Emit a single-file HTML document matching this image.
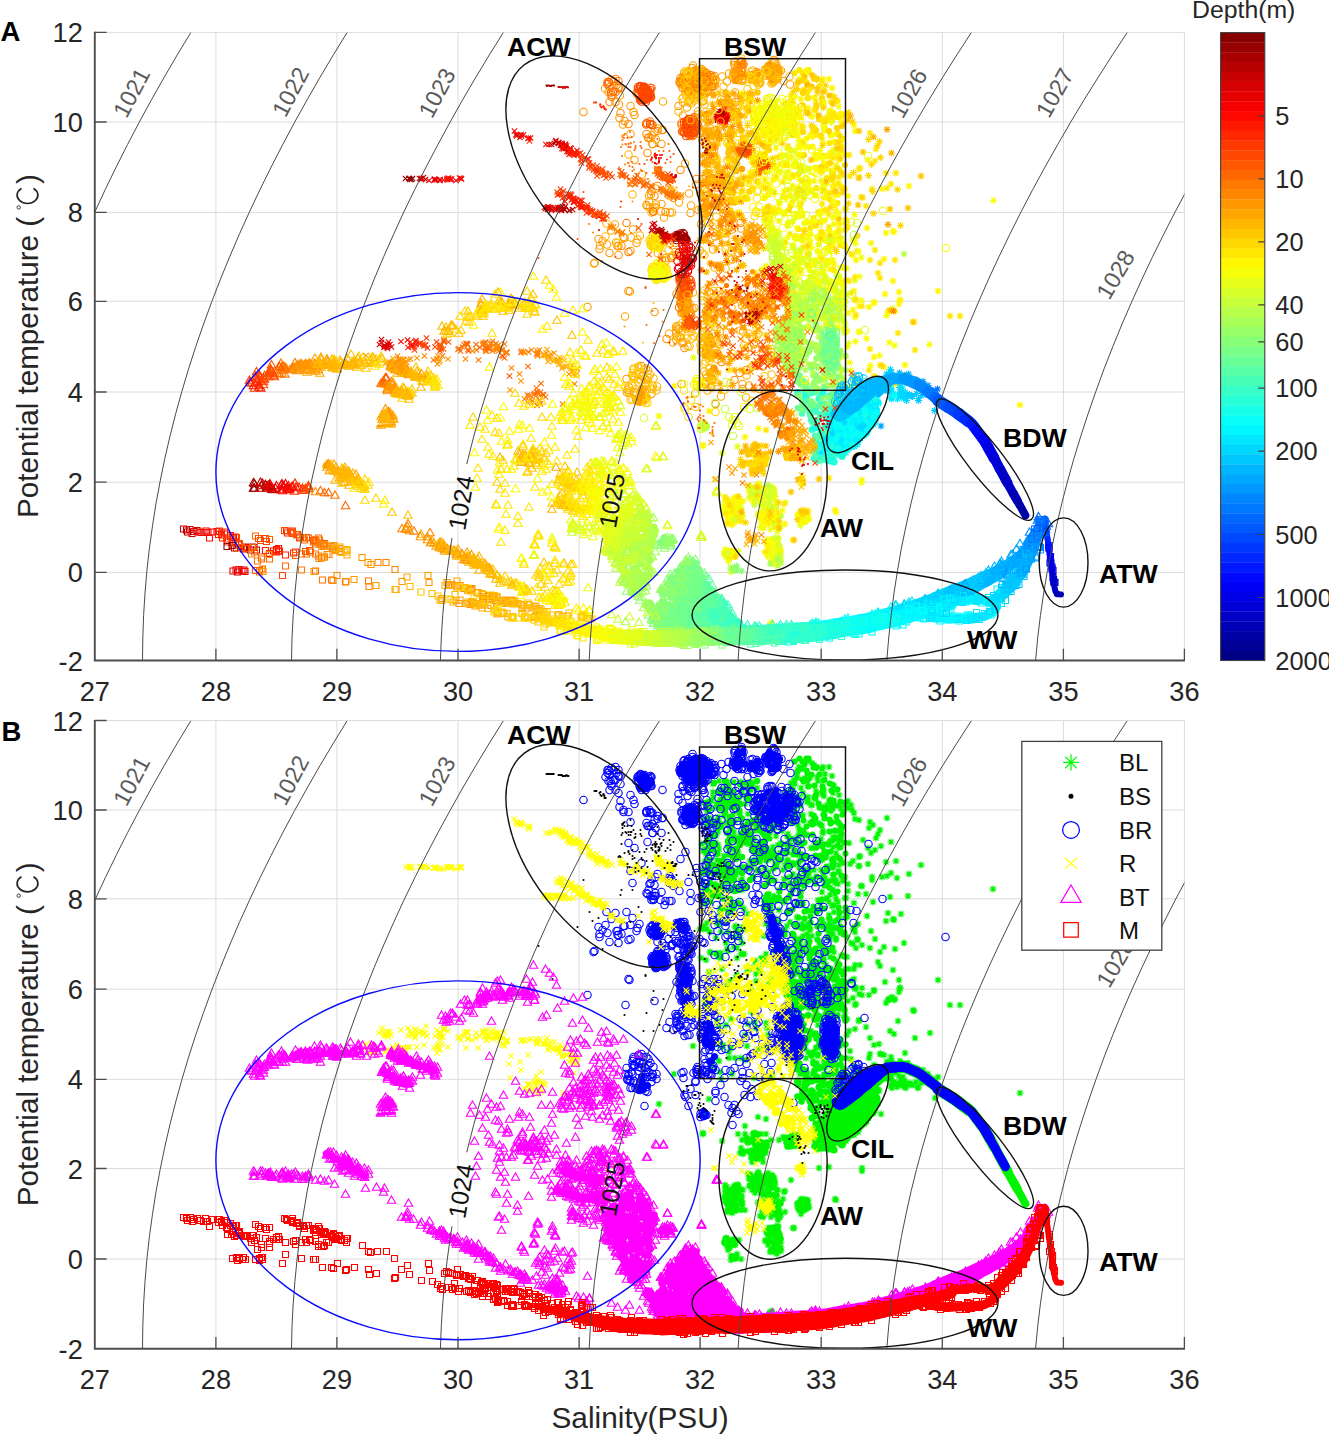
<!DOCTYPE html>
<html><head><meta charset="utf-8"><title>TS</title><style>html,body{margin:0;padding:0;background:#fff}svg{display:block}marker use{fill:none;stroke-width:1.1px}text{font-family:"Liberation Sans",sans-serif}</style></head><body>
<svg width="1329" height="1434" viewBox="0 0 1329 1434">
<rect width="1329" height="1434" fill="#fff"/>
<defs><path id="t" d="M0-4.6l4.2 7.4h-8.4z"/><path id="q" d="M-3-3h6v6h-6z"/><path id="x" d="M-2.7-2.7l5.4 5.4m0-5.4l-5.4 5.4"/><circle id="c" r="3.7"/><path id="s" d="M0-3.6v7.2M-3.6 0h7.2M-2.5-2.5l5 5M-2.5 2.5l5-5"/><circle id="d" r="1.05"/><path id="s2" d="M0-6.5v13M-6.5 0h13M-4.6-4.6l9.2 9.2M-4.6 4.6l9.2-9.2"/><marker id="m0" class="k" markerUnits="userSpaceOnUse" overflow="visible"><use href="#s" stroke="#fff700"/></marker><marker id="m1" class="k" markerUnits="userSpaceOnUse" overflow="visible"><use href="#s" stroke="#e7ff18"/></marker><marker id="m2" class="k" markerUnits="userSpaceOnUse" overflow="visible"><use href="#s" stroke="#ffe700"/></marker><marker id="m3" class="k" markerUnits="userSpaceOnUse" overflow="visible"><use href="#s" stroke="#c7ff38"/></marker><marker id="m4" class="k" markerUnits="userSpaceOnUse" overflow="visible"><use href="#s" stroke="#f7ff08"/></marker><marker id="m5" class="k" markerUnits="userSpaceOnUse" overflow="visible"><use href="#s" stroke="#ffd700"/></marker><marker id="m6" class="k" markerUnits="userSpaceOnUse" overflow="visible"><use href="#s" stroke="#d7ff28"/></marker><marker id="m7" class="k" markerUnits="userSpaceOnUse" overflow="visible"><use href="#s" stroke="#ffc700"/></marker><marker id="m8" class="k" markerUnits="userSpaceOnUse" overflow="visible"><use href="#s" stroke="#b7ff48"/></marker><marker id="m9" class="k" markerUnits="userSpaceOnUse" overflow="visible"><use href="#s" stroke="#a7ff58"/></marker><marker id="ma" class="k" markerUnits="userSpaceOnUse" overflow="visible"><use href="#s" stroke="#ffb700"/></marker><marker id="mb" class="k" markerUnits="userSpaceOnUse" overflow="visible"><use href="#s" stroke="#ff9700"/></marker><marker id="mc" class="k" markerUnits="userSpaceOnUse" overflow="visible"><use href="#s" stroke="#ffa700"/></marker><marker id="md" class="k" markerUnits="userSpaceOnUse" overflow="visible"><use href="#s" stroke="#ff7800"/></marker><marker id="me" class="k" markerUnits="userSpaceOnUse" overflow="visible"><use href="#s" stroke="#ff8700"/></marker><marker id="mf" class="k" markerUnits="userSpaceOnUse" overflow="visible"><use href="#s" stroke="#87ff78"/></marker><marker id="mg" class="k" markerUnits="userSpaceOnUse" overflow="visible"><use href="#s" stroke="#97ff68"/></marker><marker id="mh" class="k" markerUnits="userSpaceOnUse" overflow="visible"><use href="#s" stroke="#48ffb7"/></marker><marker id="mi" class="k" markerUnits="userSpaceOnUse" overflow="visible"><use href="#s" stroke="#78ff87"/></marker><marker id="mj" class="k" markerUnits="userSpaceOnUse" overflow="visible"><use href="#s" stroke="#68ff97"/></marker><marker id="mk" class="k" markerUnits="userSpaceOnUse" overflow="visible"><use href="#s" stroke="#58ffa7"/></marker><marker id="ml" class="k" markerUnits="userSpaceOnUse" overflow="visible"><use href="#s" stroke="#e70000"/></marker><marker id="mm" class="k" markerUnits="userSpaceOnUse" overflow="visible"><use href="#s" stroke="#ff0800"/></marker><marker id="mn" class="k" markerUnits="userSpaceOnUse" overflow="visible"><use href="#s" stroke="#ff1800"/></marker><marker id="mo" class="k" markerUnits="userSpaceOnUse" overflow="visible"><use href="#s" stroke="#a70000"/></marker><marker id="mp" class="k" markerUnits="userSpaceOnUse" overflow="visible"><use href="#s" stroke="#c70000"/></marker><marker id="mq" class="k" markerUnits="userSpaceOnUse" overflow="visible"><use href="#s" stroke="#d70000"/></marker><marker id="mr" class="k" markerUnits="userSpaceOnUse" overflow="visible"><use href="#s" stroke="#f70000"/></marker><marker id="ms" class="k" markerUnits="userSpaceOnUse" overflow="visible"><use href="#s" stroke="#ff2800"/></marker><marker id="mt" class="k" markerUnits="userSpaceOnUse" overflow="visible"><use href="#s" stroke="#b70000"/></marker><marker id="mu" class="k" markerUnits="userSpaceOnUse" overflow="visible"><use href="#s" stroke="#ff6800"/></marker><marker id="mv" class="k" markerUnits="userSpaceOnUse" overflow="visible"><use href="#s" stroke="#ff5800"/></marker><marker id="mw" class="k" markerUnits="userSpaceOnUse" overflow="visible"><use href="#s" stroke="#ff4800"/></marker><marker id="mx" class="k" markerUnits="userSpaceOnUse" overflow="visible"><use href="#s" stroke="#ff3800"/></marker><marker id="my" class="k" markerUnits="userSpaceOnUse" overflow="visible"><use href="#s" stroke="#28ffd7"/></marker><marker id="mz" class="k" markerUnits="userSpaceOnUse" overflow="visible"><use href="#s" stroke="#38ffc7"/></marker><marker id="m10" class="k" markerUnits="userSpaceOnUse" overflow="visible"><use href="#s" stroke="#00f7ff"/></marker><marker id="m11" class="k" markerUnits="userSpaceOnUse" overflow="visible"><use href="#s" stroke="#00e7ff"/></marker><marker id="m12" class="k" markerUnits="userSpaceOnUse" overflow="visible"><use href="#s" stroke="#08fff7"/></marker><marker id="m13" class="k" markerUnits="userSpaceOnUse" overflow="visible"><use href="#s" stroke="#18ffe7"/></marker><marker id="m14" class="k" markerUnits="userSpaceOnUse" overflow="visible"><use href="#s" stroke="#00d7ff"/></marker><marker id="m15" class="k" markerUnits="userSpaceOnUse" overflow="visible"><use href="#s" stroke="#00c7ff"/></marker><marker id="m16" class="k" markerUnits="userSpaceOnUse" overflow="visible"><use href="#s" stroke="#0068ff"/></marker><marker id="m17" class="k" markerUnits="userSpaceOnUse" overflow="visible"><use href="#s" stroke="#0097ff"/></marker><marker id="m18" class="k" markerUnits="userSpaceOnUse" overflow="visible"><use href="#s" stroke="#0087ff"/></marker><marker id="m19" class="k" markerUnits="userSpaceOnUse" overflow="visible"><use href="#s" stroke="#00b7ff"/></marker><marker id="m1a" class="k" markerUnits="userSpaceOnUse" overflow="visible"><use href="#s" stroke="#0078ff"/></marker><marker id="m1b" class="k" markerUnits="userSpaceOnUse" overflow="visible"><use href="#s" stroke="#00a7ff"/></marker><marker id="m1c" class="k" markerUnits="userSpaceOnUse" overflow="visible"><use href="#c" stroke="#ff9700"/></marker><marker id="m1d" class="k" markerUnits="userSpaceOnUse" overflow="visible"><use href="#c" stroke="#ffa700"/></marker><marker id="m1e" class="k" markerUnits="userSpaceOnUse" overflow="visible"><use href="#c" stroke="#ffb700"/></marker><marker id="m1f" class="k" markerUnits="userSpaceOnUse" overflow="visible"><use href="#c" stroke="#ff8700"/></marker><marker id="m1g" class="k" markerUnits="userSpaceOnUse" overflow="visible"><use href="#c" stroke="#ff7800"/></marker><marker id="m1h" class="k" markerUnits="userSpaceOnUse" overflow="visible"><use href="#c" stroke="#ff6800"/></marker><marker id="m1i" class="k" markerUnits="userSpaceOnUse" overflow="visible"><use href="#c" stroke="#ff5800"/></marker><marker id="m1j" class="k" markerUnits="userSpaceOnUse" overflow="visible"><use href="#c" stroke="#ff3800"/></marker><marker id="m1k" class="k" markerUnits="userSpaceOnUse" overflow="visible"><use href="#c" stroke="#ff2800"/></marker><marker id="m1l" class="k" markerUnits="userSpaceOnUse" overflow="visible"><use href="#c" stroke="#ff4800"/></marker><marker id="m1m" class="k" markerUnits="userSpaceOnUse" overflow="visible"><use href="#c" stroke="#ffc700"/></marker><marker id="m1n" class="k" markerUnits="userSpaceOnUse" overflow="visible"><use href="#c" stroke="#ffd700"/></marker><marker id="m1o" class="k" markerUnits="userSpaceOnUse" overflow="visible"><use href="#c" stroke="#ffe700"/></marker><marker id="m1p" class="k" markerUnits="userSpaceOnUse" overflow="visible"><use href="#c" stroke="#fff700"/></marker><marker id="m1q" class="k" markerUnits="userSpaceOnUse" overflow="visible"><use href="#c" stroke="#a70000"/></marker><marker id="m1r" class="k" markerUnits="userSpaceOnUse" overflow="visible"><use href="#c" stroke="#870000"/></marker><marker id="m1s" class="k" markerUnits="userSpaceOnUse" overflow="visible"><use href="#c" stroke="#b70000"/></marker><marker id="m1t" class="k" markerUnits="userSpaceOnUse" overflow="visible"><use href="#c" stroke="#c70000"/></marker><marker id="m1u" class="k" markerUnits="userSpaceOnUse" overflow="visible"><use href="#c" stroke="#970000"/></marker><marker id="m1v" class="k" markerUnits="userSpaceOnUse" overflow="visible"><use href="#c" stroke="#f70000"/></marker><marker id="m1w" class="k" markerUnits="userSpaceOnUse" overflow="visible"><use href="#c" stroke="#d70000"/></marker><marker id="m1x" class="k" markerUnits="userSpaceOnUse" overflow="visible"><use href="#c" stroke="#e70000"/></marker><marker id="m1y" class="k" markerUnits="userSpaceOnUse" overflow="visible"><use href="#c" stroke="#ff0800"/></marker><marker id="m1z" class="k" markerUnits="userSpaceOnUse" overflow="visible"><use href="#c" stroke="#ff1800"/></marker><marker id="m20" class="k" markerUnits="userSpaceOnUse" overflow="visible"><use href="#c" stroke="#f7ff08"/></marker><marker id="m21" class="k" markerUnits="userSpaceOnUse" overflow="visible"><use href="#c" stroke="#e7ff18"/></marker><marker id="m22" class="k" markerUnits="userSpaceOnUse" overflow="visible"><use href="#c" stroke="#d7ff28"/></marker><marker id="m23" class="k" markerUnits="userSpaceOnUse" overflow="visible"><use href="#c" stroke="#b7ff48"/></marker><marker id="m24" class="k" markerUnits="userSpaceOnUse" overflow="visible"><use href="#c" stroke="#c7ff38"/></marker><marker id="m25" class="k" markerUnits="userSpaceOnUse" overflow="visible"><use href="#c" stroke="#a7ff58"/></marker><marker id="m26" class="k" markerUnits="userSpaceOnUse" overflow="visible"><use href="#c" stroke="#97ff68"/></marker><marker id="m27" class="k" markerUnits="userSpaceOnUse" overflow="visible"><use href="#c" stroke="#87ff78"/></marker><marker id="m28" class="k" markerUnits="userSpaceOnUse" overflow="visible"><use href="#c" stroke="#78ff87"/></marker><marker id="m29" class="k" markerUnits="userSpaceOnUse" overflow="visible"><use href="#c" stroke="#68ff97"/></marker><marker id="m2a" class="k" markerUnits="userSpaceOnUse" overflow="visible"><use href="#c" stroke="#58ffa7"/></marker><marker id="m2b" class="k" markerUnits="userSpaceOnUse" overflow="visible"><use href="#c" stroke="#48ffb7"/></marker><marker id="m2c" class="k" markerUnits="userSpaceOnUse" overflow="visible"><use href="#c" stroke="#00b7ff"/></marker><marker id="m2d" class="k" markerUnits="userSpaceOnUse" overflow="visible"><use href="#c" stroke="#00d7ff"/></marker><marker id="m2e" class="k" markerUnits="userSpaceOnUse" overflow="visible"><use href="#c" stroke="#00c7ff"/></marker><marker id="m2f" class="k" markerUnits="userSpaceOnUse" overflow="visible"><use href="#c" stroke="#00a7ff"/></marker><marker id="m2g" class="k" markerUnits="userSpaceOnUse" overflow="visible"><use href="#x" stroke="#f70000"/></marker><marker id="m2h" class="k" markerUnits="userSpaceOnUse" overflow="visible"><use href="#x" stroke="#ff2800"/></marker><marker id="m2i" class="k" markerUnits="userSpaceOnUse" overflow="visible"><use href="#x" stroke="#ff0800"/></marker><marker id="m2j" class="k" markerUnits="userSpaceOnUse" overflow="visible"><use href="#x" stroke="#e70000"/></marker><marker id="m2k" class="k" markerUnits="userSpaceOnUse" overflow="visible"><use href="#x" stroke="#b70000"/></marker><marker id="m2l" class="k" markerUnits="userSpaceOnUse" overflow="visible"><use href="#x" stroke="#c70000"/></marker><marker id="m2m" class="k" markerUnits="userSpaceOnUse" overflow="visible"><use href="#x" stroke="#ff4800"/></marker><marker id="m2n" class="k" markerUnits="userSpaceOnUse" overflow="visible"><use href="#x" stroke="#d70000"/></marker><marker id="m2o" class="k" markerUnits="userSpaceOnUse" overflow="visible"><use href="#x" stroke="#ff3800"/></marker><marker id="m2p" class="k" markerUnits="userSpaceOnUse" overflow="visible"><use href="#x" stroke="#ff1800"/></marker><marker id="m2q" class="k" markerUnits="userSpaceOnUse" overflow="visible"><use href="#x" stroke="#ff5800"/></marker><marker id="m2r" class="k" markerUnits="userSpaceOnUse" overflow="visible"><use href="#x" stroke="#ff7800"/></marker><marker id="m2s" class="k" markerUnits="userSpaceOnUse" overflow="visible"><use href="#x" stroke="#ff6800"/></marker><marker id="m2t" class="k" markerUnits="userSpaceOnUse" overflow="visible"><use href="#x" stroke="#ff8700"/></marker><marker id="m2u" class="k" markerUnits="userSpaceOnUse" overflow="visible"><use href="#x" stroke="#ff9700"/></marker><marker id="m2v" class="k" markerUnits="userSpaceOnUse" overflow="visible"><use href="#x" stroke="#a70000"/></marker><marker id="m2w" class="k" markerUnits="userSpaceOnUse" overflow="visible"><use href="#x" stroke="#ffa700"/></marker><marker id="m2x" class="k" markerUnits="userSpaceOnUse" overflow="visible"><use href="#x" stroke="#ffb700"/></marker><marker id="m2y" class="k" markerUnits="userSpaceOnUse" overflow="visible"><use href="#x" stroke="#ffd700"/></marker><marker id="m2z" class="k" markerUnits="userSpaceOnUse" overflow="visible"><use href="#x" stroke="#ffc700"/></marker><marker id="m30" class="k" markerUnits="userSpaceOnUse" overflow="visible"><use href="#x" stroke="#870000"/></marker><marker id="m31" class="k" markerUnits="userSpaceOnUse" overflow="visible"><use href="#x" stroke="#970000"/></marker><marker id="m32" class="k" markerUnits="userSpaceOnUse" overflow="visible"><use href="#x" stroke="#ffe700"/></marker><marker id="m33" class="k" markerUnits="userSpaceOnUse" overflow="visible"><use href="#x" stroke="#fff700"/></marker><marker id="m34" class="k" markerUnits="userSpaceOnUse" overflow="visible"><use href="#x" stroke="#f7ff08"/></marker><marker id="m35" class="k" markerUnits="userSpaceOnUse" overflow="visible"><use href="#d" style="fill:#a70000;stroke:none"/></marker><marker id="m36" class="k" markerUnits="userSpaceOnUse" overflow="visible"><use href="#d" style="fill:#b70000;stroke:none"/></marker><marker id="m37" class="k" markerUnits="userSpaceOnUse" overflow="visible"><use href="#d" style="fill:#970000;stroke:none"/></marker><marker id="m38" class="k" markerUnits="userSpaceOnUse" overflow="visible"><use href="#d" style="fill:#c70000;stroke:none"/></marker><marker id="m39" class="k" markerUnits="userSpaceOnUse" overflow="visible"><use href="#d" style="fill:#d70000;stroke:none"/></marker><marker id="m3a" class="k" markerUnits="userSpaceOnUse" overflow="visible"><use href="#d" style="fill:#e70000;stroke:none"/></marker><marker id="m3b" class="k" markerUnits="userSpaceOnUse" overflow="visible"><use href="#d" style="fill:#ff2800;stroke:none"/></marker><marker id="m3c" class="k" markerUnits="userSpaceOnUse" overflow="visible"><use href="#d" style="fill:#ff3800;stroke:none"/></marker><marker id="m3d" class="k" markerUnits="userSpaceOnUse" overflow="visible"><use href="#d" style="fill:#ff4800;stroke:none"/></marker><marker id="m3e" class="k" markerUnits="userSpaceOnUse" overflow="visible"><use href="#d" style="fill:#ff1800;stroke:none"/></marker><marker id="m3f" class="k" markerUnits="userSpaceOnUse" overflow="visible"><use href="#d" style="fill:#ff6800;stroke:none"/></marker><marker id="m3g" class="k" markerUnits="userSpaceOnUse" overflow="visible"><use href="#d" style="fill:#ff5800;stroke:none"/></marker><marker id="m3h" class="k" markerUnits="userSpaceOnUse" overflow="visible"><use href="#d" style="fill:#ff7800;stroke:none"/></marker><marker id="m3i" class="k" markerUnits="userSpaceOnUse" overflow="visible"><use href="#d" style="fill:#ff8700;stroke:none"/></marker><marker id="m3j" class="k" markerUnits="userSpaceOnUse" overflow="visible"><use href="#d" style="fill:#ff0800;stroke:none"/></marker><marker id="m3k" class="k" markerUnits="userSpaceOnUse" overflow="visible"><use href="#d" style="fill:#f70000;stroke:none"/></marker><marker id="m3l" class="k" markerUnits="userSpaceOnUse" overflow="visible"><use href="#d" style="fill:#ff9700;stroke:none"/></marker><marker id="m3m" class="k" markerUnits="userSpaceOnUse" overflow="visible"><use href="#d" style="fill:#ffa700;stroke:none"/></marker><marker id="m3n" class="k" markerUnits="userSpaceOnUse" overflow="visible"><use href="#d" style="fill:#ffc700;stroke:none"/></marker><marker id="m3o" class="k" markerUnits="userSpaceOnUse" overflow="visible"><use href="#d" style="fill:#ffb700;stroke:none"/></marker><marker id="m3p" class="k" markerUnits="userSpaceOnUse" overflow="visible"><use href="#d" style="fill:#870000;stroke:none"/></marker><marker id="m3q" class="k" markerUnits="userSpaceOnUse" overflow="visible"><use href="#t" stroke="#00e7ff"/></marker><marker id="m3r" class="k" markerUnits="userSpaceOnUse" overflow="visible"><use href="#t" stroke="#0087ff"/></marker><marker id="m3s" class="k" markerUnits="userSpaceOnUse" overflow="visible"><use href="#t" stroke="#08fff7"/></marker><marker id="m3t" class="k" markerUnits="userSpaceOnUse" overflow="visible"><use href="#t" stroke="#00b7ff"/></marker><marker id="m3u" class="k" markerUnits="userSpaceOnUse" overflow="visible"><use href="#t" stroke="#18ffe7"/></marker><marker id="m3v" class="k" markerUnits="userSpaceOnUse" overflow="visible"><use href="#t" stroke="#00c7ff"/></marker><marker id="m3w" class="k" markerUnits="userSpaceOnUse" overflow="visible"><use href="#t" stroke="#00f7ff"/></marker><marker id="m3x" class="k" markerUnits="userSpaceOnUse" overflow="visible"><use href="#t" stroke="#58ffa7"/></marker><marker id="m3y" class="k" markerUnits="userSpaceOnUse" overflow="visible"><use href="#t" stroke="#0097ff"/></marker><marker id="m3z" class="k" markerUnits="userSpaceOnUse" overflow="visible"><use href="#t" stroke="#48ffb7"/></marker><marker id="m40" class="k" markerUnits="userSpaceOnUse" overflow="visible"><use href="#t" stroke="#00d7ff"/></marker><marker id="m41" class="k" markerUnits="userSpaceOnUse" overflow="visible"><use href="#t" stroke="#00a7ff"/></marker><marker id="m42" class="k" markerUnits="userSpaceOnUse" overflow="visible"><use href="#t" stroke="#38ffc7"/></marker><marker id="m43" class="k" markerUnits="userSpaceOnUse" overflow="visible"><use href="#t" stroke="#0078ff"/></marker><marker id="m44" class="k" markerUnits="userSpaceOnUse" overflow="visible"><use href="#t" stroke="#28ffd7"/></marker><marker id="m45" class="k" markerUnits="userSpaceOnUse" overflow="visible"><use href="#t" stroke="#87ff78"/></marker><marker id="m46" class="k" markerUnits="userSpaceOnUse" overflow="visible"><use href="#t" stroke="#68ff97"/></marker><marker id="m47" class="k" markerUnits="userSpaceOnUse" overflow="visible"><use href="#t" stroke="#78ff87"/></marker><marker id="m48" class="k" markerUnits="userSpaceOnUse" overflow="visible"><use href="#t" stroke="#0058ff"/></marker><marker id="m49" class="k" markerUnits="userSpaceOnUse" overflow="visible"><use href="#t" stroke="#97ff68"/></marker><marker id="m4a" class="k" markerUnits="userSpaceOnUse" overflow="visible"><use href="#t" stroke="#0068ff"/></marker><marker id="m4b" class="k" markerUnits="userSpaceOnUse" overflow="visible"><use href="#t" stroke="#ff8700"/></marker><marker id="m4c" class="k" markerUnits="userSpaceOnUse" overflow="visible"><use href="#t" stroke="#ff6800"/></marker><marker id="m4d" class="k" markerUnits="userSpaceOnUse" overflow="visible"><use href="#t" stroke="#ffc700"/></marker><marker id="m4e" class="k" markerUnits="userSpaceOnUse" overflow="visible"><use href="#t" stroke="#ff7800"/></marker><marker id="m4f" class="k" markerUnits="userSpaceOnUse" overflow="visible"><use href="#t" stroke="#ffa700"/></marker><marker id="m4g" class="k" markerUnits="userSpaceOnUse" overflow="visible"><use href="#t" stroke="#ffd700"/></marker><marker id="m4h" class="k" markerUnits="userSpaceOnUse" overflow="visible"><use href="#t" stroke="#ff0800"/></marker><marker id="m4i" class="k" markerUnits="userSpaceOnUse" overflow="visible"><use href="#t" stroke="#ff3800"/></marker><marker id="m4j" class="k" markerUnits="userSpaceOnUse" overflow="visible"><use href="#t" stroke="#ff5800"/></marker><marker id="m4k" class="k" markerUnits="userSpaceOnUse" overflow="visible"><use href="#t" stroke="#ff4800"/></marker><marker id="m4l" class="k" markerUnits="userSpaceOnUse" overflow="visible"><use href="#t" stroke="#ff9700"/></marker><marker id="m4m" class="k" markerUnits="userSpaceOnUse" overflow="visible"><use href="#t" stroke="#ffb700"/></marker><marker id="m4n" class="k" markerUnits="userSpaceOnUse" overflow="visible"><use href="#t" stroke="#ffe700"/></marker><marker id="m4o" class="k" markerUnits="userSpaceOnUse" overflow="visible"><use href="#t" stroke="#ff2800"/></marker><marker id="m4p" class="k" markerUnits="userSpaceOnUse" overflow="visible"><use href="#t" stroke="#ff1800"/></marker><marker id="m4q" class="k" markerUnits="userSpaceOnUse" overflow="visible"><use href="#t" stroke="#970000"/></marker><marker id="m4r" class="k" markerUnits="userSpaceOnUse" overflow="visible"><use href="#t" stroke="#e70000"/></marker><marker id="m4s" class="k" markerUnits="userSpaceOnUse" overflow="visible"><use href="#t" stroke="#b70000"/></marker><marker id="m4t" class="k" markerUnits="userSpaceOnUse" overflow="visible"><use href="#t" stroke="#d70000"/></marker><marker id="m4u" class="k" markerUnits="userSpaceOnUse" overflow="visible"><use href="#t" stroke="#a70000"/></marker><marker id="m4v" class="k" markerUnits="userSpaceOnUse" overflow="visible"><use href="#t" stroke="#c70000"/></marker><marker id="m4w" class="k" markerUnits="userSpaceOnUse" overflow="visible"><use href="#t" stroke="#f70000"/></marker><marker id="m4x" class="k" markerUnits="userSpaceOnUse" overflow="visible"><use href="#t" stroke="#fff700"/></marker><marker id="m4y" class="k" markerUnits="userSpaceOnUse" overflow="visible"><use href="#t" stroke="#f7ff08"/></marker><marker id="m4z" class="k" markerUnits="userSpaceOnUse" overflow="visible"><use href="#t" stroke="#e7ff18"/></marker><marker id="m50" class="k" markerUnits="userSpaceOnUse" overflow="visible"><use href="#t" stroke="#d7ff28"/></marker><marker id="m51" class="k" markerUnits="userSpaceOnUse" overflow="visible"><use href="#t" stroke="#c7ff38"/></marker><marker id="m52" class="k" markerUnits="userSpaceOnUse" overflow="visible"><use href="#t" stroke="#b7ff48"/></marker><marker id="m53" class="k" markerUnits="userSpaceOnUse" overflow="visible"><use href="#t" stroke="#a7ff58"/></marker><marker id="m54" class="k" markerUnits="userSpaceOnUse" overflow="visible"><use href="#q" stroke="#c70000"/></marker><marker id="m55" class="k" markerUnits="userSpaceOnUse" overflow="visible"><use href="#q" stroke="#b70000"/></marker><marker id="m56" class="k" markerUnits="userSpaceOnUse" overflow="visible"><use href="#q" stroke="#d70000"/></marker><marker id="m57" class="k" markerUnits="userSpaceOnUse" overflow="visible"><use href="#q" stroke="#e70000"/></marker><marker id="m58" class="k" markerUnits="userSpaceOnUse" overflow="visible"><use href="#q" stroke="#f70000"/></marker><marker id="m59" class="k" markerUnits="userSpaceOnUse" overflow="visible"><use href="#q" stroke="#ff0800"/></marker><marker id="m5a" class="k" markerUnits="userSpaceOnUse" overflow="visible"><use href="#q" stroke="#ff2800"/></marker><marker id="m5b" class="k" markerUnits="userSpaceOnUse" overflow="visible"><use href="#q" stroke="#ff3800"/></marker><marker id="m5c" class="k" markerUnits="userSpaceOnUse" overflow="visible"><use href="#q" stroke="#ff4800"/></marker><marker id="m5d" class="k" markerUnits="userSpaceOnUse" overflow="visible"><use href="#q" stroke="#ff6800"/></marker><marker id="m5e" class="k" markerUnits="userSpaceOnUse" overflow="visible"><use href="#q" stroke="#ff7800"/></marker><marker id="m5f" class="k" markerUnits="userSpaceOnUse" overflow="visible"><use href="#q" stroke="#ff5800"/></marker><marker id="m5g" class="k" markerUnits="userSpaceOnUse" overflow="visible"><use href="#q" stroke="#ff1800"/></marker><marker id="m5h" class="k" markerUnits="userSpaceOnUse" overflow="visible"><use href="#q" stroke="#ff8700"/></marker><marker id="m5i" class="k" markerUnits="userSpaceOnUse" overflow="visible"><use href="#q" stroke="#970000"/></marker><marker id="m5j" class="k" markerUnits="userSpaceOnUse" overflow="visible"><use href="#q" stroke="#ff9700"/></marker><marker id="m5k" class="k" markerUnits="userSpaceOnUse" overflow="visible"><use href="#q" stroke="#ffa700"/></marker><marker id="m5l" class="k" markerUnits="userSpaceOnUse" overflow="visible"><use href="#q" stroke="#ffb700"/></marker><marker id="m5m" class="k" markerUnits="userSpaceOnUse" overflow="visible"><use href="#q" stroke="#ffc700"/></marker><marker id="m5n" class="k" markerUnits="userSpaceOnUse" overflow="visible"><use href="#q" stroke="#ffd700"/></marker><marker id="m5o" class="k" markerUnits="userSpaceOnUse" overflow="visible"><use href="#q" stroke="#ffe700"/></marker><marker id="m5p" class="k" markerUnits="userSpaceOnUse" overflow="visible"><use href="#q" stroke="#d7ff28"/></marker><marker id="m5q" class="k" markerUnits="userSpaceOnUse" overflow="visible"><use href="#q" stroke="#c7ff38"/></marker><marker id="m5r" class="k" markerUnits="userSpaceOnUse" overflow="visible"><use href="#q" stroke="#00f7ff"/></marker><marker id="m5s" class="k" markerUnits="userSpaceOnUse" overflow="visible"><use href="#q" stroke="#08fff7"/></marker><marker id="m5t" class="k" markerUnits="userSpaceOnUse" overflow="visible"><use href="#q" stroke="#48ffb7"/></marker><marker id="m5u" class="k" markerUnits="userSpaceOnUse" overflow="visible"><use href="#q" stroke="#b7ff48"/></marker><marker id="m5v" class="k" markerUnits="userSpaceOnUse" overflow="visible"><use href="#q" stroke="#f7ff08"/></marker><marker id="m5w" class="k" markerUnits="userSpaceOnUse" overflow="visible"><use href="#q" stroke="#87ff78"/></marker><marker id="m5x" class="k" markerUnits="userSpaceOnUse" overflow="visible"><use href="#q" stroke="#a7ff58"/></marker><marker id="m5y" class="k" markerUnits="userSpaceOnUse" overflow="visible"><use href="#q" stroke="#78ff87"/></marker><marker id="m5z" class="k" markerUnits="userSpaceOnUse" overflow="visible"><use href="#q" stroke="#e7ff18"/></marker><marker id="m60" class="k" markerUnits="userSpaceOnUse" overflow="visible"><use href="#q" stroke="#97ff68"/></marker><marker id="m61" class="k" markerUnits="userSpaceOnUse" overflow="visible"><use href="#q" stroke="#28ffd7"/></marker><marker id="m62" class="k" markerUnits="userSpaceOnUse" overflow="visible"><use href="#q" stroke="#18ffe7"/></marker><marker id="m63" class="k" markerUnits="userSpaceOnUse" overflow="visible"><use href="#q" stroke="#58ffa7"/></marker><marker id="m64" class="k" markerUnits="userSpaceOnUse" overflow="visible"><use href="#q" stroke="#38ffc7"/></marker><marker id="m65" class="k" markerUnits="userSpaceOnUse" overflow="visible"><use href="#q" stroke="#68ff97"/></marker><marker id="m66" class="k" markerUnits="userSpaceOnUse" overflow="visible"><use href="#q" stroke="#00e7ff"/></marker><marker id="m67" class="k" markerUnits="userSpaceOnUse" overflow="visible"><use href="#q" stroke="#fff700"/></marker><marker id="m68" class="k" markerUnits="userSpaceOnUse" overflow="visible"><use href="#q" stroke="#00d7ff"/></marker><marker id="m69" class="k" markerUnits="userSpaceOnUse" overflow="visible"><use href="#q" stroke="#00b7ff"/></marker><marker id="m6a" class="k" markerUnits="userSpaceOnUse" overflow="visible"><use href="#q" stroke="#0068ff"/></marker><marker id="m6b" class="k" markerUnits="userSpaceOnUse" overflow="visible"><use href="#q" stroke="#00c7ff"/></marker><marker id="m6c" class="k" markerUnits="userSpaceOnUse" overflow="visible"><use href="#q" stroke="#00a7ff"/></marker><marker id="m6d" class="k" markerUnits="userSpaceOnUse" overflow="visible"><use href="#q" stroke="#0087ff"/></marker><marker id="m6e" class="k" markerUnits="userSpaceOnUse" overflow="visible"><use href="#q" stroke="#0097ff"/></marker><marker id="m6f" class="k" markerUnits="userSpaceOnUse" overflow="visible"><use href="#q" stroke="#0078ff"/></marker><marker id="m6g" class="k" markerUnits="userSpaceOnUse" overflow="visible"><use href="#q" stroke="#0058ff"/></marker><marker id="m6h" class="k" markerUnits="userSpaceOnUse" overflow="visible"><use href="#q" stroke="#0018ff"/></marker><marker id="m6i" class="k" markerUnits="userSpaceOnUse" overflow="visible"><use href="#q" stroke="#0000b7"/></marker><marker id="m6j" class="k" markerUnits="userSpaceOnUse" overflow="visible"><use href="#q" stroke="#0000f7"/></marker><marker id="m6k" class="k" markerUnits="userSpaceOnUse" overflow="visible"><use href="#q" stroke="#0000c7"/></marker><marker id="m6l" class="k" markerUnits="userSpaceOnUse" overflow="visible"><use href="#q" stroke="#0000e7"/></marker><marker id="m6m" class="k" markerUnits="userSpaceOnUse" overflow="visible"><use href="#q" stroke="#0000d7"/></marker><marker id="m6n" class="k" markerUnits="userSpaceOnUse" overflow="visible"><use href="#q" stroke="#0008ff"/></marker><marker id="m6o" class="k" markerUnits="userSpaceOnUse" overflow="visible"><use href="#s" stroke="#00f400"/></marker><marker id="m6p" class="k" markerUnits="userSpaceOnUse" overflow="visible"><use href="#c" stroke="#0000ff"/></marker><marker id="m6q" class="k" markerUnits="userSpaceOnUse" overflow="visible"><use href="#x" stroke="#ffff00"/></marker><marker id="m6r" class="k" markerUnits="userSpaceOnUse" overflow="visible"><use href="#d" style="fill:#000000;stroke:none"/></marker><marker id="m6s" class="k" markerUnits="userSpaceOnUse" overflow="visible"><use href="#t" stroke="#ff00ff"/></marker><marker id="m6t" class="k" markerUnits="userSpaceOnUse" overflow="visible"><use href="#q" stroke="#ff0000"/></marker></defs>
<defs><clipPath id="ca"><rect x="94.8" y="32.4" width="1089.6" height="628.0"/></clipPath><clipPath id="cb"><rect x="94.8" y="720.7" width="1089.6" height="628.0"/></clipPath></defs>
<path d="M215.9 32.4V660.5M336.9 32.4V660.5M458.0 32.4V660.5M579.1 32.4V660.5M700.1 32.4V660.5M821.2 32.4V660.5M942.3 32.4V660.5M1063.4 32.4V660.5M1184.4 32.4V660.5M94.8 572.4H1184.4M94.8 482.2H1184.4M94.8 392.0H1184.4M94.8 301.3H1184.4M94.8 212.4H1184.4M94.8 122.0H1184.4M94.8 32.4H1184.4" stroke="#dcdcdc" stroke-width="1" fill="none"/>
<g clip-path="url(#ca)" fill="none" stroke-linecap="round">
<path d="M839 421.6L842.2 419.3M842.2 419.3L845.4 416.9" stroke="#00b7ff" stroke-width="10"/>
<path d="M845.4 416.9L848.7 414.6M848.7 414.6L851.9 412.2M851.9 412.2L855.2 409.8M855.2 409.8L858.4 407.5M858.4 407.5L861.7 405.1" stroke="#00b7ff" stroke-width="11"/>
<path d="M861.7 405.1L864.7 402.5M864.7 402.5L867.7 399.9M867.7 399.9L870.7 397.2M870.7 397.2L873.7 394.5M873.7 394.5L876.7 391.9M876.7 391.9L879.7 389.2M879.7 389.2L882.7 386.6M882.7 386.6L885.9 384.1M885.9 384.1L889 381.6" stroke="#00b7ff" stroke-width="12"/>
<path d="M889 381.6L892.3 379.4M892.3 379.4L896.3 379.1M896.3 379.1L900.3 378.8M900.3 378.8L904.3 378.4" stroke="#00a7ff" stroke-width="12"/>
<path d="M904.3 378.4L907.9 380M907.9 380L911.6 381.6M911.6 381.6L915.3 383.2M915.3 383.2L919 384.8" stroke="#0097ff" stroke-width="12"/>
<path d="M919 384.8L922.2 387.2M922.2 387.2L925.3 389.7M925.3 389.7L928.5 392.1" stroke="#0087ff" stroke-width="12"/>
<path d="M928.5 392.1L931.7 394.6M931.7 394.6L934.8 397.1" stroke="#0078ff" stroke-width="11"/>
<path d="M934.8 397.1L938 399.5" stroke="#0068ff" stroke-width="11"/>
<path d="M938 400.6L941.5 402.7M941.5 402.7L944.9 404.9M944.9 404.9L948.4 407.1" stroke="#0058ff" stroke-width="12"/>
<path d="M948.4 407.1L951.9 409.2M951.9 409.2L955.3 411.5M955.3 411.5L958.6 413.9" stroke="#0048ff" stroke-width="12"/>
<path d="M958.6 413.9L961.9 416.4M961.9 416.4L965.1 418.8M965.1 418.8L968.4 421.3" stroke="#0038ff" stroke-width="12"/>
<path d="M968.4 421.3L971.7 423.7M971.7 423.7L974.2 427" stroke="#0028ff" stroke-width="11"/>
<path d="M974.2 427L976.6 430.3M976.6 430.3L979.1 433.6M979.1 433.6L981.5 436.8" stroke="#0018ff" stroke-width="11"/>
<path d="M981.5 436.8L984 440.1M984 440.1L986 443.6M986 443.6L988 447.2" stroke="#0008ff" stroke-width="11"/>
<path d="M988 447.2L990 450.8M990 450.8L992 454.4M992 454.4L994 458" stroke="#0000f7" stroke-width="11"/>
<path d="M994 458L996 461.5M996 461.5L997.9 465.2M997.9 465.2L999.8 468.8" stroke="#0000e7" stroke-width="10"/>
<path d="M999.8 468.8L1001.8 472.4M1001.8 472.4L1003.7 476M1003.7 476L1005.7 479.6" stroke="#0000d7" stroke-width="10"/>
<path d="M1005.7 479.6L1007.6 483.2" stroke="#0000c7" stroke-width="10"/>
<path d="M1007.6 483.2L1009.5 486.8M1009.5 486.8L1011.5 490.4M1011.5 490.4L1013.5 493.9" stroke="#0000c7" stroke-width="9"/>
<path d="M1013.5 493.9L1015.5 497.5M1015.5 497.5L1017.5 501.1" stroke="#0000b7" stroke-width="9"/>
<path d="M1017.5 501.1L1019.5 504.7" stroke="#0000b7" stroke-width="8"/>
<path d="M1019.5 504.7L1021.5 508.2M1021.5 508.2L1023.4 511.8M1023.4 511.8L1025.4 515.4" stroke="#0000a7" stroke-width="8"/>
<path d="M759.5 140h0m12 0h0m1-9h0m2-10h0m5 5h0m4 3h0m5-21h0m3-8h0m7 13h0m17-3h0m14 2h0m4 1h0m4 4h0m1 0h0m7-3h0m-8-13h0m-6 1h0m-7-11h0m-5-5h0m-13-4h0m-9 1h0m-3-10h0m5-3h0m3 3h0m6-3h0m-1 22h0m-5-1h0m10 42h0m1 2h0m11-8h0m2-6h0m11 12h0m4 7h0m-12 3h0m3 9h0m-9 4h0m-6-1h0m-27-5h0m-3 15h0m-14 0h0m-8-6h0m-1 0h0m2-11h0m32 26h0m8 12h0m10 2h0m11 6h0m2 5h0m8 4h0m4-16h0m-8-1h0m-1-6h0m-6-2h0m-7 44h0m-6-4h0m-3 10h0m-12 1h0m23 3h0m-4 5h0m21 2h0m2-1h0m0 7h0m3 1h0m2-23h0m-12 47h0m-47-10h0m-12-8h0m-4-14h0m0-24h0m-2-1h0m-4 0h0m3-6h0m6 3h0m5 0h0m12-4h0m-7-10h0m-2 84h0" stroke="#ffe700" stroke-width="6.2"/>
<path d="M763.5 158.5h0m1 4h0m2 3h0m7 14h0m-4 10h0m-1 5h0m-4 3h0m15 6h0m-3 9h0m-6 5h0m18 5h0m-1 3h0m8 11h0m7 4h0m2-11h0m-2-14h0m0-2h0m18 0h0m4 7h0m-12 2h0m17 8h0m7 2h0m-2 7h0m-1-1h0m-3 6h0m14 0h0m-5-21h0m6-4h0m-21-22h0m-9-2h0m-4-5h0m-1 1h0m-5-8h0m-1 0h0m-11-7h0m3-10h0m2-12h0m3-13h0m5-3h0m6-2h0m0 10h0m4 12h0m-1 9h0m9-4h0m1 0h0m3-7h0m9 0h0m2 3h0m0-7h0m0-1h0m5 3h0m-2-16h0m-12-3h0m-6-5h0m6-20h0m10 3h0m-8-18h0m-18 2h0m-8 12h0m-9 1h0m3 7h0m-10-1h0m-9 40h0m5 7h0m-1 34h0m5-2h0m-6 47h0m-2 3h0m-5 11h0m43 1h0m5 5h0m-1 17h0m-5 4h0m17-2h0m2 0h0m-11 25h0m-21-236h0" stroke="#fff700" stroke-width="6.2"/>
<path d="M774.5 262h0m5 0h0m1 2h0m7-4h0m8-3h0m3-1h0m2 3h0m-2 3h0m-1 5h0m-2 3h0m5-1h0m9 1h0m-1-5h0m4 0h0m3-5h0m2-9h0m0-13h0m-7-4h0m-3-12h0m-3 1h0m-4-14h0m-3-19h0m9-3h0m0-18h0m-5-3h0m-8 0h0m-1 10h0m-4 2h0m-12-9h0m44 2h0m5-2h0m-3-11h0m1 27h0m-2 26h0m5 30h0m3 21h0m3-2h0m12 8h0m-21 3h0m0 2h0m-5 8h0m12 0h0m0 3h0m3 7h0m-7 9h0m-41 0h0m0 3h0m-4-27h0m-1 0h0m-5-24h0m1-17h0m17 11h0m10-103h0m20-17h0m18 20h0" stroke="#f7ff08" stroke-width="6.2"/>
<path d="M764 135h0m1 12h0m0 7h0m4-4h0m0-6h0m4 23h0m-8 1h0m1 4h0m8 20h0m-6 21h0m-3 4h0m24-7h0m27 15h0m14 11h0m0 10h0m3-72h0m-1-3h0m-2-8h0m-9 4h0m-20 4h0m3-16h0m-2-11h0m1-12h0m-10 3h0m2-11h0m-2-15h0m23-2h0m3 12h0m5 2h0m8-1h0m0-1h0m5 9h0m5-2h0m-13 5h0m-8 5h0m-5-6h0m-3-2h0m-5-30h0m-5-5h0m19 5h0m-5-19h0m-3 0h0m21 63h0m10 23h0" stroke="#ffd700" stroke-width="6.2"/>
<path d="M807.5 85h0" stroke="#ffb700" stroke-width="6.2"/>
<path d="M771.5 190.5h0m9-19h0m7-23h0m10 48h0m-5 25h0m0 24h0m8 6h0m8 5h0m3 5h0m2 11h0m-1 4h0m-2 0h0m5 3h0m3 1h0m-10 4h0m4 7h0m1 8h0m-16 1h0m-3 0h0m-10-18h0m6-13h0m4-6h0m2 2h0m30-1h0m13 12h0m1 17h0m-2 14h0m5 1h0m-11-68h0m-14 4h0m21-75h0" stroke="#e7ff18" stroke-width="6.2"/>
<path d="M787 307.5h0m4-4h0m0-3h0m0-13h0m6-3h0m11-3h0m1 10h0m-5 0h0m11 23h0m-22 2h0m47-18h0m-31-45h0" stroke="#d7ff28" stroke-width="6.2"/>
<path d="M771.5 138.5h0m14-35h0m37 0h0m7-8h0m-18-9h0m-7-10h0m14 39h0m25 8h0m-5 95h0" stroke="#ffc700" stroke-width="6.2"/>
<path d="M780 245h0m12 32h0m33 15h0" stroke="#c7ff38" stroke-width="6.2"/>
<path d="M823.5 318h0" stroke="#b7ff48" stroke-width="6.2"/>
<path d="M709.5 206.5h0m25-4h0m-1-10h0m-2-4h0m0-7h0m-5-2h0m-5 1h0m-4-14h0m-5-5h0m16-3h0m0-6h0m1-4h0m14-6h0m-2-12h0m-1-1h0m0-14h0m-8 2h0m0 1h0m-6-15h0m-7-1h0m-6-8h0m12-2h0m23 18h0m6 11h0m6 34h0m-28 13h0" stroke="#ffb700" stroke-width="6.4"/>
<path d="M702 184.5h0m7-6h0m-1-14h0m-2 36h0m1 5h0m-2-91h0m24-13h0" stroke="#ff9700" stroke-width="6.4"/>
<path d="M704 182h0m9 2h0m0-7h0m-5-5h0m-3-10h0m2-9h0m-2-22h0m14 7h0m12-2h0m-1-4h0m-5-8h0m2-9h0m-1-10h0m-1-3h0m15-6h0m3 42h0m-1 31h0m-6 2h0m0 13h0m-4 5h0m-4-7h0m-8 5h0m1-15h0m-11 22h0m-4 9h0m12 4h0" stroke="#ffa700" stroke-width="6.4"/>
<path d="M713.5 133.5h0m17-5h0m8-7h0m0-7h0m9-7h0m3-10h0m7-5h0m-3 39h0m-6 3h0m10 7h0m-19 15h0m-5 4h0m-5-11h0m-7 23h0m-4 5h0m7 12h0m8 10h0m8-15h0m11 4h0m5-7h0" stroke="#ffc700" stroke-width="6.4"/>
<path d="M730.5 210.5h0m7-9h0m8-4h0m4-6h0m8-63h0m-22-15h0" stroke="#ffd700" stroke-width="6.4"/>
<path d="M736.5 199h0m11 0h0m7-41h0m2-24h0" stroke="#ffe700" stroke-width="6.4"/>
<path d="M707 114h0" stroke="#ff8700" stroke-width="6.4"/>
<path d="M793.5 346.5h0m5 3h0m0 2h0m1-9h0m-5 24h0m1 5h0m-2 0h0m1 4h0m19-1h0m0 1h0m1 7h0m-1 3h0m-7-1h0m-1 9h0m-8-1h0m22 12h0m5-18h0m4-1h0m-4-6h0m-4 0h0m8-5h0m-11-8h0m-1-8h0" stroke="#97ff68" stroke-width="6.6"/>
<path d="M732.5 568h0m47-9h0m-11-56h0m-7 2h0m36-111h0m5-42h0m3-10h0m10 3h0m2 3h0m6 5h0m1-1h0m-1 6h0m3 1h0m-4 2h0m15 3h0m2 4h0m1 8h0m3 4h0m-8 1h0m-5-5h0m9-20h0m1-5h0m5 5h0m-12-19h0m-1-10h0m-2-13h0m-25-2h0m-3 0h0m0-4h0m5 1h0m-11-6h0m0-3h0m-5 17h0m-4 7h0m-4 1h0m7 10h0m-4 7h0m16-14h0m6-1h0m-10-4h0" stroke="#b7ff48" stroke-width="6.6"/>
<path d="M735.5 570.5h0m66-163h0m1-7h0m2 0h0m7 1h0m2 6h0m12-1h0m2-10h0m5-2h0m8-2h0m-1 10h0m3 9h0m-33-18h0m-4-11h0m-2 2h0m-2-2h0m-4-1h0m-3-18h0m3-15h0m14 19h0m5 10h0m1 1h0" stroke="#87ff78" stroke-width="6.6"/>
<path d="M728 506.5h0m3 0h0m3 5h0m22-11h0m1-4h0m4 1h0m1-7h0m6 2h0m3 4h0m2 2h0m3 8h0m-12 0h0m7 33h0m0 22h0m12-225h0m4-15h0m4-1h0m6-9h0m-1-5h0m5-2h0m-11 1h0m8-11h0m3-6h0m3-5h0m-9-1h0m-4 0h0m1 5h0m33-6h0m0 13h0m9-5h0m2 0h0m5-7h0m3 11h0m1 1h0m-17 12h0m-1 3h0m1 3h0m-3 1h0m1 7h0m3 0h0m2 4h0m-5 1h0m1 1h0m-8 2h0m-5 2h0m2-13h0m-2-7h0m-6 5h0m37 16h0m0 1h0" stroke="#d7ff28" stroke-width="6.6"/>
<path d="M733 569.5h0m72-187h0m12 6h0m-1 3h0m5-12h0m10-2h0m3 8h0m3-1h0m5 1h0m-15-15h0m-3-1h0m-10-5h0m5-10h0m3-1h0m-5-3h0m-8 1h0m1-5h0m-7-10h0m-7-3h0m4-4h0m16-1h0m17 20h0m1 4h0m0 9h0m-2-3h0m-34-1h0m1 4h0m-3 7h0m-3-21h0" stroke="#a7ff58" stroke-width="6.6"/>
<path d="M726 551h0m49 3h0m5-2h0m-3-11h0m-8-20h0m3-5h0m-6-8h0m-4-7h0m-2-2h0m-2-6h0m7 0h0m2 2h0m-31 14h0m65 9h0m26-171h0m17-18h0m0-7h0m-9-3h0m1-3h0m3-6h0m3-3h0m1-6h0m0-2h0m2 2h0m-7-8h0m-11-1h0m-2-2h0m-13 2h0m-2-9h0m-17 2h0" stroke="#e7ff18" stroke-width="6.6"/>
<path d="M766.5 488h0m2 2h0m0 2h0m12 24h0m-1 43h0m-5-2h0m1 6h0m6-224h0m5-3h0m0-3h0m-7-1h0m16-2h0m3 2h0m1-1h0m3 8h0m0-21h0m-5 0h0m-2 3h0m-4-12h0m-2-6h0m0-9h0m19-2h0m-1-3h0m3-1h0m3-3h0m-12 22h0m13 14h0m0 0h0m5 9h0m9-6h0m6 4h0m2 1h0m-3 9h0m8-20h0m-7-11h0m-8 3h0m15 60h0m0 21h0" stroke="#c7ff38" stroke-width="6.6"/>
<path d="M799.5 375.5h0m3 5h0m0 26h0m30 2h0m9-1h0m-5-6h0m-11-15h0" stroke="#78ff87" stroke-width="6.6"/>
<path d="M798 408h0m5-5h0m8 2h0m20-2h0m2 3h0m-17 48h0m0 5h0" stroke="#68ff97" stroke-width="6.6"/>
<path d="M726.5 550.5h0m4 3h0m1-2h0m1 3h0m37-1h0m-2-8h0m10 5h0m3 0h0m-5-24h0m1-10h0m-10 3h0m-4-3h0m-1-26h0m-4-5h0m-2 8h0m-5 3h0m-21 5h0m0 10h0m-1 3h0m-1 1h0m0 1h0m2 0h0m5-8h0m65 7h0m3 0h0m28-181h0m7-52h0m6 4h0" stroke="#f7ff08" stroke-width="6.6"/>
<path d="M814.5 411h0m16-1h0m-15 43h0m3 5h0" stroke="#58ffa7" stroke-width="6.6"/>
<path d="M829 413.5h0m-27 0h0" stroke="#48ffb7" stroke-width="6.6"/>
<path d="M718.5 115h0m2 1h0m1-3h0m0-1h0m1 7h0" stroke="#c70000" stroke-width="6.6"/>
<path d="M721.5 116h0" stroke="#b70000" stroke-width="6.6"/>
<path d="M721.5 113.5h0m0 0h0" stroke="#d70000" stroke-width="6.6"/>
<path d="M730 510.5h0m8-2h0m-1-9h0m19-2h0m0-5h0m-1-2h0m3 4h0m-7-7h0m-1-23h0m6-7h0m-2-4h0m18 58h0m7 16h0m-8 14h0m29-22h0m3 1h0m1-1h0m1 2h0m0-3h0m1-3h0m0-3h0" stroke="#ffe700" stroke-width="6.6"/>
<path d="M748 453h0m10 0h0m6 2h0m2-1h0m-5 12h0m-8 0h0m0 3h0m2-6h0m32-5h0m1-3h0m-2 0h0m16 58h0" stroke="#ffc700" stroke-width="6.6"/>
<path d="M750.5 463h0m6 0h0m5 0h0m0-3h0m-3-7h0m-1 17h0m32-12h0m16 56h0m-27 8h0m-3 4h0" stroke="#ffd700" stroke-width="6.6"/>
<path d="M751.5 453.5h0m5 1h0m4 0h0m-4 15h0m34-18h0" stroke="#ffb700" stroke-width="6.6"/>
<path d="M764 464h0m28-6h0m-3-9h0m-3 1h0" stroke="#ffa700" stroke-width="6.6"/>
<path d="M724.5 553.5h0m7-2h0m1 1h0m2 4h0m0-41h0m-6 3h0m-2-4h0m3-6h0m3 0h0m0-7h0m4 0h0m4 0h0m32 5h0m-1 8h0m-1 26h0m3 1h0m-1 6h0m-2-1h0m9 1h0m-1 5h0m23-35h0m3-1h0m-4-2h0m-11-63h0" stroke="#fff700" stroke-width="6.6"/>
<path d="M814 458.5h0" stroke="#28ffd7" stroke-width="6.6"/>
<path d="M827.5 439.5h0m2 3h0m1 0h0m2 5h0m6-1h0m0-1h0m6 3h0m1-2h0m5 0h0m-1-4h0m-3 0h0m8-2h0m1 3h0m1-11h0m4 1h0m1-3h0m5-2h0m1-2h0m3-1h0m2-2h0m1-3h0m2-5h0m-5 0h0m-1 0h0m1 1h0m-2 2h0m0 0h0m-2 4h0m-2 1h0m-2-3h0m-4-2h0m-1-2h0m-2 1h0m1 4h0m-3-1h0m1 4h0m-2 1h0m0 0h0m0 1h0m-2 1h0m-3 0h0m1-1h0m0 5h0m-5-4h0m-4 1h0m-1-3h0m-3 0h0m0-2h0m4-1h0m1-6h0m-2-1h0m0-3h0m-2 2h0m-2 0h0m0 0h0m1 3h0m-3 4h0m1 6h0m2 2h0m2 4h0m2 1h0m-10-2h0m15-15h0m0-2h0m4 0h0m-2-4h0m-3 0h0m-2-2h0m2-2h0m1-2h0m1 0h0m1 1h0m7-2h0m3-1h0m1-1h0m0 4h0m1 3h0m0 3h0m-3-1h0m10 2h0m1-5h0m0-1h0m5 0h0m-4-5h0m0-5h0m-1-2h0m-1 0h0m-3-2h0m1 7h0m6-2h0m5 2h0m-22-2h0m6 27h0" stroke="#00f7ff" stroke-width="8"/>
<path d="M829 426h0m5-2h0m-1-2h0m8 0h0m-2 4h0m0 3h0m-2-1h0m1 6h0m1 5h0m1 3h0m-2 3h0m-2 2h0m8-1h0m2-1h0m2 3h0m2-8h0m5-3h0m8-2h0m3-2h0m-5-3h0m3-6h0m0-3h0m4-2h0m-8-4h0m1-1h0m-5-3h0m-1 5h0m-3 1h0m-1 3h0m1 5h0m-2-1h0m3 3h0m2 0h0m1-3h0m2-16h0m-9-2h0m-6 2h0m-3-1h0m4 4h0m-2 5h0m-3-1h0m-3 0h0m1-1h0m-5 19h0m-2 1h0m0 8h0m16-7h0m30-21h0m-2-9h0m-1 0h0m-2 1h0m-2-2h0m-2-1h0m1-2h0m2-2h0m-1-1h0m-1-2h0m-1 3h0m-3-2h0m-2 3h0m11 1h0m2 3h0" stroke="#08fff7" stroke-width="8"/>
<path d="M829 435h0m7 5h0m4 0h0m0-3h0m8-1h0m-1-7h0m6-1h0m2 6h0m3-1h0m1 5h0m-4 5h0m-7 2h0m-5 0h0m-11 0h0m4-22h0m7 1h0m1-6h0m5-1h0m0-9h0m-5-2h0m-1 4h0m-8 6h0m20 6h0m6 1h0m8 1h0m-1-5h0m-5-5h0m-1 0h0m-2-12h0m4-2h0m2 1h0m1-6h0m2 12h0m7 3h0m-21-10h0m-1-2h0" stroke="#00e7ff" stroke-width="8"/>
<path d="M832.5 431h0m1 3h0m5 15h0m9-26h0m17-5h0m2-2h0m-1-16h0m-4 0h0" stroke="#18ffe7" stroke-width="8"/>
<path d="M841 423.5h0" stroke="#00d7ff" stroke-width="8"/>
<path d="M806 391.5h0m6 1h0m11-1h0m-4 7h0m2 5h0m-5 8h0m-6 1h0m16 0h0m2 3h0m8-3h0m-4-7h0m6-8h0m-1-3h0m4-3h0m-20 40h0m2 3h0m2 5h0m-9-1h0m1 6h0m11 6h0m7 3h0m-2 4h0m-21-28h0" stroke="#38ffc7" stroke-width="7.2"/>
<path d="M803.5 402h0m17 2h0m19-6h0m-14 29h0" stroke="#68ff97" stroke-width="7.2"/>
<path d="M806.5 396h0m16 8h0m2 5h0m2-1h0m7 0h0m0-9h0m7-2h0m0-1h0m-8 26h0m-15-2h0m-6 0h0m1 2h0m5 5h0m-2 9h0m10-1h0m-1 9h0m6 10h0m8-2h0m-18-37h0" stroke="#48ffb7" stroke-width="7.2"/>
<path d="M815 428h0m11 6h0m3 3h0m-1 1h0m2 11h0m-6 2h0m-4 1h0m-3 2h0m4 4h0m7 0h0m0-2h0m2 5h0m4 1h0m-13-16h0m12-37h0m-3-13h0m-8-3h0" stroke="#18ffe7" stroke-width="7.2"/>
<path d="M805.5 401h0m2-6h0m9-3h0m8 12h0m8-3h0m0-2h0m-5 33h0m-9 5h0m-8-22h0" stroke="#58ffa7" stroke-width="7.2"/>
<path d="M798 392.5h0m7 3h0m32 12h0m-3 15h0m-7-4h0m-1 25h0m5 1h0m3 2h0m-2 5h0m8 1h0m-1 1h0m3 3h0m-12 3h0m-6 0h0m-4-6h0m-4-5h0m2-3h0" stroke="#28ffd7" stroke-width="7.2"/>
<path d="M803 409h0" stroke="#78ff87" stroke-width="7.2"/>
<path d="M821 455h0m0-5h0m2-1h0m4 5h0m3-9h0m-2-4h0m8 6h0m7 3h0" stroke="#08fff7" stroke-width="7.2"/>
<path d="M832.5 441h0m-13 12h0" stroke="#00e7ff" stroke-width="7.2"/>
<path d="M659 416l15-30 35 25-6 34 0 1 42-9 10 11 3-1 3 42 5-1-1 7-3 3-10-2-3-5-1-5-5 15-9-1 0-2 2-1-2 11 4 1 4 7-6 4 1 1-2 1-4 1 1 2-4-1 1-2-4-11 0-10 33 14 11-2 4-6 1-18 4 40 7-5 18-2 0-3 2-1 1 1 0 2 3-2-1-3-7-1-2 0 2 3-8 22-18 11-10 1 1-10-3-14-37 23-1 4 1 0 3 4 41 65 65-114 1 2 26-32 33-96 6-9 4-10-21 2-4-2-6-8-15-25-12-1 1-18 5-3 2 7 4-11-4-6-1-9-12 1 1-10-8 2-7 5-20-1-7-29 7-11 2-6-11-3-2-11 11-6 26 2 5 5 8-2 6 13-6 9 6 6 3 5-13 7-9-3-4 5-3-8 2-13 4-3-10-8 1-2 12-24-1-5 0-11 3 0 10 1-9-13-6 4-6-4-6-2-7 0-5 0 7-12 6 3 0-1 12 6 2-12-6-12-3 3-7 0-5-1-1 4 9-16 11-1-2-24 9 3 13 4 1 6 13 29 14 29 27-3-16 45 1 1-8 1-15 10-4-15 17 31 9 22 6 11 1 8 0 0-1 4-4 7-6 0-1 1-3-18-11 8 0 1-5 4-31 8-47-7-2-41-2 1-21-2-9 13 19-48-5-8-1-2 9 0 0-11-5-2-1 5 11-22 7-2 2-3-8-9-8 1-3-10-9 0-5 2-10 3 2-11 8-7 21 0 7 2-8 7-4-16 2-14 20 2 2 9-2 2 12-12 1-19-3-8-9 1-6-1-3-5 11-4-6 15-3 5-6 0-2-1 11 4 28-16 1-4 8-14-3-9-6 0-15-7-9 7-50 19-8-5 5 51-17 17 1 18 33 7 6-2 33 12 23-6 113 101-24 31 106 83" style="marker:url(#m0)"/>
<path d="M693.5 357.5l44 89 12 44 0 7 5-3 6-1-1-5-1-4 7 8 2 6 3-2 3-2 1-1 1 3 0 5-1 6-6 2 1 2-7 0 0 3 1-8-1-3 23-1-5 23-1 3-2 3-2-6-5 4 2 10 0 2 0 4-1 8 7-2-2-12 24-14 1-3-2-1 7-6-64 1-1-8-3 1-6 10 0 36-3 3-3-1-1-4 13-2 110-165 16-3-16-40-6-28-5-10-1-1-6 2-7-6-3 2-4-3-4-1 1 7-8-6-3-7 0-4 1 2 1-7 9 0 3 3 5 1-6 5-1 0 20-3 0-2 8 5 12-12-14-13-19 0-5-4-13-2-5 0 0 3 2-8 3-17-7-25-11-2-6-11 14-1 4-4 9-3 3-25-23 4-7 0-10-1 16-16 48-6 2 1-4 24 0-52-6 154-28 2-6-7-3 25 9 6-7 12 33 4 69-10-127-35" style="marker:url(#m1)"/>
<path d="M725 497l2 2 1 4 4 7 3-3 5 4 1 3-5 3 1 1 4 3-14 2-2-11 9 39-5 8 37-7 3-5 2-27 6 4 1-12 6-8 17 7 3-1 4 1-1 2-4 3-1 5-42-25-2-3-4 0 6-5 7-1-2-23 1-4 2-2-5 1-5 1-5 6-11-3 12-17 12-16-37-60 26-97 21-11 1-5 8-15 5-8 12 2 6 2-5 9 4 7 0 11-7 7-6 20-12-6 40-27 0-26 7-6 0-13-2-4-2 0-7 2 4-8 10-2-2-9 3-1 5-8 1-7 4-2 7 1 9 1 0-8 1-1 15-7 1-12-6-16-31 2-17 3-4-3-4-8-11 0-1-1-8 3-4 4-10-4-4 7-5 1 2 4-11 2-1 11-9 3 15 3 1 3-4 4-4 7 5 6-7 3-5 6-12 3-14 1 11 20-4 6 3 23 3 8 30-29 3-9-5-4-3 1 19 5 8-12 9 1-1 2 4-7-7-3 0-3-10-2-4-8-8-6 18-1 7-9 2-10-11 1-3-11 20 1 25 11-1 13 0 6-5-11-6 5-13 14-2-3-21-17-2-43 0-7 2-4 5-6 1-10 17 3 2-9-8-9 20 1-6 21-2 8-11-5-5 8-4 6-20 6-30 14 4-40-3-4 77 25 1-1 4-2 4 0 3-2 10 1 5 39-4 34 0 20 1 0 1 13 0 6-2 2-6 2 12 22 6-3 18-1-5 10 10 3-2 10 2 5-25-1-6 4-3-1 5 13 4 6 1 1 6 6-6 9-19-14 33 48-1 21 5 6-6 12-11-4 58-34-17-17 52-17 10 0-65-56-8-72 4-4-5-11 10 0-24 16-11 8 5 9-37 272" style="marker:url(#m2)"/>
<path d="M752.5 494l3-2-1 13 17 2-2-11 6 66-1 1 3 3 2-4-1-222 14 2 11 8-4 7 21-8 4 3 5 6 7 3-11 4 6-20 4-1-3-10-1-4-3-2 7-8 4 0-8-15 3-6-14 2-4 6 0 5 1 6-1 3-16-1-2-3-2 1 3-4 9-3-4-5-7-3-1 0-7 2-3-4-2-4 7-2-3-8 14 1 5-5 4 8-19-21-5 43 31 24 18-61" style="marker:url(#m3)"/>
<path d="M723.5 508.5l5 0-4-4 12 3 3-3-2-5 1-3 14 5 7-5-1-13 9 6 4-3 11 24-7 11-3 1-4 2-5 3-3 0 1-5-3-9-17-1-11 5 0 0-5 32-1 2 9 0 1 3-6 7 39-5 6 1 4 1-1-5 0-2 1-4 0-2-2-3-2-2-4 0-2-1 4 7 1 0 6-8-5 25-2 59 29-101-2-2 0-5-1 1 7 2 3 2 54-37-7-98 0-5-4-9-1-8-2-16 8-5 4-10 7 7 23 4 5 3-15 10-9 10 16-50-25-15-18 1 1 5-3-11-6 5-5 3 0 1-2 2-1 2-11-3-6-8 2 19 15 6-2 4 13 0-8-39-1-3 4 0 3-12 10-4 13 8 2-19-3-6-3-8 0-5-14 3-4-1-3-7-6-3-5 9 3 10 4 2-11 2-8-6-2-7-3-3 1-1-12 3-8-2-3 10-3 8 7 5 0 13 7 0-17-1-13-2-4-1-7 9 19-33-3-6-5-20 17-7 15 3 17 5 5-6 13 3 2-1 4-3-5-12-8-5-2-7-16 3 1-7-2-1-8 3 1-8-11-8 5-7 2-2 0-1-6-3 11-11 5-1-7-6-4-25 18 1 26-10-5 28-13 16-2 4 15 15 21 45-41 50 5 9-3 6 4 3-23-30-42-81 6-12-7-25 42-38 198 104-64 144-171 84-6 24" style="marker:url(#m4)"/>
<path d="M704.5 426.5l50 19 7 0-10 6 0 11-5 0-6 2 0-5 11 10 2 0 9 1 1 3 2-9 0-6-7 4-1 32-19 2-9 9 16 17 33-2 0-18 19 17 5-5-4-68-10 7-44-82 0-24-13-49 4-8 24-7 4-8 14-6 5-1-19-20 4-22-3-7 1-4 3-9-3-18-3-21 1-3-4-1-4 0 4-7 1 1-12-1-3-6 3-9 6 1 1-4 3-1-10-3-1-9 8-12-14-10-8 7-5-17-7 45 6 6 3 13-13 0 1 4 19 2-1 2 12 16-6 9 2 8-8 2-8 1 2-8-7-8 6 29 0 1 14 50 64-20-3-14 16 7 15 11 1 2 21-16 16-22-1-22-10 6-14 6-6-11 1-2-2-18-4-4 3-10 1-9-1-2-2-5 2-6-18 9-11-20 5-20 7 2 11-10-17-5-1-13 0-1-3-2-12 4 3 9-8 0 0-1-3 3-1 10 2 11-6 2-9-1 0 19-12-1 7 8-2 19 0 5-2 1 7-7 25 23 0 10-4-1 24 1 10-13 21-5 15 3 3-11 9-7-3-12 2-4-11-2-16-18-4-9-23-27 5 122 67-18 3 36-19 140-27 11-22-58-97 238" style="marker:url(#m5)"/>
<path d="M722 453l28 33 2 4 4 0 5 1 2 3 5 1 1-6 2 0 1-1 1 1 1 2-6 13-12-3-21 18-8 34 4 19 46-16 4-2 0 5-2-13 0-1-1-7-3 0-1-15 50-147 16-18-2-7 1-31 4-1 2 6-12-4-3-4-6 0-4 0-2-4-3-1 2-4-7-1-3 1-1 5 6 6 3 1-7 6-10-8-7 7-3-18 6-1 0-5-3-5 9 2 6-5 5-10 23 2 5 7-4 5-6 4 3 8 7 2 1 0-15 0-21-51-4-10-5 0-1 16-7 9-6 7-2-48 50 6-29-69-6-20-7-24" style="marker:url(#m6)"/>
<path d="M706 315l3-31 1-21 33 2 4 19-17 9 6-55 12-12 18 10-34-34-11 1-1 1-8-25-5 2 7-25 4-12 3-8 6-2 7 10 7 1-5 16 0 9-3-2-1-1-3-13 25 9 1 2 8-3-1-17-7-13 17-3 7 3 3 11 12-16 13-14 1 0 9-24 6 3 10 12 15 16 11 11 4 21-26-4-26 12 25 31 22 14 1-27 31 31 18-1 13-32-8 146-23-12-124 25 0 23-25 12 5 80 1 0 1 5-5 9 0-1 0 3 9 5 0 3 5-3 5-2-1-13 0-2 5-8-11-2-2 2 35 5 9 0-6 41 10 19 5 1-12 28-15-12-22-41 62-8-68-301-4 0 7-3-8-66-14 3 2-9-6-5-9-5-7 20 86-31 14-7" style="marker:url(#m7)"/>
<path d="M768 485l13 78 18-167 19-7-5-16-5-9-6-11-13-1-3-3-6-8-1-3 19-3 4 0 9 8 13-7 10-1 0 14 2 2 3 4 4 26-2 5-2-69-9 3 1 2-3-14-23 2 0 8 4 2 8 6-23-6-4-2 2-11-3-10 7-1 5 6-7-16-1 0 22 3-24 71 113-106" style="marker:url(#m8)"/>
<path d="M730.5 568l6-1 34-3 7-5 28-189 5-5 8 3 0 13 15 2 1-9 11-4-2 15-18-38-13 0-8 13-6-6-1-16-4-3-7 9 11-29 4-2-1-8 4-2 12 4 3 24" style="marker:url(#m9)"/>
<path d="M703.5 241l16-4 1-15 2-11-6-9 1-5-3-1-8 3 0 13 0-28-1-3 13 1 4 2 1 2 2-1 3 2-3-12-2-7-6-3 0 7-2-18-3-6 1-12-4-6-1-8 9 6 17 5-4 7 10 5-4 9 0 9 2 17 5-2 10-27 9-7-12-11-11-8 5-9-6-6 3-10 9 2-1-9 3 1-24 4 1 4-2 12-15-10 74 10 64 2 23 21 18 16-65 28-85 35-1 50-4 4-17-2 0 1-13 3 10-23-10 63 3 34 9-9 2 20-2 16-6 5 22-8 21-54 0-23 13 3 2 156-13-6-5 4-7-4-4 6 50 6 3 0 2-3-55 57" style="marker:url(#ma)"/>
<path d="M699.5 240.5l11 3 11 0-1-18 1-5 4 0 3 4 5-5-3-5-12-9-5 2 5-8 4-3 0-2-5-11-9 0 0-9-6-11 0-8 11-11 6-6-2-6-9 1-1 4-1-17 7-12 7-7 6-2 1-3 3 11-8 8 3 9-2 3 9-1-5 10 3 4 15 8-4 53-38-2-2-7 42 48-7 19-10 1 1 2 23 18 0 20 0 23 5 16 12 0-8 22-27 24-12 5-5-20-9-16 11-22-4-12 65 131-21-351" style="marker:url(#mb)"/>
<path d="M703 206.5l0 1 2 9 5-13 4-6 9 3 0-16 3-3 0-3 2-3-6-2-7 4-5-5-5 0 1-7 2-7 0-8 4-13 4-3-6-4-3-8 2-10 4-17 21-2-5 10 5 5 5 7 0 10 1 24-7 1 1-2 24 15-22 23-2 29 10 5-1 18-8 0 3 6-10-1-1-10-8-1-2 2-13 3 3 3 13-19 1 43-4 0 5 16 15 6-11 11-21 15 1 5 13 39 4 1-1 2 9 0-2 4 18-6 1-22 7-2 13 14 4 40-18 2-34-6 63 65 2 1 1 0 2 1 4-3 0-1 2 1 1-1-2 9 5 3-27-168 117-66-1-95" style="marker:url(#mc)"/>
<path d="M711.5 155l35 0 0-2 1-4-2-2 17 20-4 5 0 1-47 32 0 59 5 2 18-17-13-146" style="marker:url(#md)"/>
<path d="M707.5 235l3-21 21 8 8-7 2 39-7 5-9-5-4 15 34 16-24 46-6 6-17 15 0-43 19-142 11-16-23-3 3-15-8-12 56 44 127 146" style="marker:url(#me)"/>
<path d="M736.5 566l5 5 60-164-3-11 2-11 1-4-5-7-4-10 0-1-1-24 33 18 11 11 2 9-4 15-1 12-9 3-1-9" style="marker:url(#mf)"/>
<path d="M733.5 570l95-167 0-6-11-8 2-9-3-5 7-3 3 2 8-15-28-4 1-6-7 14-7-31 1-19 21 11" style="marker:url(#mg)"/>
<path d="M804 405l14 44 0 9 1 3 13 0 1-11" style="marker:url(#mh)"/>
<path d="M803 403.5l5 4 6-4-5-14-2 0-2-1 28 8 4 0 6 1-7 15" style="marker:url(#mi)"/>
<path d="M806 409l16 50" style="marker:url(#mj)"/>
<path d="M814.5 453l3 4-1 1 5 2-3-53 17 10" style="marker:url(#mk)"/>
<path d="M717 117l3-2 7 0-3 5" style="marker:url(#ml)"/>
<path d="M725.5 121l2-2-1-3" style="marker:url(#mm)"/>
<path d="M724.5 118.5l-1 0" style="marker:url(#mn)"/>
<path d="M717.5 120l0 0" style="marker:url(#mo)"/>
<path d="M717 116.5l4-1-1-4 2 0" style="marker:url(#mp)"/>
<path d="M721.5 115l3 6 3-2" style="marker:url(#mq)"/>
<path d="M718 117.5l3 0 0 4" style="marker:url(#mr)"/>
<path d="M724.5 109l22 42" style="marker:url(#ms)"/>
<path d="M722.5 113l0 0" style="marker:url(#mt)"/>
<path d="M701 270l58-99 2-3 3-4-23-12 2-7 1 1" style="marker:url(#mu)"/>
<path d="M738 149.5l4 1-1 3 4 1 4-2 2-4-1-2 9 16 0 2 3-2 2 1 1-2 2 3" style="marker:url(#mv)"/>
<path d="M744 144.5l4 2 1 6 13 15" style="marker:url(#mw)"/>
<path d="M767.5 166.5l-8-6" style="marker:url(#mx)"/>
<path d="M820.5 457l8-2-1-2 1-5 2-1 0-3 2-4 5 5 3 4 2 1-10 9-3 1" style="marker:url(#my)"/>
<path d="M817 461l3-18 26 10" style="marker:url(#mz)"/>
<path d="M826.5 426.5l4-1 2-1 0 2 1 1 1 2 2 4 0 1 0 4-1 3-2-1 0 0-2-2-2-2 5 0-2-3 8-1 1-1 2-2 2 1 1-2 0 4 4-3-1-4 3-4-1-6-1-6 0-3-3-1-1 2 0 0-1 2-2 1 0 3 0 4-4 0-2 4-1 1 5 1-3-10-1-3-3 1 0 0-3 9-2 2-3 21 6 2 4 0 1-2 2 1 3 2 4-2 0-2 2 2 2 2 4 0 3-2 1-4 0 0 2-2 0-2 3-2 3-5 0 1 2-1 1-3-4-2-1-1-5-1 0-2 1-1 1-3 2-1 2-1 1 1 2-3 0-2 1-1-3-2-1 0-6 1-1 2-2-4 1-1 4 0-1-5 3 0-1-3 1-2 1-1 0-2 3 2 2 1 0 1 3 1 1-3 1 6 3 1 1 1 0 1-3 2-1 8-3-1-1 6-2 1 5 1 2 1-2 3-13 3-1 1-2 2-1 2-3 4-3 0-3 2 0 1 7 1-14 11-3-3-8 0 11-44 4-4 1 0 3 1 3 2 3-2 4 0 0-2-2-5-1 0-4 3 17 1-8 15 37-19 6 4" style="marker:url(#m10)"/>
<path d="M825.5 439l4 4 1 0 2 0 0 1 8-1 0 6 3 0 0 4 5-10 9-2 1-2 2-2-2-3-2-3-4-2-3 2 3 3-13-2-1-5 2-4 2-4 2 1 1-1-9-1-2-2-1-1 0 0 3-2 4-5 4 0 11-4 0-8 9 7-2 2 4 2 2 9-6-1-3-3 1 14 8 1 1 0 8-12-2-14-1 1 2-2-4-6 19 0 2 0-2-3 0-2 0 9 0 1 6 0 4-4 0-3 2 2 2 3 6-1-9-8-13-13-3-1-55 48 1 7" style="marker:url(#m11)"/>
<path d="M819 444.5l9 4 4 0 1 0 0 1 4 0 1 1 4 1 1 0 3-1 1-1 0 0 4-4-5-3-1-8 6 1 0-5 1-2-1-1 6 3 3 0-2 2-2 2 4 2 4-1 4-6 2-4-3-2-2-9 0-3 0-3-1-8-4-2-2-2-4 1-4 2-1 4 2 1 2 4 2 4-14 0-2-4-4 2 1 3-2 4-1-1 0 3 2 5 2-1-1 4 3-1 3 1 1-1-2-1 0-2 0-1 3-1 2-3 0-15 25-5-2-6 7 20 1 0-4 4 21-21-65 29 3 17-1 1 5-3 3-5" style="marker:url(#m12)"/>
<path d="M816.5 446.5l15 0 1-1 6 2 1 8 3 0-11 5-4 0 7-25-3-3 20 12 1-36 13 7 10-16-3-4" style="marker:url(#m13)"/>
<path d="M832.5 414.5l8-6 4 14 15 5 2 1 2-3-9-25-1-6 47-2 2 2 1 2-3 0 7-1-2-3 1 8 12-2-19-11-3-11-4 1-4-3 2-5-58 64" style="marker:url(#m14)"/>
<path d="M888.5 373.5l3-1 1 5 0 0 0 1-1 0 10 0 8 16 3 2 4-3 5 2-3 5 16 10" style="marker:url(#m15)"/>
<path d="M933 391l0 0" style="marker:url(#m16)"/>
<path d="M911 379.5l1 0 4 0 3 4 4-2 5 4" style="marker:url(#m17)"/>
<path d="M924 392.5l5-3 3 6 3-2" style="marker:url(#m18)"/>
<path d="M887.5 391l17-10 1-2 1 0 2-5-9-1" style="marker:url(#m19)"/>
<path d="M932.5 392l3 1 2-4" style="marker:url(#m1a)"/>
<path d="M881 426l21-46 1-1 2-3 5 3 0 1 5 0 2 1 2 1" style="marker:url(#m1b)"/>
<path d="M683.3 276.6L683.7 281.3" stroke="#ff5800" stroke-width="7"/>
<path d="M683.7 281.3L684.2 285.9" stroke="#ff6800" stroke-width="7"/>
<path d="M684.2 285.9L684.6 290.6" stroke="#ff8700" stroke-width="7"/>
<path d="M684.6 290.6L685.1 295.3" stroke="#ff9700" stroke-width="7"/>
<path d="M685.1 295.3L685.6 299.9" stroke="#ffa700" stroke-width="7"/>
<path d="M684 279.9L684.2 284.2" stroke="#ff5800" stroke-width="8"/>
<path d="M684.2 284.2L684.4 288.4M684.4 288.4L684.6 292.7" stroke="#ff6800" stroke-width="8"/>
<path d="M684.6 292.7L684.8 297" stroke="#ff7800" stroke-width="8"/>
<path d="M684.8 297L685 301.3" stroke="#ff8700" stroke-width="8"/>
<path d="M685 301.3L685.3 305.6M685.3 305.6L685.6 309.8M685.6 309.8L685.8 314.1M685.8 314.1L686.1 318.4" stroke="#ff9700" stroke-width="8"/>
<path d="M686.1 318.4L686.4 322.7M686.4 322.7L686.7 326.9" stroke="#ffa700" stroke-width="8"/>
<path d="M771.8 229.5L772.7 233.5M772.7 233.5L773.7 237.6" stroke="#e7ff18" stroke-width="8"/>
<path d="M773.7 237.6L774.6 241.6M774.6 241.6L775.5 245.6M775.5 245.6L776.5 249.7M776.5 249.7L777.4 253.7M777.4 253.7L778.4 257.8M778.4 257.8L779.3 261.8" stroke="#d7ff28" stroke-width="8"/>
<path d="M779.3 261.8L780.3 265.9M780.3 265.9L781.2 269.9M781.2 269.9L782.2 274M782.2 274L783.2 278M783.2 278L784.1 282.1" stroke="#c7ff38" stroke-width="8"/>
<path d="M784.1 282.1L785.1 286.1" stroke="#b7ff48" stroke-width="8"/>
<path d="M840 413.2L843.1 410.5" stroke="#00c7ff" stroke-width="17"/>
<path d="M843.1 410.5L846.2 407.8" stroke="#00c7ff" stroke-width="18"/>
<path d="M846.2 407.8L849.4 405.1" stroke="#00c7ff" stroke-width="19"/>
<path d="M849.4 405.1L852.5 402.4M855.6 399.7L858.9 397.2M858.9 397.2L862.2 394.7M862.2 394.7L865.5 392.3" stroke="#00b7ff" stroke-width="19"/>
<path d="M852.5 402.4L855.6 399.7" stroke="#00b7ff" stroke-width="20"/>
<path d="M865.5 392.3L868.8 389.8" stroke="#00b7ff" stroke-width="18"/>
<path d="M868.8 389.8L872.1 387.3" stroke="#00b7ff" stroke-width="17"/>
<path d="M872.1 387.3L875.7 385.4" stroke="#00b7ff" stroke-width="16"/>
<path d="M875.7 385.4L879.4 383.5" stroke="#00b7ff" stroke-width="14"/>
<path d="M879.4 383.5L883.1 381.7" stroke="#00b7ff" stroke-width="12"/>
<path d="M883.1 381.7L886.7 379.8M886.7 379.8L890.8 379.3" stroke="#00b7ff" stroke-width="11"/>
<path d="M890.8 379.3L894.9 379" stroke="#00a7ff" stroke-width="11"/>
<path d="M894.9 379L899 378.8M899 378.8L903.1 378.5" stroke="#00a7ff" stroke-width="10"/>
<path d="M903.1 378.5L907 379.6M907 379.6L910.8 381.2M910.8 381.2L914.6 382.9M914.6 382.9L918.4 384.5" stroke="#0097ff" stroke-width="10"/>
<path d="M918.4 384.5L921.7 386.9M921.7 386.9L925 389.4M925 389.4L928.2 391.9" stroke="#0087ff" stroke-width="10"/>
<path d="M928.2 391.9L931.5 394.5M931.5 394.5L934.7 397" stroke="#0078ff" stroke-width="10"/>
<path d="M934.7 397L938 399.5" stroke="#0068ff" stroke-width="10"/>
<path d="M938 400.6L941.4 402.7M941.4 402.7L944.9 404.9M944.9 404.9L948.3 407" stroke="#0058ff" stroke-width="11"/>
<path d="M948.3 407L951.7 409.2M951.7 409.2L955.2 411.3M955.2 411.3L958.4 413.8" stroke="#0048ff" stroke-width="11"/>
<path d="M958.4 413.8L961.7 416.2" stroke="#0038ff" stroke-width="11"/>
<path d="M961.7 416.2L964.9 418.6" stroke="#0038ff" stroke-width="10"/>
<path d="M964.9 418.6L968.1 421.1M968.1 421.1L971.4 423.5" stroke="#0028ff" stroke-width="10"/>
<path d="M971.4 423.5L973.9 426.7M973.9 426.7L976.3 429.9" stroke="#0018ff" stroke-width="10"/>
<path d="M976.3 429.9L978.8 433.1M978.8 433.1L981.2 436.4M981.2 436.4L983.6 439.6" stroke="#0008ff" stroke-width="10"/>
<path d="M983.6 439.6L985.7 443.1M985.7 443.1L987.7 446.6" stroke="#0000f7" stroke-width="10"/>
<path d="M987.7 446.6L989.7 450.2" stroke="#0000e7" stroke-width="10"/>
<path d="M989.7 450.2L991.6 453.7M991.6 453.7L993.6 457.3" stroke="#0000e7" stroke-width="9"/>
<path d="M993.6 457.3L995.6 460.8M995.6 460.8L997.5 464.4M997.5 464.4L999.5 467.9M999.5 467.9L1001.5 471.4" stroke="#0000d7" stroke-width="9"/>
<path d="M1001.5 471.4L1003.5 475M1003.5 475L1005.4 478.5" stroke="#0000c7" stroke-width="9"/>
<path d="M642 98h0m1 1h0m3-1h0m-1-4h0m1-5h0m0 0h0m1 0h0m4 4h0m-7-7h0m45 42h0" stroke="#ff4800" stroke-width="7.0"/>
<path d="M640 90.5h0m1 2h0m2 1h0m4 0h0m4 1h0m-5 5h0m43 34h0m5-1h0" stroke="#ff5800" stroke-width="7.0"/>
<path d="M640 98.5h0m7-5h0m44 30h0m0 2h0m2 3h0m2 2h0m-6 3h0" stroke="#ff6800" stroke-width="7.0"/>
<path d="M649.5 97.5h0m-6-6h0" stroke="#ff3800" stroke-width="7.0"/>
<path d="M646.5 92.5h0m37-15h0m3 3h0m7-4h0m2-2h0m2 10h0m4-3h0m2 6h0m5-9h0" stroke="#ff8700" stroke-width="7.0"/>
<path d="M642 388.5h0m2 13h0m65-28h0m2-2h0m0-15h0m4-1h0m-4-17h0m-3 1h0m-45-69h0m-3-24h0m-6 0h0m0-8h0m3 0h0m28-151h0m-1-5h0m0-5h0m-1-1h0m7 2h0m0 5h0m1 0h0m5 2h0m-2 3h0m3 2h0m8-2h0m4-13h0m-10-3h0" stroke="#ffb700" stroke-width="7.0"/>
<path d="M654.5 276h0m5-5h0m-1 0h0m-2-5h0m6 0h0m2 9h0m1 1h0m-2 1h0m-3-39h0m-4 1h0m-1-3h0m108-105h0m6-3h0m2 1h0m5 2h0m3 0h0m0 1h0m1-2h0m-3-7h0m-4-3h0m-5 2h0m-3-1h0m-3-3h0m0-7h0m0-3h0m10 1h0m2-2h0m3 6h0m-6 0h0m13-3h0m2-1h0m1 0h0m-1 6h0m-2 1h0" stroke="#fff700" stroke-width="7.0"/>
<path d="M642.5 396.5h0m15-126h0m2 0h0m3 1h0m2 0h0m0 2h0m-2 1h0m-2-30h0m1-3h0m108-110h0m10-9h0m6 4h0m2-10h0m3 1h0m-13-9h0m-20 10h0" stroke="#ffe700" stroke-width="7.0"/>
<path d="M655 241.5h0m1 3h0m4-3h0m0 6h0m47 96h0m2 9h0m2 6h0m0-282h0m-28 3h0" stroke="#ffc700" stroke-width="7.0"/>
<path d="M640 402.5h0m1-13h0m64-34h0m3 0h0m-3-8h0m-48-101h0m30-157h0m-1 0h0m2 0h0m6-1h0m0-1h0m-1 4h0m-3-8h0m0-1h0m-1 0h0m0-3h0m5-1h0m6 2h0m1-1h0m-1-3h0m4-1h0m-1 9h0m7 1h0m-25-1h0m-2-1h0" stroke="#ffa700" stroke-width="7.0"/>
<path d="M637.5 399h0m10-2h0m8-123h0m2-1h0m4-3h0m-2-2h0m5 5h0m-1 3h0m-8-30h0m1-2h0m43-166h0" stroke="#ffd700" stroke-width="7.0"/>
<path d="M677.5 237.5h0m1-2h0m4 3h0m2 0h0m0-2h0m1 0h0" stroke="#a70000" stroke-width="6"/>
<path d="M677.5 236.5h0m3 2h0" stroke="#970000" stroke-width="6"/>
<path d="M684.5 237.5h0m-3 2h0" stroke="#870000" stroke-width="6"/>
<path d="M653 270.5h0m3 1h0m2 0h0m1 0h0m1 2h0m1 4h0m100-155h0m9 2h0m6 1h0m5-8h0m3 0h0m2 3h0m3 1h0m-16-7h0m2-12h0" stroke="#f7ff08" stroke-width="7.0"/>
<path d="M661.5 269h0" stroke="#c7ff38" stroke-width="7.0"/>
<path d="M640 399h0m2 0h0m0-6h0m72-25h0m-9-16h0m8-8h0m-3-8h0m-18-207h0m0-39h0m-1 1h0m4 0h0m0-2h0m-5-1h0m-3 0h0m-7-5h0m0-3h0m5-3h0m13-5h0m2 0h0m2 14h0m1 2h0m3-6h0m2-1h0" stroke="#ff9700" stroke-width="7.0"/>
<path d="M684.5 85h0m2 4h0m1 33h0m-1 6h0m1 0h0m-3 0h0m7 1h0m-2 3h0m4-9h0" stroke="#ff7800" stroke-width="7.0"/>
<path d="M656 278h0m3 0h0m108-174h0" stroke="#e7ff18" stroke-width="7.0"/>
<path d="M684.5 82.5h0m2 5h0m3 2h0m6-4h0m7-7h0m2-1h0m-1-5h0m31 4h0m2 0h0m8-1h0m9 1h0m3-1h0m1-1h0m19 5h0m-2 2h0m1-13h0" stroke="#ffb700" stroke-width="7.2"/>
<path d="M687 82.5h0m4 0h0m12 2h0m3-8h0m45-1h0m0 4h0m0 1h0m21 1h0m8-11h0" stroke="#ffc700" stroke-width="7.2"/>
<path d="M686 87.5h0m1 2h0m4 0h0m-2-4h0m0-6h0m2-6h0m9-2h0m5 0h0m0 14h0m1 0h0m1 0h0m-3 2h0m-5 1h0m37-12h0m-2-3h0m3-2h0m2-4h0m1-3h0m-3 0h0m5 12h0m26-9h0m0-2h0" stroke="#ffa700" stroke-width="7.2"/>
<path d="M693 76.5h0m4-4h0m3 3h0m1 6h0m1 4h0m1 7h0m-10-8h0m2-15h0m42 6h0m-2 5h0m17-1h0m4 2h0m1-9h0m12 4h0m10-3h0m-1-6h0m-8-3h0" stroke="#ff9700" stroke-width="7.2"/>
<path d="M693.5 77.5h0m3 5h0m8-7h0m0-1h0m32-1h0m3-1h0m0-2h0m-2 7h0m29-7h0m3-5h0m4 2h0m2 4h0m0 3h0m-3 5h0" stroke="#ff8700" stroke-width="7.2"/>
<path d="M689 131h0m2-9h0m5 2h0m40-45h0m7-15h0" stroke="#ff7800" stroke-width="7.2"/>
<path d="M752.5 78h0m25-2h0" stroke="#ffd700" stroke-width="7.2"/>
<path d="M687.5 132h0m1 2h0m5-12h0m3 2h0" stroke="#ff6800" stroke-width="7.2"/>
<path d="M685.5 123.5h0m1 5h0m3 2h0m5-4h0m3 1h0m-3-6h0" stroke="#ff5800" stroke-width="7.2"/>
<path d="M687 133h0" stroke="#ff3800" stroke-width="7.2"/>
<path d="M685.5 130.5h0m10 1h0m1-2h0m-9-10h0" stroke="#ff4800" stroke-width="7.2"/>
<path d="M780.5 329h0m2 1h0m1-5h0m3 8h0m8 2h0m0-5h0m4 2h0m-4 8h0m1 2h0m-4 0h0m0 5h0m-2 1h0m-3 1h0m0 4h0m4-1h0m5 1h0m0 2h0m-4 4h0m-3-1h0m-2 1h0m2 6h0m-6-11h0m0-3h0m1-6h0m2-3h0m11 5h0m31-6h0m6 18h0" stroke="#b7ff48" stroke-width="8"/>
<path d="M778 333.5h0m0 4h0m3-1h0m3 1h0m6-5h0m7 0h0m-2 10h0m1 5h0m-1 15h0m0 2h0m-4 4h0m-3-8h0m-1-1h0m-5-33h0m45 17h0m-1 4h0m2 14h0" stroke="#a7ff58" stroke-width="8"/>
<path d="M780.5 331.5h0m4 2h0m-1-9h0m3 0h0m0 21h0m4-4h0m4 2h0m2 11h0m3 1h0m-13 5h0m0 1h0m-2-10h0" stroke="#c7ff38" stroke-width="8"/>
<path d="M783 359h0m14-1h0m-1 5h0m3-13h0m-11-2h0m1-5h0m9-6h0" stroke="#d7ff28" stroke-width="8"/>
<path d="M785 336.5h0m-1 3h0" stroke="#e7ff18" stroke-width="8"/>
<path d="M784 356.5h0m9 0h0m2-3h0m2-7h0m-10-10h0m-3-5h0m10 37h0m36-7h0m2 0h0m-1-14h0m-1-1h0m1-5h0m5 1h0m-9-5h0" stroke="#97ff68" stroke-width="8"/>
<path d="M779.5 333.5h0m7 14h0m43-2h0m4 0h0m1 0h0m1-2h0m-6-4h0m2-7h0m-4 19h0m0 4h0m-1 7h0m9 2h0" stroke="#87ff78" stroke-width="8"/>
<path d="M827 338h0m2-6h0m6 20h0" stroke="#68ff97" stroke-width="8"/>
<path d="M824 355h0m11-2h0m1-8h0m-2 0h0m2-5h0m-5-4h0m2-3h0m-3 14h0m1 2h0m0 18h0m1 1h0" stroke="#78ff87" stroke-width="8"/>
<path d="M826 360.5h0m6-1h0m-5-10h0m6-9h0" stroke="#58ffa7" stroke-width="8"/>
<path d="M583.5 112l36 6 15-3-1-3-3-6 0 28 20 4 2 6 0 0 9 0 1-14-5 1 24-6 10-2 1 0 3 5 10 9-3 3 1-39 0-8-2-1-1-6 0-1 0-3-1-1 1 0-1 2-3 1-1-2 1-1 0-1 0-5-1 0 0-3 0-1 5 0 1-2 2 2-1 2 6 3 6 10-20 2-4 1 0 4-3-2-2 3 10 0-1 4-5-15-2 3-5-3-2-1 0 2 3-5-1-1 6-7 1 1-11 34-60-19-10 5 26 68 34 30 5 8-12 6 29 9 8-3 3-1 1-1-2-14 23 19 15 40-58 2-4 0-1-3 0-9-10 15 0 3 17 24 0 8 2 2 2 5 1 2 2 2 0 4-2 1 3 2 0 2 1 3-5 0 0 2 2 6-5-12-1-5-1-1 1-1-1-3 4 4 0 0 7 3 2-1 9 17-2 20 9 0 8-1-4 10-2 25 0 1-2 6-29-2-29 2-1 3 0 5-14 7-10-11-1-11 6-3 4-2 48-26-1-6-7-48-22 18-67-5 7-44 5-14-1-10 4 2 7 12 9 2 0-9-1 0 6-9 1 1 12 5-6 8 125 98 14 14-10 26-17-5-5-304 0-7 1-2-2-1-3 3-1 4 10-9-1-6 0 0 9 13 9 7 18-3 6 2-10-12-3-1-3 0 6-8" style="marker:url(#m1c)"/>
<path d="M594 263.5l6-18 7-1 9-2-5-12 4-6 18 5-2 8 9-2 18 18 4 6 11-4-3-12 0-31 2 0-8 5-3-6-7 0-1-3 2-1 0 0 1-3-6 3-1-6 0-6 2-1 18 1 1-3 1-2 0 1 8 11 12 3-2-12 7-9 13 1 7 2-10 8-2 21-3 8 14 12 2 6-4 7-13 1 32 9 0-30-3-4 12 3-8-13-19-59-1-17-6 4-2-5-3-7 1-1-4 3-1-15 0-4 0-3-11-4 1-6-5 1 0 13 2-26 3 2 3 0-1 1 4 3 4 0-3-7 4-2 1 1 1-4-1-4 1-2 0-4 2 0-6-1-1 2-5 1-3-3-2 1-2 0-1 6 4 1 1-2 2 3 1 0 3 1 8-2 4 1 3 0 1-1 3 0 2 3-6 3-2-1-2 0 0 1 0 0-21-1-2-1 0-1 11-18 29 11 5 5 2-8 5-2 5 1 2-2-7-8 1-1 0 31-14 7-6 31-5-2-52 0-6 7-4 2 8 2 7-38-44 3 1-9-15-7 18 36 8 58 11-8 43-11 1 120 2 6-5 3-3-1 2 5 0 2 3 1 1-1 1 0 0 7-3 6 1 1-1 1-2-2 5 9 2 2 1 5 1 1-5 0-9-1-1 3 0 3 1 3 4 1-5 2-3 3-4-9 7-7 27-6 4 0 0-3 3-9 0-2 0-5 2 1-2-9-1-2-16 1 41 7 8 6 5-4-4 30 1 14 1 5 3-3 6-3 0-1 17 9 0 3 1 6-9 5-12 1-2 18-3 12-25-1-15-13 0-2 1-4-1-3 1-22 4 1 6 0 1 0-3-3 0-2-13 0-1 3-1-14 5 1 0-2 15-5 6 10 0 19-31 33-38-7-12-1 1-2 0-4-5 1-2 2-5-5-5 10 0 5-2 0 14 1 1-3 1-1-4 12-3-2 8-30 2-1 2 2 2 4-25-58 5-25 136 98-7-307 0-5-3 0 10-5 1-2 0-2-2 1 5 5 3 2 2-4 2-2-1-2-1-6 0-2 6 10-8 12 17 2" style="marker:url(#m1d)"/>
<path d="M605.5 236.5l1-13 31 16 14 3 2 0 3-3-4-3 6 9 4 9 9 2 31-3 12 14 11 1 6-18 3-3 3 1 2-5-14-5 0-5-12-1-1-6-7-13-1-2 24 3-3-11 4-2-3-5-16-10-4-9-1-1 7-13-9-5 3-14 4-2 3 4 0-12 3 2 5-5 10 2-11-12-10-1-8-3 3 12-1-25-2-3-4-4 1-3 5 1-1-2 0-6-3 2 1-6 0 0 2 0 1-2-4-5-4-1-4-2-1 1-1 6-1 1 2 2-6 0-4 1 3-6 0-7 13-1 3 1 2-1 9 14 1 0 2-2 9 4 1 13 3 8 11-9 6-2-7-19-4 0 8-8 0-11 11 12 2 8 6 0 0-4 5 1 0-6 7 3 0 1 0 8-1 2 5-4 1-1 12-2-13-12-5-2-13 22-68 6 1 2 0 2-1 1 0 4-1 3 2 1 3-3-12-2-4 13-9 77-14 0-8 18 4 6-19-18-4-40 99 6-9 135 5 6 8 6-19 4 1 1-3-3-3-1-1 2 1 4 2 4 0 5 2-1-3 6-1 9-6-3-7 2-3 2-5 0-7-2 2-5 3-4 1-1 0-2-3-2-4 3 12 2 1 4-2-13 13 6 2 19 4 8-2 4-1 6-1 10 5-3 2 12 0 7-4 3 10-31-3-6 2-11 0-3 24-9 8 3 10 0-1-12 15-13-1 41-9 6 9 19-1 9-24-8-14-18-43-11-2 0-3-42 3-5-7-1 2-2 3-5-3-8 0-3 22 10 3 8-5 2-49 78-5-1-4 1-10-2-1-8 5-1 0-1-10 19 5 9-1 5 14-1 10-8" style="marker:url(#m1e)"/>
<path d="M609.5 87l2-7 2 1 3 4-5 12-2 5 6 0 5 11 4 8 4 3 22 0 1 1 3 7 8-2-16 4 2 4-1 15 4 38 3 5 3-10-11 19 19 7 6 46 8 23 4 5 1 3 2 2 2 0 0 4-2 4 0 2 1 3-7-1 0 0-1-7 4 0 1 1-3-4 0-2-2-2 12-6-10 30-3 16 4 14-16-4-24 37-8 16 71-8 29-4 5-7 7-3-4 19-21-27 19-139-38-26 2-8 8-2-10-8-6 0-16-9 12-34 1-5 0-1 0-2 0-2-1-1 0-3-1 1-4-1 1 4 8 2 2-2 7-33 2-2-3-4 2-5 0-1 2 1 4 4 3-6-1-4-8-3-6 3-9 5 2 3-5-6-1 0-7 0-1 4 3 6 10-20 42-3 7 0-1-3 1-1 0 10 0 4 1 4-4 1-3 22 21-30-135 174 7 45" style="marker:url(#m1f)"/>
<path d="M607.5 82l1 0 7-3 3 2 0 7 2 0-5 4-4 3 25-2 10 30 35 0 7-2 2-1 3 0 1-3-1 10 0 1 0 1 1 2 1-1-4 2-2 0 0 4 4-1 0 0-2-7-5-1 0 2-4 2 15-43-2-4 9-4 0-3 8 0-2-2 1 12-23-10 55-13-57 218 1 3-1 1-1 0-4 0 1-2 4 6-5 8-53-46-2-29 15 143 74 38 53-46" style="marker:url(#m1g)"/>
<path d="M609 82.5l2 10 2-1 25 3 1-5 8 4 0 6-2 0 5-2 1 0-1 24-3 2-1 1 38 0 2 2 0-1 3 0 0 3-3 1-4 2 9 2 3-4-1-2 0-2 2 0-2-2 0-1-2 1-3 0 0-1 0-1 3-2 2-1-5-27 54-11-89 131 29 67 0 2 1 2 3-1 0-2 3 0-5 6 1 3 3 1 1 1-4 3-4 2 2 3-4 9" style="marker:url(#m1h)"/>
<path d="M607.5 84l31 9 1 4 4-4 7-5 1 0 1 37 35 1 1 5 2 1 0 3 4-3 1-9-3 0-3-2-3 1-3 9 1 2 13-9-11 156-2-1-2 3 0-1-2 2 0 5 3 0 2 1 4 0-1 4-5 1 1-9-5-7 0-2 0-1" style="marker:url(#m1i)"/>
<path d="M643.5 94l4 0 0-1-1-1 0 4 3-1-4 4-1-12-1 0 45 32 2 0 1 5 2 9-3 147 0 4 1 2" style="marker:url(#m1j)"/>
<path d="M640.5 86.5l3 7-2 8 45 23-6 154" style="marker:url(#m1k)"/>
<path d="M638 89l0-2 3 0-1-1 5 5 0 3 2 0 1-3 0-1 2 0 1 7-9 1-1 1-1 1 6 2 4 22 34-2 2 0 1-1 0 8 1 4-4-1 2 4 10-5-14 147 1 1-3 0 2 3 2 5 1 2" style="marker:url(#m1l)"/>
<path d="M617.5 243l33-4 1 7 6 0 2 0 0-1 2-1 0-1 0 0 0 0-2-2-2 0 11 9-2 19-5-2-2-1-6 3 1 3 1 2 2 4 30 17 14 1 12-5 5 0 2 10-5 0-5 4 3 10 1 12 3 1-15 3 2 2 3 4 3 3-10-2 0 7 8 7 1 9-5 3 9 14 2 4-7 3 16 5 6-7 9-28 7-16 26 6-1 18-7 13-69 31-43-18 0-3-4-3-1 6-15-3-1-2-6 2 5 6 3 1-3 7 2-27 1-3 6 3-1 6 41-41 25-83 21-6 6 10-8-26-7-16 10-16 3-25-14 6-7-11 2-3-2-20-3-4 22-1 5 10 10-10-5-10-4-13-6-18-8 1-1 7-12 2 1 6-6-2-11 4 5-22-13 0 4-8 2-1-1-10-3 2 3-8 0 0 1-2 10 9 6 1 1 9 10-11 26 2 2 0 4 8 6-3 3-4 0-1 4 2 7-12-17 1 51 35-96 85-31 2" style="marker:url(#m1m)"/>
<path d="M633.5 378l9-4 3 29 2 0 37 4 4 10 27-5-3-31-11 5 0-37 19-4 12 9 20 12 1-1 17-10-14-19-44-13 9-10 3-11 3-55-1-15-7-2 35-14 5-3-20-13-2-25-10 0 4-12 14-22 1-7-11-15 3-12 5-2 0-2 8 0 14 10 0 11 1-52-8 3-7 2-63-3 13 21 1 5 2 94-44 43 0 2 1 0 1 0 1 1 1 1-3 2-5 1-3 2 0 2-1-4-1-1-2-2 1 4 6-9 2-1 3 30 4 2-1 6-4 1-1 3 3 1-7 1 1 1 0-7 0-3 3 1-7 0-1-1 1-3 3 0-2 8 98 126" style="marker:url(#m1n)"/>
<path d="M652 237.5l3 4 1 5 1 1 2-1 2-10 3 3-3 26-2 2-4 2-2-1 2 4 2 1 4 0 0-1 0 3-1-1 3 0 5 1-9 2-3 0-2-1 59 46 43 4 17-7-17-107 0-1 1-13 0-7 1-1-10-8-5-5 11-4 0-3 0-9 5 2-3-13-6-6-12-8-11 5 31-11-1-10-2 0-7-3 1-7 2-7 1-1 16-2 5 5 1 1 0 4 3 2-1 2-2 5-4 2-1-5-1 13 8 1 2-4 6-2 1-8 3-5 2-9 4 4 2 8 1 0 3-1-3 14-13 9-5 1-49 45 8 14 5-1-4 18-30 9-21-124 6 286 3 1 3-1 2-1 0-1-18 8 7 10-6 9" style="marker:url(#m1o)"/>
<path d="M652 271l1 4-1 1 3-1-1-1 3 0 0 1 1-2 1-2 0-5-2 0-1 0 1-2 0-1 7 5-1 0 4 3 0 5-2 2-1 1 0-2-7-29 96-41 6 0-13-9 4-15 11-1 5 5-2-32-8 0-1-17 9-1 1 2 3 1-3-7 0-1 5-1-3-3-2-3-4 5-6-3 1-5 1 0 1 1-3-3-1-3 3 0 2 0-2-4 0-1 0-2 3-1 1 2 4 1 1 3-1-6 0 0 3-3 3-1 2 3 3 1 1-6-10-4-5 6-7 9 16 4 4 3 3 0 3 0 4-1 2 1 0 4-4 0-6 0-1 1 0 1-1 2 5 4 2 5 3-1 3-9 5 0 2 1-1 2-2-7 1-7 1-6 3 1-1 1-6-1-1-2-9 3-5 3 9 48 22 16 8-8 3 1 4 21-6 5-25 1 29 24 6 28 121-4-141 132-61 27-11 13-36-35 0-1 2-3-2-2" style="marker:url(#m1p)"/>
<path d="M676.5 235l0 5 5 0 2-1" style="marker:url(#m1q)"/>
<path d="M677 236l4-1 1 3 0 2 3-1 1 0-3-6" style="marker:url(#m1r)"/>
<path d="M678 235l5 1 1-2 4 22" style="marker:url(#m1s)"/>
<path d="M681 272l0 2 6-12 1 0 3 1-7-10-1-4 6-2-5-6-2-2" style="marker:url(#m1t)"/>
<path d="M675.5 237.5l1 0 2-2 2-2 4 4 2 2" style="marker:url(#m1u)"/>
<path d="M677.5 261l6 0 5 2-2 4 0-13-2-2 5-1 2 7 1 1-10-14" style="marker:url(#m1v)"/>
<path d="M678 269l6 1 4 0-2-2-1-5 1-2 2-3 3 1 2-1-2-10-2-3-9 11" style="marker:url(#m1w)"/>
<path d="M679 252.5l5 3 3 5 2 0 2 5-6 1-6 1 4 5 5-1-2-24" style="marker:url(#m1x)"/>
<path d="M685 274l4-8-2-17" style="marker:url(#m1y)"/>
<path d="M682.5 245l0 0" style="marker:url(#m1z)"/>
<path d="M654 270l0 3 0 1 3-2-1 6 0 1 5-5 1-7 119-8 0-6 2-25 8-9 5-3-1-1-7-3 8-9 5-28 5 4 6-8 0-21 5 3-16-2-3 2-5 1-8-4-1-15-6 0 0-4-7 0-3-4-8 0 0-4-2-1-4 0 4-6 2 2 2-3 3 1-3 4-4-7-1-2 1-4 4 0 6 0 0-2 3 1 2-7-2-1 11 1-1 4 1 7-1 3-2-1-1 2 3 3 0 5 1 0 0 1 1 1 0-4 2 0 5 0 6 1 4-1-4-6-3-5-3 0 0-2 2-3-5-4-2 28 10 4 1 0-18 8-9 0 1-1-5 20-2 3 16-1 0 9-8 5-8 5 13 4-3 9-9 4 2 23 6-2-3 13 46 1 6 7 3-21-6 1-7 91 12 3-126 69-1-1 9 44" style="marker:url(#m20)"/>
<path d="M652 273l7-2 3 5 111-19 4-2 2 4 5 1-3 6 5 2 14 4 5 7 10-5 3-3 5 6 1-13 4-9-2-5-22 4 1 8-13-9 4-16-16 4-5 1-2 0-3 3 0 3 8-1-2-14-3 1 0 1-3-2-3-4 4-2-5-5 1-3 11-22 6 1 10-4 0 9 8-4-1-12 2-4 8-6 14 5-7 9-12 24-7 0-11-36-3-21 12 4 4 0-10-28-2-20-3-6-8-4-2 9-8 1 1-16 8 44 91 14 15 55-32 11-9 12 10 61-35 3 10 15 1 69-93 35 2 6 2 3-7-1-48-41" style="marker:url(#m21)"/>
<path d="M644 418l59 5 1 3 1 0-1 1-1 1-2-2 28-9 21-8 43 6-3-62 11 0-1-1-8-10 20-29-5-5 1-4 0-9 2 1 0-10 2-7-13 3-11 0-2 5-2-17-1-7-3-3 0-1 2-2-1-4-4-1 0-5 2-2 0-1-2 0 0-2 2-3-6 1-2 0 0 6 1 2 0 2 5 12 0 3-2 0 17-4-2-5-3-9 2-23-10-7 9-30 10 6 11 2-4-26-19-37 16 134 17 0 2 20 0 9 4 1 2 4-4 8 3 6-9-10 10-23 25 14 13 35-8-107-161 169" style="marker:url(#m22)"/>
<path d="M715 403l74-35 3 2 2-8 3-1 6-3-2-2-2-4 4-2-5-3 1-5-5-1 1-3 3-4 0 0 1 0 1-2-5-2-4 0 0 5-4-2 1 5-7-1 0-4 1-3 3 1-1 11 1 9-6 0 0 7 11 0 4-3-2-8 3-20 0-3-4-1-4-3 2-2 1-1 0 0 5-15 4 0 4 1-2 3 9-3 6-4 3 2 10 2 8 0-6 9-14 3 6-23-33-5 0-1-3-1-9-1 2 4-2-10 7-6 2 0-14-16 81-21-27 132" style="marker:url(#m23)"/>
<path d="M701 429l1-4 2 1 1 1 28 9-8-27 1-27 15 10 16 16 29-41 2 1 11-3 0-2 0-4 1-3-3 0-4 2-3-3 10-2 1-1-5-8-3-8 0-12 3 1-9-3-6 3-1 4-1 1-2 4 3 12-1 9 27-42 2 2 1-10 2 0 0-3-2 1 1-2 0-4 10 1 0 0 3 3 1 1 3 3-5 8 1-18-3-4-14-5-6 12-12-15-2 1-3-1-5-2 0-2 1-6 1-1-3 0-1-1 2-5 4 1 4 2 1 3 0 5-9-16 2-1-2-4-5 4 1 4 2-17-2-1 1-2 4-2-7-3-1 9" style="marker:url(#m24)"/>
<path d="M706 426.5l81-58 0-3 5 2-1-4 3 0 0-4 0-1-2-1-1-2-7-1-2 2 1-5-1-4-4-1 1-6-2-10 0 0 1-3 3 1 3 2 1-10 12 6 0 4 0 7 2 0-3 11-1 0-1 1 5 8 0 9-1 1-1 0-3 3-7-27 25-26-2-12 1-5 4-4 12 5 0 7 0 2-1-2 1 7 9 16 1 26 5-55-38 5-18-21" style="marker:url(#m25)"/>
<path d="M776 344l6-3 6 0-2 4 5 2 2-10 5-2 2 4-10-8-2-1-2-7 0-5-6 36 3 9 3-2 13-1-7 12 34-9 6-5-7-6-2-8 0-2 8-1 1 2-2 3-4-12 6-27 5 3-10-14-12 1" style="marker:url(#m26)"/>
<path d="M789 371l8-6-5-17 6-15 29 0 0 5 3 0 0-3 3 2 3 0-5-8-2-3-6 12 3 4 4 2-2 12-2 0-2 0 0-1-2 2 1-5 8 5 3 0 0 1-1 6 0 3-3-2 0-1 1 7-19-57 0-17 10-4" style="marker:url(#m27)"/>
<path d="M811.5 313l13 21 2 3-1 6-1-1 3 1 3 1 1 0 0 2 1-5 3-1 1 13 0 2-2-1 4-2-13-1 1 10 2 6 2-1 2 0 4 0-2 3" style="marker:url(#m28)"/>
<path d="M823 352l3-3 9 0 2 6-7 10 2-21 1-5-6 2-1-10 10 1" style="marker:url(#m29)"/>
<path d="M834.5 361.5l0 0" style="marker:url(#m2a)"/>
<path d="M830.5 335.5l0 0" style="marker:url(#m2b)"/>
<path d="M837 403.5l1-2 2-2-2-5 3-7 1-2 2 2 0 3 1 0 1-5 9 1 1 2-2 5 0 6-2 2-2-3-2-1 0 9-2-1 14-10 4-2-8-12-4 0" style="marker:url(#m2c)"/>
<path d="M835 401.5l7-10 7 2 6 1 6-8-2-10" style="marker:url(#m2d)"/>
<path d="M843.5 387.5l7 4 2 2 0 0 2 0 3 0 1-4-3-5-2-6 2-2 3 0 5 2 1 4 1 5-15 15" style="marker:url(#m2e)"/>
<path d="M839.5 390.5l0 3 13-1 10-2 0-6-5-4" style="marker:url(#m2f)"/>
<path d="M657.9 172.1L662.3 174.9M662.3 174.9L666.7 177.8M666.7 177.8L671.1 180.6" stroke="#ff5800" stroke-width="5"/>
<path d="M687.1 321.7L691.8 323.1M691.8 323.1L696.5 324.4M686.8 322.6L692.7 323.3M692.7 323.3L698.6 323.9" stroke="#ff4800" stroke-width="5"/>
<path d="M748 237h0m4 0h0m8 6h0m6 170h0m8-2h0m9 2h0m6 3h0m-7-11h0m-1 31h0m6 2h0" stroke="#ff9700" stroke-width="6"/>
<path d="M748.5 234h0m6 6h0m1 3h0m17 173h0" stroke="#ffb700" stroke-width="6"/>
<path d="M757 239.5h0m11 171h0m4 2h0m4 2h0m1 7h0m12-1h0m6 1h0m-5 11h0m-4 1h0m0-3h0m-6 2h0m6-22h0m-9-4h0" stroke="#ff8700" stroke-width="6"/>
<path d="M751.5 240.5h0m3-8h0m2 15h0m17 158h0m-3 3h0m1 6h0m10-3h0m0 14h0m-6-1h0m17 7h0m6 48h0m1 0h0" stroke="#ffa700" stroke-width="6"/>
<path d="M715.5 305.5h0m7-3h0m3-1h0m1 0h0m0 0h0m12-8h0m11 1h0m0 10h0m-2 1h0m-9 8h0m18 4h0m6-20h0m11 1h0m0 3h0m-10-25h0m-11-5h0" stroke="#ff9700" stroke-width="5.2"/>
<path d="M709.5 310.5h0m7-7h0m12-2h0m5 18h0m-10 0h0m58-27h0" stroke="#ffb700" stroke-width="5.2"/>
<path d="M715.5 316.5h0m14 7h0m11-2h0m11-5h0m-4-13h0m14-2h0m-29-4h0m4-6h0m-10-6h0m-1 16h0m46-23h0" stroke="#ff7800" stroke-width="5.2"/>
<path d="M714 306h0m5-4h0m4 11h0m-8 6h0m21-5h0m2 2h0m14 1h0m2 6h0m7-8h0m1-3h0m4 0h0m-7-6h0m-11-8h0m-6 2h0m5-15h0m7-6h0m21 6h0m-1 8h0m-1 7h0m4 7h0" stroke="#ff8700" stroke-width="5.2"/>
<path d="M736 322h0m8 6h0m11-20h0m7-8h0m11-7h0m-32-2h0m8-13h0" stroke="#ffa700" stroke-width="5.2"/>
<path d="M750.5 317h0m0-2h0m7-1h0" stroke="#970000" stroke-width="6"/>
<path d="M752.5 313h0m3-1h0" stroke="#b70000" stroke-width="6"/>
<path d="M754.5 314.5h0m3 1h0" stroke="#c70000" stroke-width="6"/>
<path d="M751 319.5h0" stroke="#870000" stroke-width="6"/>
<path d="M788.5 429.5h0" stroke="#ff6800" stroke-width="6"/>
<path d="M767.5 414h0m14-7h0" stroke="#ff7800" stroke-width="6"/>
<path d="M764.5 521h0m4 0h0m-1-3h0m0-2h0m-2 1h0" stroke="#fff700" stroke-width="6"/>
<path d="M763 518h0m6-5h0" stroke="#f7ff08" stroke-width="6"/>
<path d="M765.5 516.5h0" stroke="#ffe700" stroke-width="6"/>
<path d="M767 522.5h0m2-7h0m34-32h0m-1-5h0m-1 0h0" stroke="#ffd700" stroke-width="6"/>
<path d="M767.5 305.5h0m-56-1h0" stroke="#ff3800" stroke-width="5.2"/>
<path d="M736 318.5h0m1-22h0m26 10h0m14-20h0" stroke="#ff5800" stroke-width="5.2"/>
<path d="M715.5 301h0m15 11h0m8-24h0m19-12h0m10 22h0" stroke="#ff6800" stroke-width="5.2"/>
<path d="M723 299h0" stroke="#ff1800" stroke-width="5.2"/>
<path d="M743.5 320.5h0" stroke="#ff4800" stroke-width="5.2"/>
<path d="M767.5 317h0" stroke="#ffc700" stroke-width="5.2"/>
<path d="M386.5 347l5 0-3-5 19-2 27-160 0-1 2 1 7 0 5-1 0-1 2 1 1 0 8-1 2 1 55-43 1-1 4 1 2-1 5 3 2 0-16-7 51 13 0 2 1 0-3 3 7-1-2 4 2 1-2 44 101 40 2 0 91 44 7-4 2 0 3-1-1 5 3 0 4 0 2 6-8 0-3-1 3 7 2 3-3 0 49 74" style="marker:url(#m2g)"/>
<path d="M410.5 342l5 0 4 2 1-1 5 2 2 3 130-153 1-1 2 0 8 0 2 0 1 1 2 3 0 1 1 0 0 2 2 0-3 1 6 2-2 2 5 1-1 0 0 0 3 0 2 2 3 2 1-1 0 2 2 0 1 2-13-14 13-30-5-11-1 0-3-1-2-3-4-1-1 0 0 1-1-1-2-2-2 2 34 20-77-33 247 146 1-1 1 5-1 2-1-2-4 1 6 5 1-1 1 2 6-7-11 71 16 14-67-32" style="marker:url(#m2h)"/>
<path d="M401 341.5l10 4 1 1 4-6 34-161 11-1 0 0 67-40 18 6 24 4 7 2 1 52 3 2 191 77 4-2 2 1 3-1-1 2-4 3 1 1-2 1-5 0 0 3-1 3 3 3 3-2 2 2 1 2 2-1 1-7 1-3 3 3" style="marker:url(#m2i)"/>
<path d="M384 347.5l6-3 31-166 1 0 7 2 6-1 5 1 0-1 7 0 9 1 60-46 5 0-1 3 29 7 7-4 3 2 2 1 1 1 0 0 0-1 0 2 0 3 2-2 1-1 2 6-19 55 0 2-1-1 2 0 118 29 0 0 1 0 0 1 0 1 0 0 0 0-1 1-2 2 5-6 101 33-1 6 4 1 0-1 2 6 4 6 2 2 2 0 1-1-3 4-2 5-7 0-25 21 44 67" style="marker:url(#m2j)"/>
<path d="M419.5 178.5l135-35 1-2 3 67 6 1 1-3-3 0 7 4 3-1 87 21 2 4 4 1 90 74 1 1 2 2 1 1 0 1-3 0 0 3 1 2-6 2 0 1 0-9" style="marker:url(#m2k)"/>
<path d="M381.5 339.5l3 6 39-168 2 2 124 29 2 0 7 1 1-2 1 0 1 2 0 1 2-2-5-65-7 1 103 79 2 7 1 1 5 0 1 3 1 1 1 0 0-2-3 3-11-6 118 39-9 43-1 4-4 2 0 2-2 0-4 1-1-5 0-2 8 0" style="marker:url(#m2l)"/>
<path d="M423 344l2 1 10 2 5 0 1-2 0 4-1 2 4-9 240-17 5-1 3 1-1 2 4-2 1 0 0-2 3 1-1 3 1-8-11 0 0-1-1 5 3-2 19-13 19-1 4-6 6-2 17-3 7 5 4 0-5 12 27-3-16-27-3-6-8 5-40-3 12 67 8 7 12 0 7 4 5-3-2-9-12-3 3 22 4 3 4 16 0 4 16-4 6 5-5-28 0-5 8 1 46 26 2 26-20 55-141-224-2-45-4-11 2-2 1-1-2 0 4-1 0 1-5-6-6 0-4-1-36 3-10 1-2-3-2 2-2 2-1-3-3-3-4 0 0-2-2 1 1 5 0-10-4-1-1 3-2-2-1 2 6 47 3 1 4 3 2-1 0 1 3-3-7-4-43-20" style="marker:url(#m2m)"/>
<path d="M379.5 344.5l2-2 3 4 3 0 0-2 0 0 0 4 34-169 123 28 1 1 2 1 4 1-1-3 5 1 0 0 1 1 1-2 7 2 1-61-5-3-2-3 94 82 0 5 2-2 3 2 6 6 4 1-3 3-1 1 103 30-2 2 11-4 5-2-21 48-11 0" style="marker:url(#m2n)"/>
<path d="M414.5 350l0-3 9-1 3-8 10 4 126-144 2-1 4 1 3 2 9 6 7-1-1 3 2 1 1 2 1 1 1 0 1-1 2 4 1 0 2 0 0 0 2-2 4 1 0 5-17-6-24-20-2 1 0-5 3 2 18-28 0-3-1-1 0-6 9 10-1 1 8 5 0 1 2 1 2 1 2 1 0-4 1 6 18-3 37-3 19 28 14 121 1 2 6 7 42-12 12-8 25-9 6-2 0-4-1-1-2 2 8 6 13 16-14 45-10 0 2 10 12-3-24-1-6-4 1-1-3 6 3 14 9 4-32-28-4 0 90 52" style="marker:url(#m2o)"/>
<path d="M408 347.5l4-3 4 0 31-166 123 18 2 3 4 0-2 2 0 1 6 2 1 3 1 0 5 0-5-7-17 1 4-47 2-1-1-2 0-1 1-2 4 5-1 2-11-9 36 70 176 65 3-2 2 2 0 9 1 2-6 4 2 65-15-4-7 8 37 9-1 10" style="marker:url(#m2p)"/>
<path d="M439.5 345l1 3 3 1 5-7 19 2 1 7 41 25 28 17 6 2 142-69 2 1 2-2 0-3 0-2-3-2 4-2 3 9-1 2 6-2 11-24 13-2 7-4-2-3-1-14-12 3 33-2-1 16 13 6 2 6 6-2 2 1 8 1 7-3-1-6 1-21-1-4 5 6-11 2 1 40-6 2-12 19 1 6 5 7 3-1 3 7 2 3 1 1-11-5-4 18 7 8 4-2 2 9 16-4 2-5 0-4-1-4 0-2-7 1-3-1 21-10-1-22-61 11-7-18-10 8 3-37 25 5-39-77-43 8-8 17-22-31 5-42-3-4-2-2-4 0 1-2-9-1-2-2-2 0-1 0-15-1-1-1-4 0-1-2 3 44-10-1 58-27 6-13 2 1 0 1 2 1 0 0 1 1 2 0 0 1 3 0 2 0 1 1 0 1 2-2-3-3-10-4-2-1 194 202" style="marker:url(#m2q)"/>
<path d="M399.5 360l4 0 1 3 29-3 9-4 18-5 2-4 5-2 9 5 9 1 1 0-1-2 4 0 0-2 1-3 1-1-6-1-2 2 0-1-1 2 15 1-1 1 0 1 3 0 2 2 1 0 2-6 2 9-2 5-12-7-14 9 45-8 5 0 8 2 1 0 0-1-1 35 4 4 0 3 5 2-6 3 1 4-13-9 35 9 12-20 179 2 0 1 6 12 2 5-3 0-1 1 3 3 1 1 3-1 0 1 0 0 5-5 3 8 1 2 2 1 3-1-2-4 1-1 7-2 1 5-9 14-5-34-3 0 0 2-5 2 15-14 1-2 3-12 6 3-16-9-6-12-2-2 3-10 4 2 4-7 11-4 2-12-14-1-1-7-9 2-9 1 1 3-3-2-1 1-8-1-9 4-4-1-2 0-5-10-6 4-2 1-3 8 5 6-2 10 24 4 2-12 13-5 6 5-6-21-5 0 3-4-4-8-6 4-7 0-3-6-19 0-7-5 2-4 9-8 11 0 15 4 7 2 18 12-2 10 15 0 3-11 2-3-11-18-19-20-7-19-17-3-13-3-9 1-10-4 23-5-4-15-42-8-4 0-1 1 0 2-2-3-2 1 0-2 0-1-1 0-2-1-3 0-1-1-13-2-2-6-4-2-8 3 21-14-34 62-1 2-4-2-7-4 148 224" style="marker:url(#m2r)"/>
<path d="M444 339.5l0 1 14 9 1-1 5-4 2-1 1 0 1 6 8-5 4 3 6 0 2 1-3-5 11 0 1 6 5 6 1 1 4-4 14 0 7 14 13 17-4 8-2 2-1 1-4 1-1 5 5 2 3 3 6-11 175-40 11 0 1-3-2-8 18 6 16 0-6 11 4 7 7 21-1 7 1 3-3 0-3 2-4 3 14-2-6 10 5 6 24 17-12-47-3-10 10 0-5-39-4-1-4-18-4-2 11 1 2-1 2-16-5-2 1-14 2-1 1-7-9 9-16 9 0 2 0 4 1 9-6 4-4 2 2-9-4-2-15-7 3-7-8-17 25 7-21 31 1 6-2 1-10-4-15 14-20-7-39-68 2-69-5-1-2 0-9 0-5 0 1-3 6-6-17-1 39-1 1 1 1 0-2-2 0-2 1-1-2 0-1-1 0 3 7 6 1-1 4 2-8 10 0 1 6 5 60 11 9 21-137-12" style="marker:url(#m2s)"/>
<path d="M389.5 362l5 0 3-6 3 3 6 3 4-3 14-3 12 3 1 0 0 5 28-5 7-8 11-7 9-3 1 8 3-1 4-1-2-2 0 6 8 1 15-1 10-1 6 1 2-1-2 6 7-1 4 1-29 18-8-6 13 31 4-2 7-1-3 5 7 0 222 1 0 5 2 0 2 2 2 1 2-2-1-2 3 6 4-1 1 5-2 6-1 0-2-2 7 2 10 0 1-5-1-1-2 0-1-6-3 1-1-1 1 3-2-8 0 0-2-4 1-2 0 1-5 0-1-4-1 1-4-1-5-2-4 13 14-19 10 1 7-13-9-8 6-38-5-5-12 7-13-3-2-8 5-4 3-3-1-7 0-3 4-1 1 0 1-4 5 4 0 6 0 3-20 0 1-7-1-2 5-4 1 0 0-13 6 3-4-17-14 4 4 4-13 9-14 3-9-9-7 17-2 6-2 7 18-1 0-1 4 2 10 1 1 4 10-1-3-12-2-3-8 28 73 2-20-28-25-58-9-1 3-4 0-1-1-4-5-1-3-1-1-2-1 4 0 0 3 3-1 5 3 7 8-21 4 0-34 2-7-8 4-9 2-2-19-5 5-6-3 19-29-26-6-1-3-2-10-2-5-21-36 64-4-2-4-4-2 0-1-1 105 253 27 4 14-8 5 60-14 0 41-96 3-9 1-2-8 1 11-9" style="marker:url(#m2t)"/>
<path d="M373 363l2-1 28-2 0-1 14-1 21-2 1 6 9-3 48-12 29 6 19 2 2-2 5 1-2 2 0 2 8 2 1 0-4-7 15 21-48 7-11 9 18 13 242 8 13-4 2 8 3-2 1 0 1-2 2 3 3 8 1 3 4 3-2 3-4 3-5 0-6 3 10 2-1 2 1 1 0 0 7-2 9 2 4 0-9 6-2 4-15-31-36-49-8-46-18 1-3-13-11 4 4-16 3-6 15 1-4 5 13 1 6 3 3 2 10-5 1 0 5-1 1-3-5-3 2-5 0-6 4 24 2 0 5 10 13-6-3-18-80-3 40-56 1-5 4-3 1-4 3 7 4-2 1 7-6 0-73-39 48 270 3 6 12 2 9 64-1 1" style="marker:url(#m2u)"/>
<path d="M564.5 209.5l5 1 89 21 3 0 0-2 86 85 0 1 0 0 1 0 3 2 6-4" style="marker:url(#m2v)"/>
<path d="M366 355.5l9 7 3 1 7 0 2-1 6-4 15 1 32 1 103-5 4-6 1 12 6-2 5 5 4 2 3 0-4 2 9 0 2 2-1 1 1 3 4-1 0-5-5-3 114-64 20 18 13-5 11 7 7 0 7 6 9-9-4-17 1-3 8-4 3-4 15 3 8 8 3 11-15-1-9-5-20 0-19-8-3-70 25 2 5-4 5 0-1-1 5 2 1 4-5 7 3 5-2 7-2 0-7-9-2-2-39-34 4 237 24 26 13 17 0 47 0 6 1 2 2-1 3 0 1-2 1-3 8 7 39-60-3-23-2-5 7 0-2-3 1-2 2 0 1-1 0-2-5 1-1-4-2 0 2-2 2 0-3-4 0-3 1-3 2 1 2-1 0 0-3-5-3-4-1 9-3-2-2 2-2 2-2 0 2 2 2 3 3 11 14 3 3-2 1-1 1-2-5-3 2-4-29-13-1 1-2-4 12-11" style="marker:url(#m2w)"/>
<path d="M368.5 364.5l3-2-1-7 175 0 5 4 3 2 5 0 2-1-1 3 0-6 2 1 3 2 2 6 3 0 3 5 3 4 2-6 110-66 29 16 10 8 29-2 3 5 4-14-2-7 13-8 1 18 8 0 6-4-53-15-6-2-8-9 33-38 2 1-2-5-3 0-5-15 0 0 14-6 28 216 5-4 13-3-4-4 9 13-2 4-10 8-3-1 6 5-1 19 0 3-50 54-5 8" style="marker:url(#m2x)"/>
<path d="M714.5 479.5l85 2-31 32 1 3 1 3-21-203" style="marker:url(#m2y)"/>
<path d="M366.5 361l7 3 334-42 23-20 19-53 36 32 14 164 2 6-2 4 2 6 6-3 1-6 7-7-14 30-4 5 6 3-2 4-32 24 1 3 1 6-14 21-3 3" style="marker:url(#m2z)"/>
<path d="M405.5 178.5l4 0 2 1 1-1" style="marker:url(#m30)"/>
<path d="M409 178.5l1 1 345 134" style="marker:url(#m31)"/>
<path d="M759 518.5l5-1 3-6 5 8 31-42" style="marker:url(#m32)"/>
<path d="M761 514l0-2 1 5 0 2 3 2 1 3 1 0 3-2 3-3-8-4 36-31" style="marker:url(#m33)"/>
<path d="M759 516l3 2" style="marker:url(#m34)"/>
<path d="M546.5 85.5l1 0 6 0 151 53-2 6 3 6 2-1-3 3 18 22-4 14 2 4 1 1-2 6 19 89 1 1 3-4 5 2 0 1 68 136 8-1 3-3" style="marker:url(#m35)"/>
<path d="M547 86l3 0 1 0 0 0 8 1 7 0 136 53 1 3 3-2 0 0 2 3 2 3 0 1-4 5 11 24 7 1-11 7-2 5 4 11 12 8 4 42-6 3-16-9-5 26 32 14 4 2 1 2 3 2-12-1 30 21 59 110 9 3" style="marker:url(#m36)"/>
<path d="M549 85.5l3 0 2 0 149 62 3 1 4-2 37 142" style="marker:url(#m37)"/>
<path d="M558.5 87l3 0 6 0 139 58 15 30-5 10-2 3 5 3 4 8-9 1-2-2 6 12 16 16-1 18 11 10-4 7-2 16-4 4 6 6 6 4-14 31 88 94 0 3 0 0 4 1-2 4 5 0-1 3-11-5" style="marker:url(#m38)"/>
<path d="M560 87l2 0 1 1 1-1 1 1 0-1 92 68 2 7-4 1 16 12 5 0 0 1-1 1 37 14 12-3-15 44 10 20-15 5 11 24 2 12 19 2 15 2 6-3 5-8 1 16-17-31-8-3-6 3 0-27 10-2-4-6-139-6 183 155 34 40 8-1 4-3-29 28-1-1 0 3 4 23" style="marker:url(#m39)"/>
<path d="M568 87.5l87 66 1 2-1 0 1 2 0 1-4-1 7 4 13 13 0 0 3 1 0 2 45 0 2 0-2 8-25 57 35 34 7 6-16 6 27 14 0 1-14 13-7 53 59 7 30 42 3 5 4-3 1-3-24 34-2 0 0 3 7 3-1 2-1 5-11-16-2 2 23-130" style="marker:url(#m3a)"/>
<path d="M595.5 102.5l5 2 0 2 1 1 2-1 0 0 2 3 64 233" style="marker:url(#m3b)"/>
<path d="M594 102.5l2 0 4 2 3 2 3 3 22 69-7 23 72-14-26-28 21 242 6 5 6 4" style="marker:url(#m3c)"/>
<path d="M583.5 192l35-23 26-5 13-18 16 8-3 94-29-24-26 33 30 31 53 140-94-319" style="marker:url(#m3d)"/>
<path d="M604.5 108l50 47-3 4 5 5 2-1" style="marker:url(#m3e)"/>
<path d="M620.5 169l9-3-1-3 4 4 0 4-5 5 3-33 1-6-9 3 13 6 0 2 5-2 0-4 28 2-5 7 2 12 5-1-7 148-11 1-6 14 13 11 15 8 12 54 14 7 3 11-3 2 6 5 8 0-2 4 0 3 0 2 1 4" style="marker:url(#m3f)"/>
<path d="M538.5 258l39-19 43-32 9-28 6 1 3 3-2-9 10-1-7-9 13-2 6 5 9 8-3 5 6-23-1-6-12-12-8-1-8 10-7 2-4-3-2 0 0-3-3 0 2-6-5-1 23 150 42 110-4 6 0 1 7 5 5-2 3 10-1 2 1 2 5-1 1 1-5 7 13 6" style="marker:url(#m3g)"/>
<path d="M589 224l13 37 29-28 5-49 5-4 7-1 5-6-11-2-1-1 6-10-15 2-4 1-6-7-1-9 3-9 0-3 1-1 5-2 4 10 25 9-5 192 38 54 3 10 5 8 10 18" style="marker:url(#m3h)"/>
<path d="M593 232.5l26-65 6-3 9 5 13 15-16-41-5 1 77 262" style="marker:url(#m3i)"/>
<path d="M651 160l4-3 5-2 2 0-1 3 0 96 66 8 17-22 21 68 57 120 1 2" style="marker:url(#m3j)"/>
<path d="M638 219l17-56 4-3 0-2 14 19 3 0 31 19 23 27 2 82 15 65 81 47 1 4-21 43-4 1-2 1-2-6 0-2" style="marker:url(#m3k)"/>
<path d="M622.5 144.5l0-9 10 66 44-14-14 134-38 5" style="marker:url(#m3l)"/>
<path d="M622.5 136l-70 154" style="marker:url(#m3m)"/>
<path d="M643 342.5l68 91-22-247" style="marker:url(#m3n)"/>
<path d="M653.5 303l45 101 14 31" style="marker:url(#m3o)"/>
<path d="M707 152.5l0 0" style="marker:url(#m3p)"/>
<path d="M700 636L704 635.9M704 635.9L708 635.7M708 635.7L712 635.6" stroke="#78ff87" stroke-width="18"/>
<path d="M712 635.6L716 635.5M716 635.5L720 635.3M720 635.3L724 635.2M724 635.2L728 635.1" stroke="#68ff97" stroke-width="18"/>
<path d="M728 635.1L732 634.9M732 634.9L736.1 634.8M736.1 634.8L740.1 634.7" stroke="#58ffa7" stroke-width="18"/>
<path d="M740.1 634.7L744.1 634.5M744.1 634.5L748.1 634.4M748.1 634.4L752.1 634.3M752.1 634.3L756.1 634.1M756.1 634.1L760.1 634" stroke="#48ffb7" stroke-width="18"/>
<path d="M760.1 634L764.1 633.7M764.1 633.7L768.1 633.4M768.1 633.4L772.1 633.2M772.1 633.2L776.1 632.9M776.1 632.9L780.1 632.6" stroke="#38ffc7" stroke-width="18"/>
<path d="M780.1 632.6L784.1 632.3M784.1 632.3L788.1 632.1M788.1 632.1L792.1 631.8M792.1 631.8L796.1 631.5M796.1 631.5L800.1 631.2M800.1 631.2L804.1 631" stroke="#28ffd7" stroke-width="18"/>
<path d="M804.1 631L808.1 630.7M808.1 630.7L812.1 630.4M812.1 630.4L816.1 630.1M816.1 630.1L820 629.6M820 629.6L824 628.9" stroke="#18ffe7" stroke-width="17"/>
<path d="M824 628.9L827.9 628.2M827.9 628.2L831.9 627.5M831.9 627.5L835.8 626.7M835.8 626.7L839.8 626M839.8 626L843.7 625.3" stroke="#08fff7" stroke-width="17"/>
<path d="M843.7 625.3L847.6 624.6M847.6 624.6L851.6 623.9M851.6 623.9L855.5 623.1M855.5 623.1L859.5 622.4" stroke="#08fff7" stroke-width="16"/>
<path d="M859.5 622.4L863.4 621.7M863.4 621.7L867.3 621M867.3 621L871.3 620.3M871.3 620.3L875.2 619.3M875.2 619.3L879 618.2M879 618.2L882.9 617.1M882.9 617.1L886.7 616M886.7 616L890.6 614.9" stroke="#00f7ff" stroke-width="16"/>
<path d="M890.6 614.9L894.5 613.8M894.5 613.8L898.3 612.7M898.3 612.7L902.2 611.6M902.2 611.6L906 610.5M906 610.5L909.9 609.4M909.9 609.4L913.7 608.3M913.7 608.3L917.6 607.2" stroke="#00e7ff" stroke-width="16"/>
<path d="M917.6 607.2L921.4 606.1" stroke="#00e7ff" stroke-width="17"/>
<path d="M921.4 606.1L925.3 605M925.3 605L929 603.5M929 603.5L932.7 602M932.7 602L936.4 600.5" stroke="#00d7ff" stroke-width="17"/>
<path d="M936.4 600.5L940.2 599M940.2 599L943.9 597.5M943.9 597.5L947.6 596M947.6 596L951.3 594.5" stroke="#00d7ff" stroke-width="18"/>
<path d="M951.3 594.5L955 593" stroke="#00c7ff" stroke-width="18"/>
<path d="M955 593L958.7 591.5M958.7 591.5L962.5 590M962.5 590L966.2 588.5M966.2 588.5L969.8 586.8M969.8 586.8L973.4 585M973.4 585L977 583.2" stroke="#00c7ff" stroke-width="17"/>
<path d="M977 583.2L980.5 581.4M980.5 581.4L984.1 579.6" stroke="#00c7ff" stroke-width="16"/>
<path d="M984.1 579.6L987.7 577.8" stroke="#00b7ff" stroke-width="16"/>
<path d="M987.7 577.8L991.3 576M991.3 576L994.9 574.2M994.9 574.2L998.4 572.4" stroke="#00b7ff" stroke-width="15"/>
<path d="M998.4 572.4L1001.9 570.5M1001.9 570.5L1005.1 568" stroke="#00b7ff" stroke-width="14"/>
<path d="M1005.1 568L1008.3 565.6M1008.3 565.6L1011.5 563.2" stroke="#00a7ff" stroke-width="13"/>
<path d="M1011.5 563.2L1014.7 560.8M1014.7 560.8L1017.9 558.3" stroke="#00a7ff" stroke-width="12"/>
<path d="M1017.9 558.3L1021.1 555.9" stroke="#00a7ff" stroke-width="11"/>
<path d="M1021.1 555.9L1023.6 552.9" stroke="#0097ff" stroke-width="11"/>
<path d="M1023.6 552.9L1025.7 549.5M1025.7 549.5L1027.8 546" stroke="#0097ff" stroke-width="10"/>
<path d="M1027.8 546L1029.9 542.6" stroke="#0087ff" stroke-width="10"/>
<path d="M1029.9 542.6L1032 539.2M1032 539.2L1034.1 535.8M1034.1 535.8L1036.2 532.4" stroke="#0087ff" stroke-width="9"/>
<path d="M1036.2 532.4L1038.3 529M1038.3 529L1040.6 525.7" stroke="#0078ff" stroke-width="8"/>
<path d="M1040.6 525.7L1042.8 522.3" stroke="#0078ff" stroke-width="7"/>
<path d="M1042.8 522.3L1045 519" stroke="#0068ff" stroke-width="7"/>
<path d="M303.9 367.6L307.9 367.3M307.9 367.3L312 366.9M312 366.9L316.1 366.6M316.1 366.6L320.1 366.2M320.1 366.2L324.2 365.9M324.2 365.9L328.2 365.5M328.2 365.5L332.3 365.2" stroke="#ffb700" stroke-width="5"/>
<path d="M332.3 365.2L336.3 364.9M336.3 364.9L340.4 364.6M340.4 364.6L344.5 364.3M344.5 364.3L348.5 364M518.7 460.4L523.1 460.5M523.1 460.5L527.5 460.6M527.5 460.6L531.9 460.7M531.9 460.7L536.3 460.8M536.3 460.8L540.7 460.8" stroke="#ffc700" stroke-width="5"/>
<path d="M393.2 369L397.1 370.2" stroke="#ff9700" stroke-width="7"/>
<path d="M397.1 370.2L401 371.3M401 371.3L404.9 372.4M391.4 387.8L395.3 390.1M326.2 465.3L329.8 467.2M329.8 467.2L333.4 469.2M333.4 469.2L337.1 471.1" stroke="#ffa700" stroke-width="7"/>
<path d="M404.9 372.4L408.9 373.5M408.9 373.5L412.8 374.7M412.8 374.7L416.7 375.8M395.3 390.1L399.7 391.7M337.1 471.1L340.7 473.1M340.7 473.1L344.3 475.1M344.3 475.1L347.8 477.2" stroke="#ffb700" stroke-width="7"/>
<path d="M416.7 375.8L420.6 377.1M420.6 377.1L424.5 378.4M424.5 378.4L428.3 379.7M428.3 379.7L432.2 381M399.7 391.7L404.1 393.2M404.1 393.2L408.5 394.7M347.8 477.2L351.3 479.4M351.3 479.4L354.8 481.6M354.8 481.6L358.3 483.7" stroke="#ffc700" stroke-width="7"/>
<path d="M383.4 383L387.4 385.4" stroke="#ff6800" stroke-width="7"/>
<path d="M387.4 385.4L391.4 387.8" stroke="#ff8700" stroke-width="7"/>
<path d="M377.8 426.2L382 425.9M382 425.9L386.2 425.5M386.2 425.5L390.4 425.2M390.4 425.2L394.5 424.8" stroke="#ff9700" stroke-width="3"/>
<path d="M358.3 483.7L361.8 485.9M361.8 485.9L365.3 488.1" stroke="#ffd700" stroke-width="7"/>
<path d="M565 484.1L568.8 485.5M568.8 485.5L572.6 486.8M572.6 486.8L576.3 488.2M576.3 488.2L580.2 489.1M580.2 489.1L584.2 489.2M567.1 505.3L571.1 506.6M571.1 506.6L575.1 507.9M575.1 507.9L579 509.2M579 509.2L583.2 509.4" stroke="#ffd700" stroke-width="8"/>
<path d="M584.2 489.2L588.2 489.4M588.2 489.4L592.2 489.6M583.2 509.4L587.4 509.6M587.4 509.6L591.6 509.9" stroke="#ffe700" stroke-width="8"/>
<path d="M592.2 489.6L596.2 489.8M596.2 489.8L600.2 490M591.6 509.9L595.8 510.1M595.8 510.1L600 510.3" stroke="#fff700" stroke-width="8"/>
<path d="M559.1 502.7L563.1 504M563.1 504L567.1 505.3" stroke="#ffc700" stroke-width="8"/>
<path d="M600 510.3L604.1 510.5" stroke="#f7ff08" stroke-width="8"/>
<path d="M621 568.5h0m4 2h0m2 3h0m7 0h0m-1-3h0m6 2h0m3 3h0m7 0h0m-1 2h0m-2 2h0m-7 3h0m-4 3h0m-2 2h0m0 3h0m4 0h0m-3-11h0m1-1h0m-10 1h0m3-17h0m2-1h0m1-4h0m7 1h0m0-4h0m5 0h0m-3-3h0m-3-1h0m-3 0h0m-2-1h0m-4-4h0m-4 3h0m10-8h0m5 1h0m0-4h0m7-3h0m3-1h0m-1-3h0m4 1h0m2 0h0m-1-1h0m0 0h0m1-1h0m-2-2h0m-4-2h0m0-4h0m-1-2h0m-2-3h0m5 20h0m2 5h0m-5 0h0m2 9h0m0 7h0m-8 5h0m-3 0h0m7 4h0" stroke="#b7ff48" stroke-width="7.6"/>
<path d="M607 533.5h0m4 0h0m-1 2h0m1 4h0m0 4h0m-3 0h0m7 1h0m5 0h0m1-1h0m-1-5h0m2-4h0m3-5h0m2 2h0m6-1h0m2-3h0m0-4h0m7-1h0m-2-4h0m7-1h0m-5-5h0m-11-1h0m-2-6h0m-2 1h0m-1 1h0m-3 6h0m0 3h0m1 2h0m0 0h0m2-2h0m2 4h0m-11-1h0m-1 2h0m1 6h0m10 15h0m4 2h0m-11 8h0m1 5h0m3 2h0m19-31h0m4 4h0m3-5h0" stroke="#d7ff28" stroke-width="7.6"/>
<path d="M624 568.5h0m9 0h0m3 0h0m4-5h0m10-3h0m-6-6h0m2-11h0m1-1h0m-1-2h0m4 5h0m4-10h0m0-8h0m-10 48h0m-4 4h0m-9-2h0m-3 2h0m0 5h0m6 4h0m-3 4h0m29 17h0m12-32h0" stroke="#a7ff58" stroke-width="7.6"/>
<path d="M606 533.5h0m3-1h0m11-12h0m-1-2h0m1-9h0" stroke="#f7ff08" stroke-width="7.6"/>
<path d="M616.5 536.5h0m2-3h0m4 2h0m1 1h0m3 1h0m1-1h0m4-2h0m1-6h0m3 1h0m1 2h0m1 5h0m6 1h0m1 2h0m4 1h0m-2 5h0m-1 1h0m2 3h0m1 4h0m0 14h0m-14-7h0m1-6h0m-7 4h0m-4 0h0m1-1h0m-4-3h0m-1-1h0m3-6h0m0-1h0m-4-5h0m0 0h0m9 2h0m5 1h0m-5-16h0m-5-1h0m-1-4h0m2 8h0m20-2h0m1-4h0m0-1h0m1 1h0m0-5h0m-1-7h0m-5 1h0m-7 2h0m-3 57h0m-6-1h0m-2-2h0m-2-6h0m5 13h0m4 6h0" stroke="#c7ff38" stroke-width="7.6"/>
<path d="M605 525.5h0m5-1h0m1 1h0m0-2h0m0 0h0m1-1h0m-1-1h0m4 0h0m1 0h0m2-1h0m-1-1h0m-3-2h0m0 9h0m-1 2h0m-3 2h0m-1 7h0m-2 5h0m3 4h0m4-2h0m1 7h0m1-1h0m0 7h0m1-25h0m3-8h0m5-10h0m3-1h0m3-3h0m-1-3h0m0-2h0m3 34h0" stroke="#e7ff18" stroke-width="7.6"/>
<path d="M634 577h0m14 26h0m0 2h0m-1 1h0m4 2h0m0 3h0m5 6h0m2 9h0m5-21h0m1 1h0m1 0h0m5 2h0m1-11h0m0-4h0m-1 1h0m-3-1h0m6 0h0m1-6h0m-3-6h0m10-4h0m-3-5h0m5-2h0m0-1h0m2 4h0m5 7h0m-9 12h0m-5 8h0m-1 17h0m-13-26h0" stroke="#97ff68" stroke-width="7.6"/>
<path d="M664 542.5h0" stroke="#78ff87" stroke-width="7.0"/>
<path d="M662 543h0m2 0h0m3-3h0" stroke="#97ff68" stroke-width="7.0"/>
<path d="M669 541.5h0" stroke="#a7ff58" stroke-width="7.0"/>
<path d="M661 542h0" stroke="#68ff97" stroke-width="7.0"/>
<path d="M671 543h0m-9-1h0" stroke="#87ff78" stroke-width="7.0"/>
<path d="M696 628.5h0m6-2h0m7 1h0m4-1h0m3 0h0m1 4h0m4 0h0m1-4h0m7 1h0m6 1h0m2-6h0m-10-11h0m-7 2h0m-3 3h0m-1 1h0m1 4h0m-6 0h0m-2-3h0m-3-4h0m-2 0h0m1 0h0m2-10h0m0-2h0m9 1h0m2 3h0m-1 2h0m-5-15h0m-6 39h0" stroke="#48ffb7" stroke-width="7.6"/>
<path d="M668 623h0m4 3h0m3-1h0m1-4h0m6 0h0m0 2h0m2 1h0m3 1h0m1-4h0m0-4h0m-1-3h0m4-1h0m4 0h0m-1-2h0m0 5h0m0 3h0m-1 3h0m-2-3h0m0 10h0m-2 0h0m2 2h0m-5 0h0m-7-1h0m17 0h0m9-5h0m2-15h0m4-1h0m0-5h0m2-1h0m-4-1h0m-4 3h0m-3 0h0m-2-2h0m-3-1h0m1 5h0m2-9h0m3 1h0m4-2h0m-5-3h0m-2-2h0m-1-2h0m-1-2h0m-2 1h0m5-1h0m-1-4h0m-1 0h0m1-3h0m-1-3h0m-5-1h0m-1 0h0m-2 5h0m-8-3h0m1 22h0m-2 3h0m-2-2h0m-1 1h0m6 3h0m6-7h0m-1-5h0m6 2h0m17 18h0m-19-51h0" stroke="#68ff97" stroke-width="7.6"/>
<path d="M712.5 625h0m3 3h0m1 2h0m9-1h0m2 0h0m0 4h0m0 0h0m-2 0h0m-1-1h0m10-1h0m5-1h0m0-7h0m-3-2h0m-6 2h0m-3 1h0m-3-6h0m-2-8h0m-1-1h0m24 19h0" stroke="#38ffc7" stroke-width="7.6"/>
<path d="M650.5 606h0m9-1h0m-1 5h0m-1 6h0m5 0h0m0-2h0m2-2h0m0 9h0m2 2h0m-5-1h0m1 2h0m6-7h0m5-1h0m1-1h0m5 0h0m0-5h0m-5 0h0m-5-5h0m-6-3h0m-1-8h0m4-2h0m4-1h0m-2-5h0m2-6h0m5 0h0m4-1h0m2-4h0m0-1h0m-3-2h0m5-5h0m0-2h0m2 2h0m3 2h0m3-1h0m-2-2h0m2-4h0m0 10h0m-3 3h0m-3 1h0m4 6h0m-8 5h0m-2 2h0m-3-4h0m3 10h0m1 2h0m-9 0h0m22 8h0m-40 8h0m-1 5h0" stroke="#87ff78" stroke-width="7.6"/>
<path d="M676 628.5h0m6-5h0m6 5h0m0 2h0m2 0h0m1 0h0m1 0h0m2-4h0m4 1h0m0-2h0m0-4h0m3-1h0m3-1h0m-3-3h0m-1-5h0m1-3h0m2-3h0m-3-1h0m0-1h0m4-4h0m-2-2h0m-5-1h0m6-6h0m6-1h0m-2-5h0m3 16h0m1 1h0m2 1h0m2-3h0m1-2h0m2 0h0m-10 6h0m2 3h0m-3 5h0m6 3h0m9 2h0m0 3h0m5-1h0m4-2h0m-36-2h0m-1-1h0m-3 4h0m8 13h0m1-1h0m1-1h0m-12-63h0" stroke="#58ffa7" stroke-width="7.6"/>
<path d="M766.5 636h0m4 0h0m3 0h0m3-2h0m3 2h0m-1 1h0" stroke="#08fff7" stroke-width="7.6"/>
<path d="M654 620h0m7-1h0m-2-5h0m-3-4h0m-2-2h0m18 1h0m4-1h0m0-1h0m-1-2h0m2 1h0m3 1h0m0 3h0m5 0h0m1 4h0m-4 0h0m1 3h0m-4 0h0m-1 7h0m-2 4h0m-5-6h0m-2-1h0m0 0h0m0 0h0m0 1h0m0 1h0m0-4h0m1-3h0m0-2h0m3 0h0m5-13h0m0-4h0m3 1h0m3 2h0m0 2h0m-3-9h0m4-2h0m5 0h0m2 0h0m4 2h0m1-4h0m0 0h0m-1-3h0m-3-3h0m4-3h0m6-2h0m0 5h0m-3-8h0m0 0h0m-1-5h0m-5-3h0m-2 0h0m4-3h0m-7 12h0m-1 1h0m-5 2h0m0 1h0m-3 1h0m5 1h0m2 4h0m1 1h0m1 1h0m-13-3h0m-5 2h0m-2 0h0m24 17h0m-1 6h0m1 15h0m2-1h0m8-23h0m0-6h0m9-3h0m-49 33h0" stroke="#78ff87" stroke-width="7.6"/>
<path d="M732 631.5h0m5 1h0m4-1h0m2 1h0m1 2h0m1-5h0m4-1h0m4 0h0m15 5h0m-36-9h0m0-1h0m0-2h0" stroke="#28ffd7" stroke-width="7.6"/>
<path d="M746.5 634h0m4 0h0m4 2h0m0 0h0m11-2h0m2 0h0" stroke="#18ffe7" stroke-width="7.6"/>
<path d="M554.5 598h0" stroke="#ffe700" stroke-width="7.0"/>
<path d="M555.5 601h0m9-1h0" stroke="#f7ff08" stroke-width="7.0"/>
<path d="M552.5 601.5h0" stroke="#ffd700" stroke-width="7.0"/>
<path d="M557 597.5h0" stroke="#fff700" stroke-width="7.0"/>
<path d="M556 598.5h0" stroke="#e7ff18" stroke-width="7.0"/>
<path d="M874 618.5l16 1 2-7 4-7 3 3 5-4 4 0 1-2 3-1-2 9-1 4 7-7 3 2 8-3 5 0 1 0 8-2-1-4-14 1" style="marker:url(#m3q)"/>
<path d="M1029.5 532.5l7 1 1 0-1 4 0 5-4 7 5-22 4 0 4 2" style="marker:url(#m3r)"/>
<path d="M765 632.5l5 0 1 2-1 0-3 3 5-7 33 4 8-10 3 0 0-2 3 1 4 3 3 8 9-2 4-7 5 1 1-7 3-1 8 2 2 3 1 1 0 3 5 2 9-10-1-5 3 0" style="marker:url(#m3s)"/>
<path d="M951.5 589.5l22 2 5-14 10-7 6 1 0-5 5-2 2-3 7 2 4-9-9 23-7-2" style="marker:url(#m3t)"/>
<path d="M736 633.5l19 1 2-1 2 1-1 2 5 0 0-2 2 2 3-2 0-6-8 2 0 1 17 0 6-2 4 10 10-5 4-3 4 2 3 2 2-10 2-2 2 3 2-2 1 4 10-2 32 3" style="marker:url(#m3u)"/>
<path d="M917 614l9-2 4-3 1-4 10 1-3-12 0 0 10-2 6-4 5 0-1 2 3 8 10-15 8-1 2-6 5-3 14-6-75 32" style="marker:url(#m3v)"/>
<path d="M774 636.5l61-12 7-3 15 2 2-3 9-3 4 4 4-1 4 2-1 0 0 2 2 1 2-6-2-5-3-1 0-1 13-5 5-2 0 10 9-6 4 0-19 14-23 4-11 3" style="marker:url(#m3w)"/>
<path d="M684 624l3 4 2 1 4 3 0 1 3 0 0-14-2 0 0-3 5 3 4 3 3-2 0-5 2-2 0-2-4-2-1-2 2-1-3-3 0-3-5 0 9-1 1-4 4-2 1-3 2 5 1 1 0 2-4 0 7 3 4-2 2 7-7 3 1 3-3 2 0-1 3 4 3 3 2 9-3 9 9 1 0 1 3-7 13-2 7 9-44-14-1 1-6-13-1-2-4-3 17-2-4-28-16 2-2 10" style="marker:url(#m3x)"/>
<path d="M1006.5 573.5l11-11 1-1 2-7-4-5 11-9 6 0 1 6" style="marker:url(#m3y)"/>
<path d="M691.5 619.5l14 2-1 7-2 0 14-1 1-2 1-3 7 1 1 0 0 3 2 0 1 3-3 5-4-1-1 1 14-1 3 8 1-1 4-11 11-3 5 0 2 8 4 1-4 6-29-20-1-4-3 1-1-5 5 0-9-1-2 0 0 0 1 1-2 1 1 2 1-6-4 0 0 1-3-1-1 5 1 2-3 0-1-4-5-1 5-5-1-8 3-1 8 1-1 2 1 1-1 1 7 4" style="marker:url(#m3z)"/>
<path d="M895.5 605.5l9-1 9 2 4 1 5-6 4-1 0 10-1 0 8-2 8-5 2-2-2-4 8 1 6 2 1-4 9-5 7-3 6-10" style="marker:url(#m40)"/>
<path d="M965 593l0-9 30-13 12 0 1 5 4-6 4-6 1-3 4 0 4-2 6-2-10-6-1-7-9 11-9 10-2-1 20 2" style="marker:url(#m41)"/>
<path d="M709 630l11 2-1-6 5 0 4-1 3-3 0-6 2 2 2 7-3 3 6 5 7 2 5 3-10 4-15-7-12-19 2-2 9-11 4 2 29 23 9 9 0 4 9-8 27 2" style="marker:url(#m42)"/>
<path d="M1029.5 546.5l3-2 0-11 5-13 9 6" style="marker:url(#m43)"/>
<path d="M725.5 633l15-3 2 2 3-2 2-5-8 0 16 2-2 5 4 4 4-6 0-1 6 1 9 2 0-4-4-3 8 0 6 0 5 0 1 2 0 9 10 3 2-8 5-2 7-5" style="marker:url(#m44)"/>
<path d="M648.5 615.5l8-3 4 0 2 4-2 2-1-1-2 0 0 4 0 2-4 0 0 0 4 4 2 2 1 0 1 1 1 0 7-1-2-2 1-2 0-3 0-3-2 0-2-2 0-12-2 2-4 0-2 1 7-9 5-3 5-5-2-2-1-1 1-2 2 2 1-4 2-6 5 0 0 0 2-1 3 3 1 0-5 2-1 8-2 8-7 4 1 6-9-20 3-9 3-5 9-6 1-1 3-2 2 6 13-1-4-6-2-3 3-2-24-13-2-1-5 0 0-4-2 0-1 1 1-3 2-1 2 2 1 1 4-1 0 0 40 88" style="marker:url(#m45)"/>
<path d="M669.5 626.5l5 1 5 3 6-1 0-5-2 0 5-1-1-2 0-2-1 0-1-4-4-1 0 2-1-8-1 0 11 1 1 2 4-2 0-1 5 0-1-6-2-1-8 2-2-2 0-2 5-3-1-3 5-5-2-3 2-3 6 0-1 4 3 1 0 0 0 3-1 2 6 5 0 4-1-1 4 4 5-2-2-9-3-8-7-9-10-3-2-7-12 15 2 14 7 25 4 1 2 0-1 6-1 1-1 0-2-1 11 1 3 0 0-8 12 8 2 5 1 1 0 4 5 3 2-10 5-2 1-2 6 0-29 11-41-19" style="marker:url(#m46)"/>
<path d="M651.5 619.5l15 3-1 7 6-1 7 0-1-4 0-2 0 0-2-2 0-2-5-5 4-7-13-1 11-18-4-5 7-3-1-6 8-3 0 10 0 1 1 2 6 3 1 5-2 1-6 1-1-2-1 1 5 6 4 2 1 3 6 3 1-9 0-4 0-1-2 1 0-8 0-2 4-2-1-6-3-2-1 2 0 1 4-7-3-3-3-4-3-2-2 2 17 11-21 43-1 6 11 6 13 10 1 3 3-6 8 2 3 2-60-94-4 0 7-5" style="marker:url(#m47)"/>
<path d="M1042.5 521.5l0 0" style="marker:url(#m48)"/>
<path d="M626.5 591.5l13-3 4-1 3-1-9-3 1 13 3 1-2 3 9 5 4 0-1-1 2 7-1 9 8-13 1-6-1-12 1 0 3-5 14-1 2-6 4 12-10 3 11-32 1 1 2-4-18-14-2-2-2-1 1-3 3 1 2 1 1 0-9 6 0 3-16 21 52 67 2 5" style="marker:url(#m49)"/>
<path d="M1038.5 517l4 8 6-1-5 9" style="marker:url(#m4a)"/>
<path d="M284 368l2 0 4 2 3-3 4 0 3 0 0-1 2-1-1-1-3 1-3-2 11 1 2 2 0 1-1 3-1 0 5 1 84-1 6 1-9 14-3 1 0-1 6 6-12 24 0 3 19 111 4 0 2-5 22 9 14 13 18 8" style="marker:url(#m4b)"/>
<path d="M269.5 372l8 2 2 0 2-6 1-2 3 3 98 12 3-3-4 6-37 122-17-13-4 0-4-2" style="marker:url(#m4c)"/>
<path d="M323 364.5l7 1 0-2 2 1 2-2 1-1 1 0 1 8 7-4 8-1 5 3 4-2 0 0-3-2-1-1 6-5 7 3 4-1 2 0 0 4-10 5-15-14 55 16 5 1-1 3 2 0 5 2 0 1 4 1 1 3 1 0 5-5 3-1 4 9-23 5 0 4-3 0-1 1-1-1-4-1 0 3-3-1-3 0 0-2 0-1 1-1 3 0 2-3 6 12-22 13 1 3 28-48 30-36 0-4 5-2 2 1-3 7 9 0 2-3 5-9 2-10 9 5 6 0-1-3 2 0-3-3 0-1 4-1 3-2 6 2 9 3 6-1-2-3 2-3 3 0 1-4 11 3 1 0 4 0-7 3-3 2 16 4-2-18-31 8-3-2 58 20 15 15-7 131 3 5 1 6-1 6-3-1-3 4 0 7-2 2-2 4 0 4 3 2 5-7 6 3-1 6 2 4 3-6 0-19 0-1-2 1 2-6 1-8-17 2 0 5-2 1 10 8-31-23-1-5 2-2 6 0 2-5-9-1-4 0 0 5-5 2-3 3-4 0 2-7 2 0-6-2 4-7 9 22-4 3-32 33-3 65-4-1 0 3 3 3 1 0 7 5 0 4 4-2 4 1 3-1 4 2 9 7 2-1 15-5 8-18-5-4 11-16 16 18-3 18-5-4-82-13-1-1-72-49-16-3-31-24-4-4-1-2-2 0-2-2-1-4-5-2 1 0 2-3-6 6 0 1-1 5 16-5 2 3-29-17" style="marker:url(#m4d)"/>
<path d="M277 370.5l2-4 5 0-1 1-1 3 0 3 3 1 7-5 1-1 5 2-17-7 100 20 3-1 0 0 6 4-3 3 19 140 8 2-79-36" style="marker:url(#m4e)"/>
<path d="M305 365.5l4 3-2 2 0 2 9-1-2-4 0-4 1-5 6-1-1 5-1 4 1 7 8-9 1 1 5-1 1 0-1 2 3 2 4-6 5 2 0 0 3 2 4-3-26-4 0 0 64 4 1 4 1 1 1-1 6 0 2-1 0 2 2 2 1-1 2-1-1 5-4 0-1-2-1 0-2-8 5 1-10 18 0 6 2-1-5 0-1 1 10 5 7 2-16 17-1 2 0 1-1 0 2 1 1 0 2-1 0 3 1 1-8-1-4 1-1 6-25 49-8 1-7 2 1-6-4 1-4-2 2-3-2-3-7 0 1 1-1 2 94 67 11 6-1 2 3 1 2 3 3-1 1 0 1-3 1 6 3 3 5-1 5 1 3-2-2 5 11-2 0 8 10 4 8 0 3 3 2 1 66-101-75-162-33 26" style="marker:url(#m4f)"/>
<path d="M334 359.5l2 2 23-5 13 1 9-1-1 3 28 32 2 1-1 3-7 3 25-16 6-1 3 1-1 4 0 1-1-9-6-7 19-37 9-5 4-13 7 1 2 0 1-1-1 6 7-8 4-3 3-3 4 0 0 1 7 0-3-3 0-3 9 2 3 3 1 0 5-1 0-4 7 0 4 1 3 0 3 4 2 0 1-2 0-4 2-4 0 0-4-7 8 13-1 4 0 3-7 3-32-20-30 17 81-31 27 80 30-10 10 1-6 16 2 12-15 23-52-1 0 16-2 31 2 3-3 4-5-2 3 10 5 0-12 0-3 9-26-3 2-9-6 22 3 7-5-57 2-14-24-1 42-24 49 80-1 4 0 1 3 0 2 0-3-2 5 2 1 5 8 0 4-3 4 5 6 2-3-11 1-13-16 14-4 14-4 3-2 4-3 0 5 1 1 2-3 1 6 1-3 6 11-2 9-2-5-10-1-4 1 25-26-14 1-1-6 2 6-21-3 81 2 7-3 3-10 0-5 0 1 2-1 2-3-2 4-7-6-13-10 9 0 22-3 0-2 1-2-4-2 1-3-1-7-7-5 2-3-3 25 16 1 1 2-3 2 0 1 2 4 0 7 6 6-2 0-8 3-7 5 10 2 1 3 0 1-7 11-8 1-3-3-2-16 27 7 7-91-49-92-58-11 2 0-11-1 0 0-5 1-5-6 1-1 6 10-1-19-10 314-19-24-90" style="marker:url(#m4g)"/>
<path d="M253.5 386l28 104 1 1 6-1 1 0-1-4" style="marker:url(#m4h)"/>
<path d="M249.5 380.5l2 3 3 5 1-12 4 0 1 5 4-2-1-1 31 113 8-1 2 0-2-2" style="marker:url(#m4i)"/>
<path d="M268.5 373l4 0 1 1 1 3-4-7 0-1 1-4 8 2 106 11-77 111-3 0" style="marker:url(#m4j)"/>
<path d="M256.5 372l3 3-1 4 0 1 5 2 0 3 1-9 4 1 1-3 2-3 2 5 35 110 0 1-3 2" style="marker:url(#m4k)"/>
<path d="M294.5 369l1-2 1 4 4-2 2-2 2-2 0 0 1 0 2 0 2 0 1 1 0-1-1-2 6 1 1 3-1 2 3 1 9-8-27 2 91 1-1 1 0 1 5 0 1 0 1-2 1-1 0-3 0 9 6 3 4 2-4-9 17 8-30 8-3 5-2-2 1 6 7-1-9 19 3 3 0 3-1 4 3 1-62 44 1 7-14 21 92 35-2 2 4 2 11 6 7 0 0 3 3 3 9 0 0 5 5 2 3-1-3-3 13 7 0 2 6 5 2 0 0-2 2 0 2 3 3-1-1-5" style="marker:url(#m4l)"/>
<path d="M317 364.5l1 0 1-2 2-3 2 4-2 4 11 0 1 1 0-2 1-1-1-2-1-4 8 1 2 5 4-2 1-5 5 5 0 0 0 1 1 1 2-1-1-3 6 0-2-3 7 5 8-6 9 1 10 9 5 6 9-1 5 0 1 1 0 1 3 2 0 1 2-1 0-5 10 4 1 4-7 8-17 1-2 3-2 1 0 0-4 0-1 1 11-1 0 1 2 2 1 0-1 1-23 17 0 2 1 1 1 1-1 2 0 2 2 2 3 1-10-8-28 57-3 2-1-2-1-2-3-1 0 2-2-1 0 3-2 1 2 2-4 1-4 2-1-9-2-1 0-3 10 1 3-1 1 8-1 7-1 0 5 3 9-4-21-113 107-37-2-5 10-1 30-15-1-7 1-4 19 2-3-9 13 6-1 6 1 1 7 146 2 3 3 0 3 1 4-1 1 0 2-4-4 13-7-1-2-3-20-2 52 52 11-4 1 58-52 22-16-6 1-4-6-2-1 1-2-4-1-2-1-1-1 1 0-5-1 1-3 0-3 0-1 0 1-1-1-1 1-3 1-3-5 2 0 0 0 3 0 1-1 0 2 1-1 2-5-3-2-6-7-1-3 1-3-6 0 0-3-1-2 2-4-4-2-4-4 0 40 27" style="marker:url(#m4m)"/>
<path d="M354 488.5l15-6 16 18 92-22 1-10 11-14 4 2-5-9-6-8 3-10-5-2-10-2 22-10 7 18 8 12 1-1 15 0 8-6 2 10-4 9-1 0-3 2-9 1-1-1-1 7-7 3-8 5 6 9 0 10 3 12-2 9 12 2 0 7-13 7-4 12 33 2 1 0 0 1 3-9 1-1-1-1 14 9 2 4 2 1-1 12-9 6-1 11-8 10 5 10 1 1 4 0 3 3 6-2-3-5 2 11 3 0 3-2 0-1 4 0 5-27 3-11 5-51 2 0 0-4-4 1 2-3-2-4-3 1-6 3 3-10 0-2 4-6 2-4 4-2 2-2 4-3 4 0-1-8 2 1 2-2 0-4 6 0 4-1-1 6-2 2 0 12-6 0-1-1-1 2-6 0-2 3 0 4 6 2 3 0 1 1-2 1-1 2 2 4 4 3 3 2 2 1-3 2-2 2-4 2-1-5-3-2-2-5-8 0 1-4 4 13 15 7-1-21-1-4-1-3 6 2-16-19 1-6-19 12-7 6-9-1-17 3 7-16 4-2 3-5-2-3 10 0 10-6 8-6 3-13 3-16 8-1 11-2 3 9 10-7-3-12 6 0-3-10 1-2-7-3-8-1-1-6 2-2 3 4 11-3 4 3-3-13-8 3-8-2-4-6-1 12-5 5-5 14 0 8-7-4-4-1-7 6-4 3 0 5 1 3 7 0-19-3 1 9 3 21-6 3-20-46-5 2-5-3 47-19 3 2 6-12-8-16 3-6 11-2 5 6 11-3 5-9-14-4 35 11-16 50-14 4 23 34-8 97 94 1-114 81-69-32 10-79 18-181-11-21-9 0-1 2-1-5-18 6-4-3-3 1-2-2-2 4-4-2-4 1-2 0 0-3-2 7-3 3-4-2 15 21-55 46-3 2 1 5 3-1-9-5 1-2-51-14-4 2 198-56" style="marker:url(#m4n)"/>
<path d="M250 382.5l5 1 4 2 2 3-5-10 31 109 6-1 3 1 3 0-4-4" style="marker:url(#m4o)"/>
<path d="M259 387.5l31 101-1 1" style="marker:url(#m4p)"/>
<path d="M254.5 488.5l-1 0" style="marker:url(#m4q)"/>
<path d="M270.5 487l3 3 3-4 5-1 4-1" style="marker:url(#m4r)"/>
<path d="M265.5 485l0 0" style="marker:url(#m4s)"/>
<path d="M267.5 486.5l3 1 1 2 4-1" style="marker:url(#m4t)"/>
<path d="M253.5 483l1 1 7 2" style="marker:url(#m4u)"/>
<path d="M259.5 488.5l1-6 2 1 6 2 1 0-1 2-2 1 6 1" style="marker:url(#m4v)"/>
<path d="M270 484l12 0 1 2 1 1 3 2 5-2" style="marker:url(#m4w)"/>
<path d="M383.5 504.5l92-17 21 18 3 22-1 2 23 29 0 0 2 4 10-7 13 15 4 4 14 5 6 2-13 11 5 5-1 7-4 0 1-1-6-2-2-3 0 0-1 0-3 2-25-13 0 0 41-23-10-24-5-50-5 2 1-26 1-24 7-7 10-15-2-5 7-1 2-3 3 6 10-1 7 0 0-3-3-1 2-4-1-2 0-4 1-3-3-4 0-3 1 0 2 0 2-4 3 8 5-1-2 6 2 3 9 0 2-1-2-2 0-3 4-1-1-4-5-4 15-7-1 19 2 11-2 10-10 6 2 5 15 2-2 8 0 25-3 2-2 0 3 7-3 4-13 0-1-2-5-1-2 0-4-2-1 6-3 4 0 1 1 1 0 1 2 1 4 3 0 3-1 5-2 1-1 4 2 4 0 1 2 0 2-4 3 4 4-5 4-6 0-12-10 4-1-7 3-12 1-1 0-2-1-1-2-3 1-1 11-4-1 14-27 11-4 3 6 15 1 10-17-42 7-42 16-2-1-5 2-6 0-1 12-4 3-1 0-3 4 2-23-7-10 1-5 2 1 3-6-9 4-7-9-16 13-12-1-12 8 2 23-1 1 0 6-2-4 17-17 2-11-39-18-19-8-16-3-8-4-4-16-9-21 26-12-10-27 33 16 42-3 43 1 10 22 11-2 9-6 1-2 21-2 8 14-1 7-40 1-5 10 4 7-25 16 1-10-75 113 97 0 30 61 35-15 44-112 75 0 0-3 4-3-6-5 2-2-2" style="marker:url(#m4x)"/>
<path d="M474.5 453l26-35 3-11 19 19 49-7-3-9-4-2 10-3 1-5 4 3 3 3 8-1 0 7 1 3-2 2-9-4 0-16 1-8-12-6 4-18 27 4 16-2-2 30-6 2-4 0 6 4 1 0-16-8 1-11 3 47-14-3 34 7-1 4-1 9 10-4 4-2 0-4-4 34-4-3-4 2-12 0-1 0-1 6 0 12-3 1 0 2-5 0-1-2-2 5-3-3 0 9 8-1 1-2 0 6 2 0 3 3 2 0 2 3-1 7-8 1 1-4-1-2-1 0-1-1-1-3-4 2-12 9-9 9 0 1 15 4 12-1-1-1 4-1 2-1 3 7-1 13 9-5 6 2-6-21 4-7-6-13-1-8 1-7-4 2 9-5 0-3 2 0 2 6 5-8 2 1 1-2 1 5-2 12-25-36-19 17-48 0-22 10 36 8 7 99 2 2 26 15-66-17 147-70-61-183-24-34" style="marker:url(#m4y)"/>
<path d="M552 538l19-9 1-5 1 0-2-4 8 11 1-1 3 1 1 4 1-8 4 0-1-4 8 3 1 2 3-6-4-2 3-6 9 2 0 2-2 1 4 3 1 3 3-3 3 3 2 7-2 4-7-1-1 6 3 0-6 8-2 1 13 7-11-28 0 0 1-1-14 9 10-32 3-1 10-7 8-3-4-4 2-3 7-1 1-6-6-2-2-2-8-3-1-6 0-5 3 1 4-10-3-15 1-3 3-2 6 2-2 5-18-17-4-9-4 3-7-8-11 3-17-4 43-3-5 56-4 2-2 0 0-1-2 1 6 12 1-1 6-5 39 0 11-11-17 42-8 0-6 2 0 9 1 0 0 2 5 1-1-6 3-2 6 3-18 1-3-4-1 8-30 74 129-95" style="marker:url(#m4z)"/>
<path d="M534.5 555l42-27 3-1-6-3 20 5 12 5 0 5 0 9 1 4 1-1 1 2 3-1 1 5 3 6 3 2 5-8 5 2-2-7 2-10 8 1-2 2 1-17-3-5-4 4 0 4-9 1-3 2-2 3 2 4 2 1-3-15 6-9 6-6-2-10-3 3 2-10 5 4 3-3 1-2 3 1 0 3 2 0-1 4 2 1 4 1-1 6-1 2-1-4 6 0-4 12 1 4-5-7 29 8-4-68-16 12-33 7 8-30-2-40 36 20 60 65-117 24 12 100 18 2 18-4 8 3" style="marker:url(#m50)"/>
<path d="M572 532.5l37-9 24 2-1 6 4 1 2 3-9-1-1 2 0-3-2 10-4-2 11-1 4 3-1 2 7-1 0-5 5-5-2-10-1-5 6-1-3-4-7-1-2 0 1-1 0-6 1 22 1 0 2 29-13-2-4-6-2 11-4 6-6-3-2-4-1-4 0-3 3-6 10 29 3 2 1 2 4 4-9-2-2-2-2 3 21-6 4 0-6 46-21-3-2-124 85 40 0 2" style="marker:url(#m51)"/>
<path d="M610 549.5l11 1 4 4-7 4-1 4-1 6 9 11 3 5 4 4 0-7 2-6-3-1 6-1 1-2 2 9 0 5 3 0 2-4 1-15 5 4 3 2-6-16-1 0-3-6-4-1 13-5 0-5 0-7-2 0-2 0 5-2 1-2-4-2-3-13-9 3" style="marker:url(#m52)"/>
<path d="M621.5 579l2 3 1 0 10-4 6-2 4 0 3-4 3 1-5 10-5-2 2 11 3-1-7 3-2 0-4-6 13 16 1 0-3 4 8 1-26 13 2-70 6-7 3 2 8-4 6-3 5 12-3 5-1-1-2 2 36 4-17 25-15-69" style="marker:url(#m53)"/>
<path d="M536 617.5L539.9 618.5" stroke="#ffd700" stroke-width="6"/>
<path d="M539.9 618.5L543.7 619.6M543.7 619.6L547.6 620.6" stroke="#ffd700" stroke-width="7"/>
<path d="M547.6 620.6L551.5 621.6M551.5 621.6L555.4 622.7" stroke="#ffd700" stroke-width="8"/>
<path d="M555.4 622.7L559.2 623.7M559.2 623.7L563.1 624.7M563.1 624.7L567 625.8" stroke="#ffe700" stroke-width="9"/>
<path d="M567 625.8L570.9 626.8M570.9 626.8L574.7 627.8" stroke="#ffe700" stroke-width="10"/>
<path d="M574.7 627.8L578.6 628.9" stroke="#ffe700" stroke-width="11"/>
<path d="M578.6 628.9L582.6 629.7M582.6 629.7L586.5 630.5" stroke="#fff700" stroke-width="11"/>
<path d="M586.5 630.5L590.4 631.2M590.4 631.2L594.3 632M594.3 632L598.3 632.8" stroke="#fff700" stroke-width="12"/>
<path d="M598.3 632.8L602.2 633.6M602.2 633.6L606.1 634.4" stroke="#f7ff08" stroke-width="13"/>
<path d="M606.1 634.4L610.1 635.2M610.1 635.2L614 635.9M614 635.9L617.9 636.7" stroke="#f7ff08" stroke-width="14"/>
<path d="M617.9 636.7L622 636.9M622 636.9L626 637.1M626 637.1L630 637.3M630 637.3L634 637.5" stroke="#e7ff18" stroke-width="15"/>
<path d="M634 637.5L638 637.7" stroke="#d7ff28" stroke-width="15"/>
<path d="M638 637.7L642 637.9M642 637.9L646 638.1M646 638.1L650 638.3M650 638.3L654 638.5" stroke="#d7ff28" stroke-width="16"/>
<path d="M654 638.5L658 638.7M658 638.7L662 638.6" stroke="#c7ff38" stroke-width="16"/>
<path d="M662 638.6L666 638.4M666 638.4L670 638.3" stroke="#c7ff38" stroke-width="17"/>
<path d="M670 638.3L674 638.2M674 638.2L678 638.1M678 638.1L682.1 638M682.1 638L686.1 637.9" stroke="#b7ff48" stroke-width="17"/>
<path d="M686.1 637.9L690.1 637.7M690.1 637.7L694.1 637.6M694.1 637.6L698.1 637.5" stroke="#a7ff58" stroke-width="17"/>
<path d="M698.1 637.5L702.1 637.4M702.1 637.4L706.1 637.3M706.1 637.3L710.1 637.2" stroke="#97ff68" stroke-width="17"/>
<path d="M710.1 637.2L714.1 637M714.1 637L718.1 636.9M718.1 636.9L722.1 636.8" stroke="#87ff78" stroke-width="17"/>
<path d="M722.1 636.8L726.1 636.7M726.1 636.7L730.2 636.6M730.2 636.6L734.2 636.5" stroke="#78ff87" stroke-width="17"/>
<path d="M734.2 636.5L738.2 636.3M738.2 636.3L742.2 636.2" stroke="#68ff97" stroke-width="17"/>
<path d="M742.2 636.2L746.2 636.1" stroke="#68ff97" stroke-width="18"/>
<path d="M746.2 636.1L750.2 636M750.2 636L754.2 635.9M754.2 635.9L758.2 635.8M758.2 635.8L762.2 635.6" stroke="#58ffa7" stroke-width="18"/>
<path d="M762.2 635.6L766.2 635.5M766.2 635.5L770.2 635.3M770.2 635.3L774.2 635.1M774.2 635.1L778.2 634.8M778.2 634.8L782.2 634.6" stroke="#48ffb7" stroke-width="18"/>
<path d="M782.2 634.6L786.2 634.4M786.2 634.4L790.3 634.1M790.3 634.1L794.3 633.9M794.3 633.9L798.3 633.7M798.3 633.7L802.3 633.4M802.3 633.4L806.3 633.2M806.3 633.2L810.3 633" stroke="#38ffc7" stroke-width="18"/>
<path d="M810.3 633L814.3 632.8M814.3 632.8L818.3 632.5M818.3 632.5L822.2 631.9M822.2 631.9L826.2 631.3M826.2 631.3L830.2 630.7M830.2 630.7L834.1 630.1" stroke="#28ffd7" stroke-width="18"/>
<path d="M834.1 630.1L838.1 629.5M838.1 629.5L842.1 628.8M842.1 628.8L846 628.2M846 628.2L850 627.6M850 627.6L853.9 627M853.9 627L857.9 626.4" stroke="#18ffe7" stroke-width="17"/>
<path d="M857.9 626.4L861.9 625.8M861.9 625.8L865.8 625.1M865.8 625.1L869.8 624.5" stroke="#08fff7" stroke-width="17"/>
<path d="M869.8 624.5L873.7 623.7M873.7 623.7L877.6 622.8M877.6 622.8L881.5 621.9M881.5 621.9L885.4 621M885.4 621L889.3 620.1M889.3 620.1L893.3 619.2" stroke="#08fff7" stroke-width="16"/>
<path d="M893.3 619.2L897.2 618.3M897.2 618.3L901.1 617.4M901.1 617.4L905 616.5M905 616.5L908.9 615.7" stroke="#00f7ff" stroke-width="15"/>
<path d="M908.9 615.7L912.8 614.8M912.8 614.8L916.7 613.9" stroke="#00f7ff" stroke-width="14"/>
<path d="M916.7 613.9L920.6 613M920.6 613L924.5 612.1M924.5 612.1L928.4 611.1" stroke="#00f7ff" stroke-width="13"/>
<path d="M928.4 611.1L932.3 610.1M932.3 610.1L936.2 609.1" stroke="#00f7ff" stroke-width="12"/>
<path d="M936.2 609.1L940.1 608.1M940.1 608.1L943.9 607" stroke="#00f7ff" stroke-width="11"/>
<path d="M943.9 607L947.8 606M947.8 606L951.7 605" stroke="#00f7ff" stroke-width="10"/>
<path d="M951.7 602L955.8 601.5M955.8 601.5L959.9 600.9M959.9 600.9L964 600.4M964 600.4L968.1 599.9M968.1 599.9L972.2 599.4M972.2 599.4L976.3 599.2M976.3 599.2L980.4 599.7M980.4 599.7L984.5 600.2M984.5 600.2L988.6 600.7M988.6 600.7L992.7 601.2M992.7 601.2L995.2 603.2M995.2 603.2L995.8 607.3M995.8 607.3L994 610.4M994 610.4L990.6 612.7M990.6 612.7L987.2 615M987.2 615L983.5 616.6M983.5 616.6L979.4 616.9M979.4 616.9L975.3 617.2M975.3 617.2L971.1 617.5M971.1 617.5L967 617.9M967 617.9L962.9 618.2M962.9 618.2L958.8 618.5M958.8 618.5L954.7 618.8M954.7 618.8L950.6 618.9" stroke="#00e7ff" stroke-width="9"/>
<path d="M950.6 618.9L946.4 618.5M946.4 618.5L942.3 618.1M942.3 618.1L938.2 617.8M938.2 617.8L934.1 617.4M934.1 617.4L930 617" stroke="#00f7ff" stroke-width="9"/>
<path d="M995 600.5L997.9 597.7" stroke="#00e7ff" stroke-width="12"/>
<path d="M997.9 597.7L1000.8 594.9" stroke="#00d7ff" stroke-width="12"/>
<path d="M1000.8 594.9L1003.7 592.1M1003.7 592.1L1006.6 589.3M1006.6 589.3L1009.5 586.5" stroke="#00d7ff" stroke-width="13"/>
<path d="M1009.5 586.5L1012.2 583.4M1012.2 583.4L1014.7 580.3" stroke="#00c7ff" stroke-width="13"/>
<path d="M1014.7 580.3L1017.3 577.2M1017.3 577.2L1019.9 574.1" stroke="#00c7ff" stroke-width="12"/>
<path d="M1019.9 574.1L1022.5 570.9" stroke="#00b7ff" stroke-width="12"/>
<path d="M1022.5 570.9L1024.5 567.5M1024.5 567.5L1026.3 563.9M1026.3 563.9L1028.1 560.2" stroke="#00b7ff" stroke-width="11"/>
<path d="M1028.1 560.2L1029.8 556.6M1029.8 556.6L1031.6 553" stroke="#00a7ff" stroke-width="10"/>
<path d="M1031.6 553L1033.4 549.3" stroke="#00a7ff" stroke-width="9"/>
<path d="M1033.4 549.3L1034.9 545.6" stroke="#0097ff" stroke-width="9"/>
<path d="M1034.9 545.6L1036.4 541.8" stroke="#0097ff" stroke-width="8"/>
<path d="M1036.4 541.8L1037.9 538.1M1037.9 538.1L1039.3 534.3" stroke="#0087ff" stroke-width="8"/>
<path d="M1039.3 534.3L1040.8 530.5M1040.8 530.5L1042 526.7" stroke="#0078ff" stroke-width="7"/>
<path d="M1042 526.7L1043.3 522.9M1043.3 522.9L1044.5 519" stroke="#0068ff" stroke-width="6"/>
<path d="M1045 519L1045.5 523M1045.5 523L1046 527" stroke="#0058ff" stroke-width="6"/>
<path d="M1046 527L1046.5 531" stroke="#0048ff" stroke-width="6"/>
<path d="M1046.5 531L1047 535M1047 535L1047.6 539.1" stroke="#0038ff" stroke-width="6"/>
<path d="M1047.6 539.1L1048.1 543.1" stroke="#0028ff" stroke-width="6"/>
<path d="M1048.1 543.1L1048.7 547.1M1048.7 547.1L1049.2 551.1" stroke="#0018ff" stroke-width="6"/>
<path d="M1049.2 551.1L1049.8 555.1" stroke="#0008ff" stroke-width="6"/>
<path d="M1049.8 555.1L1050.4 559.1M1050.4 559.1L1050.9 563.1" stroke="#0000f7" stroke-width="6"/>
<path d="M1050.9 563.1L1051.5 567.1M1051.5 567.1L1052.1 571.1" stroke="#0000e7" stroke-width="6"/>
<path d="M1052.1 571.1L1052.6 575.1M1052.6 575.1L1053.2 579.1" stroke="#0000d7" stroke-width="6"/>
<path d="M1053.2 579.1L1053.7 583.1M1053.7 583.1L1054.5 587.1M1054.5 587.1L1055.3 591M1055.3 591L1057 594.1" stroke="#0000c7" stroke-width="6"/>
<path d="M1057 594.1L1061 594.5" stroke="#0000b7" stroke-width="6"/>
<path d="M183.5 529l3 1 57 19 0-1 1 0 2 0-1-1 11 3-19 22" style="marker:url(#m54)"/>
<path d="M187.5 532l47 16 16 2 2-3" style="marker:url(#m55)"/>
<path d="M190 529.5l4 2 3-1-5 3 62 14" style="marker:url(#m56)"/>
<path d="M199 532l7-1 27 40 3-1 8 0-2 1" style="marker:url(#m57)"/>
<path d="M201 532.5l3 0 4 0 9-1 22 38 6 2" style="marker:url(#m58)"/>
<path d="M209.5 538l3-6 61 19 5 0" style="marker:url(#m59)"/>
<path d="M219.5 531l2 2 0 2 1 3 4-4-2-2 6 5-3 5 5 1 3-1 0 0 41 9 0 1 3-1 6 4 1-24 13 6" style="marker:url(#m5a)"/>
<path d="M226.5 539l6-1 0 2 3-3 3 8-2 3 57 5 2-1 4-14-7-7-1 1-4 1" style="marker:url(#m5b)"/>
<path d="M236.5 537.5l3 6 0 1 6 4 15-8-2-2 7 0 1 3 18-11 8 3 4 1 1 0 9 3-1 14-23 24" style="marker:url(#m5c)"/>
<path d="M254.5 552l7 5 0 2 8 0 16 7 16-12 9-2 3-10 1-2 1 0 0 4 3-6-10 0-4 2-8-5-41 1 60 35 30 11" style="marker:url(#m5d)"/>
<path d="M251.5 554l6 7 2 11 3-3 39 1 5-16 9 0 3 2 3 2 3-1 0-11-1-1 0 0-3-2-1-3-3 2-2-1-11-3 29 10-1 32-9 0 46 1 80 4" style="marker:url(#m5e)"/>
<path d="M241.5 547.5l11 0 17-8 23-7 3 23 14-5 4-10 11 3-65 27-4 0" style="marker:url(#m5f)"/>
<path d="M218.5 534.5l12 1 3 2 32 13 4 3 7-4 2-1" style="marker:url(#m5g)"/>
<path d="M262 569.5l7-15 50 4 8-4 2 0 2-8 5 2 3 0 1 3-18-5-2-2 17 31-4 5 36 6 27 3-1-20-9-7-8 0 74 22 8 1 11 4 12 7 14 6" style="marker:url(#m5h)"/>
<path d="M227 546.5l5-1" style="marker:url(#m5i)"/>
<path d="M263 571.5l51 0 9-14 2-13 9 1-1 0 1 3 1 2 1-1 26 8 6 5 3 2 5 21-22-6-8 2 56 0 27 1-1-7 19 7 2 2 15 4 0 0 4 2 1 0 3-2 6 4 5 2 3 2 3-1 0 4 2-1 2 0 0-2 2 4-4 5-8-4 0-3-11 3 1 1-3 2-4-1-7 0-3-3-14-2 64 3 1-1-1 3 5 0 2 0 0-3" style="marker:url(#m5j)"/>
<path d="M340 547l5 5 2 3 60 22 44 8 5 1 1 1 0-6 3 19-7 2-13-2 28 2 5 1 2 3 5-1 4 0-2 3-5-15-6-2 23 5 1 2 2-1 5 4 2 0 1-1 7 0 2 3-1 1 9 1 2 1 3 2 2-3 3 3 4-2 5 3 17 6 9 1-59 1-5-4-5 0-1 1" style="marker:url(#m5k)"/>
<path d="M336 548.5l5 4 6-2 0-1 48 40 15-3 22 7 10 7 9-1 4-5 13-4-3-3 3 16 8 0 2 0 3 0 1-9 0-1 12 2 3 1 5 5 5 1 2 1 1 0 4 0 1-2 3 2 3 1 1 4 0 5-9 3-6-3-3 0-6-1-10-4 41-4 5 2 2 3 3 1 0-2 5 3 3 0-4 7-9-1 1-1 24-2 3 2 28 2-145-33" style="marker:url(#m5l)"/>
<path d="M421 592l17 4 39 9 17 0 0 7 1-2 2 1 1-3 4 4 10 5 1 1 12 0 0-1 1 0 2 1-3-2 9 4 4 2 0-10 6 1 8 2-3 8 19 3 0-10 1-3 12 4 1 0 1-1 4 3-59-16-17 0-20-8" style="marker:url(#m5m)"/>
<path d="M449 599l11-12 8 1 6 8 11 5 26 17 7 0 8 0 13 1 5 1 0 1 2-3 1-1-1-2-4-2 4 11-2 3 10-8 5 0 1 2 11 0 12-3 0-3 9 4" style="marker:url(#m5n)"/>
<path d="M498 609l62 13 3 1 4 0-1-4-1 0-6 7 1 5 1 0 7 0 8 2 2 3 5 2 3-9-9-3-2-1 0-1 23 5" style="marker:url(#m5o)"/>
<path d="M621.5 635l9-3 2 8 2 4-4 0 12-2-2-3 6 2 5-2 9 1 25-1" style="marker:url(#m5p)"/>
<path d="M638 636.5l2 2 4-2 3-1-3-4 17 0 6 0 7 3-1 5-4 3-3-2-5 1-1 1-3 1-2-3 4-3" style="marker:url(#m5q)"/>
<path d="M859 634l0-7 8 0 0-6 5-5 0 16 24-6 2-2 5 1-3-8 2-3 1 0 8-6 11-1 3 3 2-1 1-6 4 4 3 0-1 9 3 0-1 3 4 2 7-1 2-1 1-2 5 0 3-1 1 5 9-1 3 0-1-4-1-1-2 0-1-13 3-1 1-1 11 3 14 1 1 5-3 4-2 2-1-6 7-20-44 10-3-1-6 1 5 11 2 0-5 3-3 0-23 0 0 5 3 0 1 1" style="marker:url(#m5r)"/>
<path d="M829.5 638l24-5 3-2 5-8 3 3 5 2 10-8 7-1 3 3 5 1 12-1 2-13 8-3 6 4 7 3 3-5 7 0 7-4 19 13 28-6-106 2" style="marker:url(#m5s)"/>
<path d="M750.5 644l10-2 2-2-4-2 7-6 0-3 5 0 1 4 9 2 4 6-10 2 14-16 15 0" style="marker:url(#m5t)"/>
<path d="M669 639l3 2 0-6 4 1 2-2 0-1 2 0 0 0-1-3-7 1 10 8 2 3 0 2-4 0-1 0 8-7 1 0 1-5 16 1" style="marker:url(#m5u)"/>
<path d="M581.5 626l3 1 3 1-1 6 11 0 2-3-3-4 7 2 0 5 5 1 3 1-3 4-3-2-5 1-2 1-2 0 19 0 6 1-2-9-2-1-7-3 20 11" style="marker:url(#m5v)"/>
<path d="M705 645l1-4 3-3 4 0-4-4 8-3 2 10 5 0 2-2-4 6 7-15" style="marker:url(#m5w)"/>
<path d="M682 630.5l4 4 3 6 3-1 5 2 4 1 8-3-5-9-4 0-2 0-10 15-4 0" style="marker:url(#m5x)"/>
<path d="M712 638l2 0 12-2-1-1-1-2-1-3 10 1-2 3 6 0 6-1 4 0" style="marker:url(#m5y)"/>
<path d="M610 628.5l1 5 1 0-1 1 2 6 7-7 12 1 0-5 8 2-1 1 0 4-4 1 4 4-9 0-1-2 25-5" style="marker:url(#m5z)"/>
<path d="M692.5 640.5l3 4 2-1 5-3 9 0 0 2 2-6 1-7-10 2" style="marker:url(#m60)"/>
<path d="M768.5 637.5l23 2 2 1 3-6 1 0 2 0-3-4-7 1 17 5-1 4 14-1 4-4 0-6 4 3 8 1 2-1 4 4 14-2-10-12-12 2-18 7-6-3" style="marker:url(#m61)"/>
<path d="M788 642l6-7 30-1 2 2-2-10-6 0 14 0 0-2 14 0-2 3-4 3 14 4 5-6 1-8 5 2 5-4 6-3 4 2 4 1-6 3 15 1 3-3 1-1-43 5 134-20" style="marker:url(#m62)"/>
<path d="M729 630.5l1 1 12 1-2 6 12-6 2-1 3 0-1 5 5-1 3 4-8 4-5-15 28 10" style="marker:url(#m63)"/>
<path d="M772.5 629.5l0-1 1 7 4-4 1 10 6 0 9 0 5-2 6 1 4-4 1-4-7-1 2-5 1 0 9 1 8 2 1 3-7 5" style="marker:url(#m64)"/>
<path d="M727 635.5l0 7 9-8 1-1 4-1-1 5 4-1 4 1-1 3 5-6 21 5" style="marker:url(#m65)"/>
<path d="M929.5 604.5l3-2 0 8-1 2 0 3 1 0-1 2-2 1 9 0 4-5 3-9 1 0 0 1 1 0 2-1 13-2 1-7 14 2-1 4 8-1 4-1 0-2 0 5 4 1 1 4 3-1 1-1 0-5-2-2 5 0 1 5 4-11-4-5-17 26-8-1-1 6 1 1 3 0 0-2-8 2-2-1-3 2" style="marker:url(#m66)"/>
<path d="M564 631.5l7-9 6 3 8 1 9 8 3 6-20-5 35-6" style="marker:url(#m67)"/>
<path d="M931.5 602.5l15 11 8-14 40 1 1-3 1 0-3-2 10-1 1-1 0 0 1 0 0-2-2-1 2-5 0 15-4-2-6 11-6 2 32-40" style="marker:url(#m68)"/>
<path d="M1002 584.5l5 1 8-10 7-1 2 2 0-13 2 0-7-1 8-9" style="marker:url(#m69)"/>
<path d="M1039.5 521.5l2-2 0 5" style="marker:url(#m6a)"/>
<path d="M1006 589.5l1-1 5-2-1 5 5-6 3-1-2-2 1-5-3 0-4 0-2 3 3-8 4-1 7 3 3-21 3 2" style="marker:url(#m6b)"/>
<path d="M1015.5 570l5 3 2-1 4-3-6-6 11-4-1-1 0-3 5 3 5-8-11-3" style="marker:url(#m6c)"/>
<path d="M1033.5 535.5l1 5 5 6 1 1 1-13-3-11" style="marker:url(#m6d)"/>
<path d="M1025.5 569l2-19 7-2 4-1-2-6-1-6 3-4-8 10-1 0 7 16" style="marker:url(#m6e)"/>
<path d="M1031.5 539l5-2 6-4-8-4 6-9 5 2" style="marker:url(#m6f)"/>
<path d="M1037 528.5l6-1 3 5" style="marker:url(#m6g)"/>
<path d="M1049 545.5l0 0" style="marker:url(#m6h)"/>
<path d="M1054 582l0 0" style="marker:url(#m6i)"/>
<path d="M1050.5 556.5l0 0" style="marker:url(#m6j)"/>
<path d="M1053 570.5l0 7 2 5" style="marker:url(#m6k)"/>
<path d="M1050 563l1 0 1 4 0 2" style="marker:url(#m6l)"/>
<path d="M1053.5 579.5l0 0" style="marker:url(#m6m)"/>
<path d="M1049 548l0 0" style="marker:url(#m6n)"/>
</g>
<path d="M-6.4 660.4L-6.5 638.0L-6.0 615.6L-4.9 593.1L-3.3 570.7L-1.1 548.3L1.6 525.9L4.9 503.4L8.8 481.0L13.1 458.6L18.0 436.1L23.4 413.7L29.4 391.3L35.8 368.8L42.8 346.4L50.2 324.0L58.2 301.6L66.7 279.1L75.6 256.7L85.0 234.3L94.9 211.8L105.3 189.4L116.2 167.0L127.5 144.6L139.3 122.1L151.5 99.7L164.2 77.3L177.3 54.8L190.9 32.4M142.5 660.4L142.8 638.0L143.6 615.6L145.0 593.1L146.9 570.7L149.4 548.3L152.5 525.9L156.0 503.4L160.2 481.0L164.8 458.6L170.0 436.1L175.7 413.7L181.9 391.3L188.6 368.8L195.8 346.4L203.6 324.0L211.8 301.6L220.5 279.1L229.7 256.7L239.3 234.3L249.5 211.8L260.1 189.4L271.2 167.0L282.7 144.6L294.7 122.1L307.2 99.7L320.0 77.3L333.4 54.8L347.2 32.4M291.5 660.4L292.0 638.0L293.2 615.6L294.9 593.1L297.1 570.7L299.9 548.3L303.3 525.9L307.1 503.4L311.5 481.0L316.5 458.6L321.9 436.1L327.9 413.7L334.4 391.3L341.4 368.8L348.8 346.4L356.8 324.0L365.3 301.6L374.2 279.1L383.7 256.7L393.6 234.3L403.9 211.8L414.8 189.4L426.1 167.0L437.9 144.6L450.1 122.1L462.7 99.7L475.8 77.3L489.4 54.8L503.4 32.4M440.4 660.4L441.3 638.0L442.7 615.6L444.7 593.1L447.3 570.7L450.4 548.3L452.0 538.0M466.8 464.0L468.1 458.6L473.8 436.1L480.0 413.7L486.8 391.3L494.0 368.8L501.8 346.4L510.0 324.0L518.7 301.6L527.9 279.1L537.6 256.7L547.7 234.3L558.3 211.8L569.4 189.4L580.9 167.0L592.9 144.6L605.4 122.1L618.2 99.7L631.5 77.3L645.3 54.8L659.5 32.4M589.2 660.4L590.4 638.0L592.2 615.6L594.5 593.1L597.4 570.7L600.8 548.3L602.5 538.0M618.3 464.0L619.6 458.6L625.6 436.1L632.1 413.7L639.2 391.3L646.7 368.8L654.7 346.4L663.1 324.0L672.1 301.6L681.5 279.1L691.5 256.7L701.8 234.3L712.7 211.8L724.0 189.4L735.7 167.0L747.9 144.6L760.6 122.1L773.7 99.7L787.2 77.3L801.1 54.8L815.5 32.4M738.1 660.4L739.6 638.0L741.7 615.6L744.3 593.1L747.4 570.7L751.1 548.3L755.4 525.9L760.1 503.4L765.4 481.0L771.1 458.6L777.4 436.1L784.2 413.7L791.5 391.3L799.2 368.8L807.5 346.4L816.2 324.0L825.4 301.6L835.1 279.1L845.2 256.7L855.9 234.3L866.9 211.8L878.5 189.4L890.4 167.0L902.8 144.6L915.7 122.1L929.0 99.7L942.7 77.3L956.9 54.8L971.4 32.4M886.8 660.4L888.7 638.0L891.1 615.6L894.0 593.1L897.5 570.7L901.4 548.3L906.0 525.9L911.0 503.4L916.5 481.0L922.6 458.6L929.1 436.1L936.2 413.7L943.7 391.3L951.7 368.8L960.2 346.4L969.2 324.0L978.7 301.6L988.6 279.1L999.0 256.7L1009.8 234.3L1021.1 211.8L1032.8 189.4L1045.0 167.0L1057.7 144.6L1070.7 122.1L1084.2 99.7L1098.2 77.3L1112.5 54.8L1127.3 32.4M1035.6 660.4L1037.7 638.0L1040.4 615.6L1043.7 593.1L1047.4 570.7L1051.7 548.3L1056.5 525.9L1061.8 503.4L1067.6 481.0L1073.9 458.6L1080.8 436.1L1088.1 413.7L1095.9 391.3L1104.1 368.8L1112.9 346.4L1122.1 324.0L1131.8 301.6L1142.0 279.1L1152.6 256.7L1163.7 234.3L1175.2 211.8L1187.2 189.4L1199.6 167.0L1212.4 144.6L1225.7 122.1L1239.4 99.7L1253.5 77.3L1268.1 54.8L1283.0 32.4" stroke="#4a4a4a" stroke-width="1" fill="none" clip-path="url(#ca)"/>
<text transform="translate(131.3 92.5) rotate(-62.0)" y="8.3" font-size="23.3" fill="#5a5a5a" text-anchor="middle">1021</text>
<text transform="translate(290.2 91.8) rotate(-62.0)" y="8.3" font-size="23.3" fill="#5a5a5a" text-anchor="middle">1022</text>
<text transform="translate(436.8 92.7) rotate(-62.0)" y="8.3" font-size="23.3" fill="#5a5a5a" text-anchor="middle">1023</text>
<text transform="translate(908.2 93.2) rotate(-60.5)" y="8.3" font-size="23.3" fill="#5a5a5a" text-anchor="middle">1026</text>
<text transform="translate(1054.4 92.6) rotate(-60.5)" y="8.3" font-size="23.3" fill="#5a5a5a" text-anchor="middle">1027</text>
<text transform="translate(1115.3 274.4) rotate(-59.5)" y="8.3" font-size="23.3" fill="#5a5a5a" text-anchor="middle">1028</text>
<text transform="translate(461.0 502.7) rotate(-80.0)" y="8.8" font-size="24.6" fill="#111" text-anchor="middle">1024</text>
<text transform="translate(611.8 500.5) rotate(-80.0)" y="8.8" font-size="24.6" fill="#111" text-anchor="middle">1025</text>
<g><ellipse cx="0" cy="0" rx="242.1" ry="179.4" transform="translate(458.0 472.0) rotate(0.0)" fill="none" stroke="#0a0aff" stroke-width="1.4"/></g>
<g><ellipse cx="0" cy="0" rx="130.0" ry="72.0" transform="translate(604.0 167.5) rotate(52.0)" fill="none" stroke="#111" stroke-width="1.4"/></g>
<rect x="699.5" y="58.7" width="146.0" height="331.6" fill="none" stroke="#111" stroke-width="1.45"/>
<g><ellipse cx="0" cy="0" rx="54.0" ry="90.0" transform="translate(773.0 481.0) rotate(3.0)" fill="none" stroke="#111" stroke-width="1.4"/></g>
<g><ellipse cx="0" cy="0" rx="45.0" ry="19.7" transform="translate(857.6 414.5) rotate(-54.0)" fill="none" stroke="#111" stroke-width="1.4"/></g>
<g><ellipse cx="0" cy="0" rx="75.8" ry="17.0" transform="translate(984.9 459.6) rotate(52.0)" fill="none" stroke="#111" stroke-width="1.4"/></g>
<g><ellipse cx="0" cy="0" rx="24.4" ry="44.6" transform="translate(1063.6 562.5) rotate(0.0)" fill="none" stroke="#111" stroke-width="1.4"/></g>
<g clip-path="url(#ca)"><ellipse cx="0" cy="0" rx="153.0" ry="45.0" transform="translate(845.0 615.0) rotate(0.0)" fill="none" stroke="#111" stroke-width="1.4"/></g>
<text x="507.0" y="56.0" font-size="26.7" font-weight="bold" fill="#000">ACW</text>
<text x="724.0" y="56.0" font-size="26.7" font-weight="bold" fill="#000">BSW</text>
<text x="851.0" y="470.0" font-size="26.7" font-weight="bold" fill="#000">CIL</text>
<text x="820.0" y="537.0" font-size="26.7" font-weight="bold" fill="#000">AW</text>
<text x="1003.0" y="447.0" font-size="26.7" font-weight="bold" fill="#000">BDW</text>
<text x="1099.0" y="583.0" font-size="26.7" font-weight="bold" fill="#000">ATW</text>
<text x="967.0" y="649.0" font-size="26.7" font-weight="bold" fill="#000">WW</text>
<path d="M94.8 31.8V660.5H1185.0" stroke="#4d4d4d" stroke-width="1.9" fill="none"/>
<path d="M215.9 660.5v-11.8M336.9 660.5v-11.8M458.0 660.5v-11.8M579.1 660.5v-11.8M700.1 660.5v-11.8M821.2 660.5v-11.8M942.3 660.5v-11.8M1063.4 660.5v-11.8M1184.4 660.5v-11.8M94.8 572.4h11.8M94.8 482.2h11.8M94.8 392.0h11.8M94.8 301.3h11.8M94.8 212.4h11.8M94.8 122.0h11.8M94.8 32.4h11.8" stroke="#4d4d4d" stroke-width="1.3" fill="none"/>
<text x="94.8" y="700.8" font-size="27.2" fill="#262626" text-anchor="middle">27</text>
<text x="215.9" y="700.8" font-size="27.2" fill="#262626" text-anchor="middle">28</text>
<text x="336.9" y="700.8" font-size="27.2" fill="#262626" text-anchor="middle">29</text>
<text x="458.0" y="700.8" font-size="27.2" fill="#262626" text-anchor="middle">30</text>
<text x="579.1" y="700.8" font-size="27.2" fill="#262626" text-anchor="middle">31</text>
<text x="700.1" y="700.8" font-size="27.2" fill="#262626" text-anchor="middle">32</text>
<text x="821.2" y="700.8" font-size="27.2" fill="#262626" text-anchor="middle">33</text>
<text x="942.3" y="700.8" font-size="27.2" fill="#262626" text-anchor="middle">34</text>
<text x="1063.4" y="700.8" font-size="27.2" fill="#262626" text-anchor="middle">35</text>
<text x="1184.4" y="700.8" font-size="27.2" fill="#262626" text-anchor="middle">36</text>
<text x="82.8" y="670.5" font-size="27.2" fill="#262626" text-anchor="end">-2</text>
<text x="82.8" y="582.4" font-size="27.2" fill="#262626" text-anchor="end">0</text>
<text x="82.8" y="492.2" font-size="27.2" fill="#262626" text-anchor="end">2</text>
<text x="82.8" y="402.0" font-size="27.2" fill="#262626" text-anchor="end">4</text>
<text x="82.8" y="311.3" font-size="27.2" fill="#262626" text-anchor="end">6</text>
<text x="82.8" y="222.4" font-size="27.2" fill="#262626" text-anchor="end">8</text>
<text x="82.8" y="132.0" font-size="27.2" fill="#262626" text-anchor="end">10</text>
<text x="82.8" y="42.4" font-size="27.2" fill="#262626" text-anchor="end">12</text>
<g transform="translate(38 515.9) rotate(-90)" fill="#262626"><text x="-2" y="0" font-size="29.6">Potential temperature (</text><circle cx="308.5" cy="-19.3" r="1.7" fill="none" stroke="#262626" stroke-width="0.9"/><path d="M327.5 -16.5a8.3 10.4 0 1 0 0 12" fill="none" stroke="#262626" stroke-width="1.7"/><text x="332" y="0" font-size="29.6">)</text></g>
<path d="M215.9 720.5V1348.7M336.9 720.5V1348.7M458.0 720.5V1348.7M579.1 720.5V1348.7M700.1 720.5V1348.7M821.2 720.5V1348.7M942.3 720.5V1348.7M1063.4 720.5V1348.7M1184.4 720.5V1348.7M94.8 1259.0H1184.4M94.8 1168.5H1184.4M94.8 1079.3H1184.4M94.8 989.2H1184.4M94.8 898.8H1184.4M94.8 810.0H1184.4M94.8 720.5H1184.4" stroke="#dcdcdc" stroke-width="1" fill="none"/>
<g clip-path="url(#cb)" fill="none" stroke-linecap="round">
<path d="M839 1109.9L842.2 1107.6M842.2 1107.6L845.4 1105.2M994 1146.3L996 1149.8M996 1149.8L997.9 1153.5M997.9 1153.5L999.8 1157.1M999.8 1157.1L1001.8 1160.7M1001.8 1160.7L1003.7 1164.3M1003.7 1164.3L1005.7 1167.9M1005.7 1167.9L1007.6 1171.5" stroke="#00f400" stroke-width="10"/>
<path d="M845.4 1105.2L848.7 1102.9M848.7 1102.9L851.9 1100.5M851.9 1100.5L855.2 1098.1M855.2 1098.1L858.4 1095.8M858.4 1095.8L861.7 1093.4M928.5 1080.4L931.7 1082.9M931.7 1082.9L934.8 1085.4M934.8 1085.4L938 1087.8M968.4 1109.6L971.7 1112M971.7 1112L974.2 1115.3M974.2 1115.3L976.6 1118.6M976.6 1118.6L979.1 1121.9M979.1 1121.9L981.5 1125.1M981.5 1125.1L984 1128.4M984 1128.4L986 1131.9M986 1131.9L988 1135.5M988 1135.5L990 1139.1M990 1139.1L992 1142.7M992 1142.7L994 1146.3" stroke="#00f400" stroke-width="11"/>
<path d="M861.7 1093.4L864.7 1090.8M864.7 1090.8L867.7 1088.2M867.7 1088.2L870.7 1085.5M870.7 1085.5L873.7 1082.8M873.7 1082.8L876.7 1080.2M876.7 1080.2L879.7 1077.5M879.7 1077.5L882.7 1074.9M882.7 1074.9L885.9 1072.4M885.9 1072.4L889 1069.9M889 1069.9L892.3 1067.7M892.3 1067.7L896.3 1067.4M896.3 1067.4L900.3 1067.1M900.3 1067.1L904.3 1066.7M904.3 1066.7L907.9 1068.3M907.9 1068.3L911.6 1069.9M911.6 1069.9L915.3 1071.5M915.3 1071.5L919 1073.1M919 1073.1L922.2 1075.5M922.2 1075.5L925.3 1078M925.3 1078L928.5 1080.4M938 1088.9L941.5 1091M941.5 1091L944.9 1093.2M944.9 1093.2L948.4 1095.4M948.4 1095.4L951.9 1097.5M951.9 1097.5L955.3 1099.8M955.3 1099.8L958.6 1102.2M958.6 1102.2L961.9 1104.7M961.9 1104.7L965.1 1107.1M965.1 1107.1L968.4 1109.6" stroke="#00f400" stroke-width="12"/>
<path d="M1007.6 1171.5L1009.5 1175.1M1009.5 1175.1L1011.5 1178.7M1011.5 1178.7L1013.5 1182.2M1013.5 1182.2L1015.5 1185.8M1015.5 1185.8L1017.5 1189.4" stroke="#00f400" stroke-width="9"/>
<path d="M1017.5 1189.4L1019.5 1193M1019.5 1193L1021.5 1196.5M1021.5 1196.5L1023.4 1200.1M1023.4 1200.1L1025.4 1203.7" stroke="#00f400" stroke-width="8"/>
<path d="M759.5 828.5h0m4-5h0m8 3h0m0 2h0m-2 4h0m-3 4h0m-2-1h0m0 6h0m0 5h0m1 1h0m-2-1h0m1 4h0m2 4h0m-2 1h0m2 5h0m6-5h0m1-2h0m3 4h0m4 2h0m7-7h0m-1-1h0m7 3h0m3 0h0m5 0h0m0 5h0m-3 3h0m-5 2h0m-1-1h0m-4 3h0m-15 2h0m-2 10h0m-2-1h0m-1 5h0m-4 3h0m3 9h0m0 7h0m1-1h0m2 2h0m0 4h0m-6-1h0m0-4h0m9-3h0m3 2h0m2-3h0m1-6h0m4-7h0m2 1h0m5-2h0m7 2h0m0-7h0m9-3h0m0-1h0m-1-3h0m-1 0h0m6 8h0m1 0h0m5-3h0m-1 7h0m9 2h0m3-3h0m2 5h0m8 4h0m1 16h0m1 5h0m6-1h0m0-4h0m-21 1h0m-5 1h0m-3 3h0m-4-2h0m1-4h0m-6 4h0m-3 1h0m0 7h0m-6-1h0m-3 7h0m7 4h0m-2 11h0m-2 5h0m-3 1h0m-1 7h0m2 2h0m1 1h0m-2 3h0m-5-1h0m2 8h0m-1 10h0m6-3h0m11 0h0m-1-2h0m3-6h0m2 1h0m1-5h0m-4-2h0m-1-5h0m4 0h0m-1-3h0m4-2h0m5-3h0m-3-6h0m1-6h0m-1-7h0m0-1h0m-7-3h0m0-6h0m11 3h0m8-1h0m0 6h0m4 3h0m-1 1h0m2-1h0m4 0h0m2-1h0m0 6h0m4 0h0m-1 2h0m-14 0h0m1-1h0m-4-4h0m10-9h0m-4 27h0m-3 3h0m-4 0h0m1 2h0m-3 7h0m0 2h0m1 7h0m-6 0h0m0 1h0m1 2h0m-4-3h0m-3 12h0m-3-1h0m-6 0h0m-6 9h0m-3 1h0m-4-1h0m1 4h0m-6-1h0m0-3h0m1 7h0m6 9h0m22-2h0m9 4h0m4-11h0m-1-8h0m-1-8h0m8 0h0m7 3h0m0 5h0m-2 9h0m5 0h0m-5-27h0m-2 1h0m-6-2h0m0 4h0m9-8h0m-6-6h0m11-2h0m-44 0h0m-2-6h0m2-3h0m8-2h0m1-4h0m-16-7h0m-1-1h0m-10 0h0m-2 0h0m4-2h0m-8-9h0m-6 4h0m4 14h0m1-1h0m2 6h0m2 4h0m1 3h0m-6-2h0m12-2h0m1 0h0m-6 16h0m-1 0h0m1 4h0m3 2h0m29 18h0m7-87h0m1-2h0m-19 3h0m0 2h0m-2-8h0m-12 1h0m2-3h0m-2 16h0m-1 3h0m5-4h0m-18-29h0m7-36h0m6-8h0m3 2h0m8 4h0m6 0h0m-1-11h0m-2-1h0m0 2h0m5-6h0m6-2h0m1-1h0m-1-2h0m1-6h0m2 3h0m9 0h0m0-3h0m-1-1h0m0-6h0m3 1h0m6-1h0m0-1h0m5-2h0m1 0h0m2-4h0m5 1h0m-2 9h0m-1 3h0m-6 2h0m1 5h0m-7 2h0m-1-4h0m0 12h0m6-1h0m6-2h0m1-2h0m-1 7h0m-2 7h0m0 0h0m-2 5h0m2 2h0m5-5h0m1 11h0m-6 5h0m-7 1h0m1 3h0m-1 5h0m1 7h0m8 1h0m-18-3h0m3-6h0m-1-9h0m-1-6h0m1 0h0m5 0h0m-2-7h0m-5 0h0m-1 2h0m-6 1h0m1-4h0m-2 12h0m5 0h0m0 4h0m-14-3h0m6-22h0m8-10h0m-1-17h0m-1-4h0m-3-5h0m0-3h0m7-4h0m0-5h0m-8-1h0m-6 1h0m-1-6h0m-4 1h0m-1-2h0m5-6h0m-1-3h0m-2-6h0m-2-3h0m-3-3h0m7 0h0m2 0h0m5 9h0m3 0h0m3 7h0m-8 0h0m-14-3h0m-3-10h0m-3 27h0m1 8h0m-4 0h0m-3-4h0m5 12h0m10 1h0m-2-4h0m-1-3h0m9 0h0m23 2h0m1-1h0m3 1h0m-2-10h0m1-6h0m-3-1h0m-5-4h0m13 10h0m-5 51h0m-29-20h0m-11 2h0m3-10h0m-12 4h0m-4-3h0m-5-4h0m-2 10h0m-3 19h0" stroke="#00f400" stroke-width="6.2"/>
<path d="M702 873h0m2-3h0m5-4h0m4-1h0m6 1h0m2 3h0m5-1h0m2 2h0m4 0h0m4 2h0m6 1h0m-10 4h0m-1 0h0m3 3h0m0 8h0m2-1h0m2 3h0m-3 1h0m-5 8h0m-12-3h0m-9-1h0m-2-2h0m-1-2h0m0-3h0m4-5h0m3-10h0m7 3h0m5 1h0m-2-16h0m-2 0h0m-4-7h0m-4-5h0m-5 4h0m-3-3h0m2-8h0m1 18h0m25-3h0m3 2h0m6-2h0m-2-12h0m-5 4h0m-7-3h0m0-5h0m2-3h0m0-1h0m1-12h0m-1-5h0m0-3h0m-5-5h0m2-9h0m6 3h0m0 1h0m3-5h0m2 1h0m2 1h0m-1 6h0m2 8h0m1 1h0m1 7h0m1 5h0m4-8h0m9-1h0m-2-2h0m3-4h0m-4-6h0m-5-11h0m-2-3h0m4-10h0m6-5h0m-17 3h0m-11 6h0m-3 2h0m0 1h0m-1-3h0m-6 1h0m-5-8h0m11-2h0m-18 22h0m-2 0h0m0 17h0m9 2h0m5 5h0m40 3h0m1 13h0m-5 4h0m3 23h0m-5 7h0m-3 3h0m-3 7h0m-2-2h0" stroke="#00f400" stroke-width="6.4"/>
<path d="M718.5 803.5h0m2 0h0m1 1h0m0-3h0m0 0h0m0 0h0m0-1h0m1 7h0m69 163h0m3 1h0m-2 2h0m-1 2h0m-2 6h0m0 9h0m0 3h0m2 4h0m4-3h0m1-3h0m0-3h0m1-6h0m4-6h0m6 1h0m1 3h0m4 0h0m-2-5h0m3-2h0m-3-3h0m-6 1h0m21-2h0m-1 9h0m2 2h0m-1 2h0m13-1h0m-2-4h0m-2 0h0m3-6h0m3 0h0m3 3h0m0 7h0m2 1h0m0 7h0m-2 0h0m0-2h0m-2 8h0m-2 3h0m-5-3h0m-7 0h0m0 2h0m-1 1h0m1 2h0m-2 2h0m5 0h0m5 2h0m0 2h0m6 0h0m3 3h0m0 8h0m1 2h0m0 1h0m-9-4h0m-2 0h0m-2-2h0m-1-1h0m-3-1h0m-2 1h0m0 1h0m0-6h0m2 0h0m-14 1h0m0 0h0m1-3h0m-2-8h0m-6-1h0m-2 3h0m-3 0h0m0-4h0m-1-1h0m-1-3h0m-3 7h0m0 7h0m-2 3h0m3 1h0m1 7h0m0 2h0m-1 1h0m-3 2h0m0-4h0m7-2h0m6-1h0m7 1h0m4 0h0m0 2h0m-5 1h0m1 14h0m2 3h0m-1 2h0m3 4h0m3 0h0m1-1h0m1-1h0m-1 6h0m3 1h0m5-1h0m3 3h0m3 3h0m2 4h0m2 2h0m-1 6h0m3 4h0m-2 5h0m-5 0h0m-3 0h0m2-4h0m-4-4h0m-1-1h0m-2-1h0m-2-5h0m-2 0h0m0 9h0m-4 0h0m0 0h0m-3 0h0m-1-2h0m-3-2h0m0 0h0m-2-8h0m2-3h0m4 2h0m-1-7h0m6 2h0m4-14h0m6 2h0m2 4h0m6-2h0m-1 5h0m6 0h0m-12-18h0m0-1h0m-3-2h0m-27 1h0m-1 3h0m-3 3h0m6 0h0m5 4h0m-2 5h0m-6 0h0m-4 0h0m0-2h0m-1-1h0m-5-1h0m1-1h0m-7-4h0m0-6h0m0-4h0m4 3h0m-8 1h0m-1 3h0m-2-7h0m4-7h0m4-1h0m0-2h0m4-1h0m0-4h0m11 1h0m5-3h0m-10 42h0m1 4h0m-4 2h0m0 3h0m2 2h0m-1 4h0m-2 0h0m1 3h0m5 0h0m3 6h0m-1 2h0m2 1h0m2-1h0m0-1h0m1 2h0m7 1h0m1-3h0m2 6h0m-1 3h0m-6 2h0m-4 1h0m-1 6h0m-2 1h0m0 2h0m0 3h0m-1 1h0m-4 1h0m4 5h0m13-2h0m-1-3h0m-3-3h0m1-3h0m8 3h0m6 1h0m8 0h0m-1 2h0m-2 2h0m-1 3h0m2-10h0m5-2h0m3 1h0m2 5h0m1 4h0m-2-19h0m1-1h0m-9 3h0m-5 2h0m1-10h0m-3 0h0m-1 0h0m-27-5h0m0 12h0m0 1h0m-8 55h0m0 3h0m1-1h0m-3 4h0m-1-1h0m-1-4h0m2 8h0m2 0h0m3-1h0m22 1h0m2 1h0m2-1h0m-2-4h0m-1-1h0m-49 1h0m-3 1h0m-3-1h0m-2-1h0m0 0h0m-2 1h0m-2-1h0m-3 0h0m-4 0h0m8 4h0m0 6h0m1 0h0m5 0h0m-1 3h0m4-2h0m-3-4h0m-4 10h0m-1-1h0m-3 0h0m-1-3h0m-2-2h0m0-1h0m0 24h0m5 4h0m0 1h0m0 2h0m2-1h0m1 1h0m-2 2h0m-1 2h0m0 3h0m6 0h0m-1-2h0m0-2h0m1-7h0m1 0h0m2 2h0m4 0h0m0-1h0m0-1h0m-2-2h0m0 7h0m4 1h0m2 3h0m-4 3h0m-3 5h0m-1-1h0m-3-1h0m1 11h0m4 4h0m3 1h0m3-5h0m-1-1h0m1-4h0m0-4h0m4 0h0m0 9h0m4-1h0m-2 7h0m0 5h0m-3-1h0m0 0h0m-2 15h0m-3 0h0m0-1h0m1 0h0m6 1h0m2 6h0m1 3h0m-1 1h0m-1 1h0m-1-2h0m-3 4h0m0 3h0m1 5h0m-4-1h0m-2-8h0m1-7h0m-3-1h0m5 2h0m7 12h0m0 0h0m-45-3h0m-2-2h0m0-2h0m-1 0h0m0 0h0m-1 1h0m-4-2h0m0-1h0m-2 4h0m8 14h0m0 1h0m3 1h0m-1-54h0m0-4h0m0-4h0m1 1h0m3 0h0m-6 0h0m-3 0h0m0 1h0m0 2h0m-1 2h0m-1 2h0m0 0h0m2 0h0m-1 3h0m-2-5h0m1-8h0m3 0h0m-1-4h0m3-1h0m4 1h0m0-2h0m4 1h0m10-4h0m7-11h0m43 28h0m-1 1h0m3 0h0m2 2h0m0 1h0m0 2h0m0 1h0m-2 0h0m-3-2h0m1-2h0m1 0h0m1-5h0m4 0h0m-1 2h0m1 1h0" stroke="#00f400" stroke-width="6.6"/>
<path d="M827.5 1127.5h0m2 3h0m1 0h0m0 0h0m2 3h0m0 2h0m3 0h0m3-1h0m0-1h0m0 0h0m0 4h0m6-1h0m-1-2h0m2 1h0m0-2h0m2 0h0m0 3h0m3-2h0m-1-4h0m0-2h0m5 1h0m0 1h0m1 1h0m-1-7h0m0-2h0m2-2h0m2 1h0m2 1h0m2 1h0m3-2h0m1-5h0m1-1h0m3-2h0m2-1h0m-4-1h0m-2-1h0m-2 1h0m-1 1h0m0-3h0m-1-1h0m-2 2h0m-2 3h0m-3-1h0m-1 1h0m-2 0h0m0 0h0m0 1h0m1 0h0m-1 2h0m-2 0h0m-3-1h0m1-1h0m2-2h0m1 0h0m0-4h0m2 1h0m2 1h0m1-1h0m-1-4h0m-1-1h0m3 1h0m1 1h0m1-3h0m1-2h0m1 1h0m1 0h0m3 0h0m1 2h0m3 0h0m1-1h0m0 2h0m-2 1h0m0 0h0m0 1h0m-1 0h0m-3-1h0m9 2h0m2-4h0m0-2h0m1-4h0m-2-5h0m-2 0h0m-1 1h0m0 2h0m-2-1h0m-3 1h0m0 0h0m0-5h0m1 0h0m0-2h0m-1 0h0m-1-1h0m-2 0h0m0 1h0m-2-1h0m0 0h0m-1 2h0m-3 0h0m-1 2h0m1 2h0m1 2h0m0 1h0m0 3h0m-3 0h0m0-1h0m-4 6h0m-3 0h0m0-1h0m-4-1h0m0 2h0m0 1h0m-2-2h0m-2 1h0m-1-2h0m-1 0h0m-2 0h0m0-1h0m1-1h0m1 0h0m-4 1h0m0 1h0m0 1h0m1 1h0m0 6h0m1 0h0m-1 2h0m-2-1h0m0-2h0m-1 0h0m1 5h0m-1 4h0m0 2h0m1 1h0m-4-1h0m0 0h0m0 2h0m0-9h0m6 3h0m1-1h0m2 0h0m1 0h0m0-3h0m-1 1h0m1-4h0m2 1h0m1 0h0m-1-2h0m6 2h0m0 6h0m1 2h0m-2 3h0m2 2h0m-2 6h0m-4 2h0m-3-3h0m1-1h0m-1-1h0m1-2h0m-1-2h0m-2-1h0m0-1h0m-1 6h0m7-11h0m12-1h0m6 3h0m0 1h0m-3 7h0m-12-27h0m-2 0h0m-1 0h0m-1-1h0m-1 0h0m2-2h0m0 0h0m0-3h0m1 0h0m1 0h0m1 2h0m2 1h0m1-2h0m4-2h0m1-4h0m-1-2h0m-1 0h0m12-1h0m3 0h0m-1 1h0m3 0h0m0 0h0m0 1h0m-1-4h0m-1 0h0m-1 0h0m-1 0h0m-3-1h0m7 10h0m5 0h0m0-4h0m-2 1h0m-32 6h0" stroke="#00f400" stroke-width="8"/>
<path d="M798 1081h0m8-1h0m1 3h0m-1 1h0m-1 0h0m0 5h0m-1 1h0m-1 7h0m7 4h0m1 2h0m0 5h0m2 2h0m4-2h0m0 7h0m-2 1h0m-3 2h0m4 6h0m0 3h0m3-1h0m4-3h0m3 0h0m0-1h0m2-2h0m1 5h0m-1 2h0m0 2h0m-3-1h0m1 4h0m-2 0h0m-1 5h0m-2 1h0m-1 2h0m0 2h0m0 0h0m1 1h0m0 4h0m3 1h0m4-2h0m0-2h0m-1-2h0m3 1h0m2-3h0m-2-3h0m-2 1h0m-4 1h0m-3-4h0m-3-1h0m-1-1h0m-1 4h0m1 5h0m18 0h0m4 0h0m-1-2h0m2 0h0m3-2h0m-1 7h0m-9 0h0m-3 3h0m0 1h0m4 1h0m0-15h0m2 0h0m-6-2h0m1-1h0m1-3h0m0-19h0m2 1h0m-7-4h0m1-3h0m-2-3h0m-1-3h0m2-2h0m6 0h0m0 1h0m-1-3h0m0-4h0m1-3h0m1 0h0m4-2h0m2 0h0m0-1h0m-1 3h0m-2-4h0m4-3h0m-11 4h0m-8-2h0m1-2h0m-6 0h0m-5 1h0m7 6h0m2 5h0m-1 1h0m2-1h0m3 0h0m-4 11h0m-5-3h0m20 0h0m1-4h0m-11 19h0m-5 5h0" stroke="#00f400" stroke-width="7.2"/>
<path d="M659 1104l15-30 38-8 4-8 3 3 1 11 1 7 11-5 3-16-6 0 0-6 2-4-9-1 1-2-3 0-1-1-10-3-3 1 3-8 10-8-2-5 9 4 5-6 17 5 7-2 1 6 11 0-1-5 2 12-2 12-7 2-12-3-2-11 0 25-4-2 13 20 18-2 28-2 2-5 3 7 2 2 2 0 9 0 0-1 0-8 2-1 4-3 3-3-3-2 2-7-2-7 6 0 4 2 3 1 3-3-1-2-1-5-2 1-2-3 2-4-4 1-6 1-1 5-4-3-9-2-1-4-3 7-4 0-2 4-3 0 1 3 0 7-8-1 0 2-1-5-2-7-3-3 1-5 6-3-1-2 5-1 1-4-4 0-1-3-2-6-1-8 0-3-2-2 0-6 3 1 1-1 2 0-4-2-3-4 1-4 1 0 2-1 1-1 2-2 2 3 4 2 1 4 0 3-3-2-1 0 0 0-3-2 1 12 2 2 1 2 0 2-2-1-2 2 7 0 4-2 1-4-1-3 0-4 0-4 1-3 5-2 2 1 4 0 3 2 1 2 2-2 6 0 1 3 1 1 1 0-2 2-1 0-1 1 0 1-3 2-1 6-1 2-3-2-3 1-1 3-1-1-3-1 1-3 2-4 2 0 1 1-1-5 0-1-1 0 1-1-3 0-4 1-3 1 1 3-6 3-3 0 10 6-1 7 9 0-1-2 4 6-2 6 6-1 1-9 3 1 4 2 1 4 1 1 4-8 1-6 1-1-1-3-1-2 4 1 1 3 2 6 2 6 12 2 0-1-4 9-6 2-2 4 3 16 1 8-5-1-11-2-1 6 3 3 6 4 1 4-3 2 8 0 6-3 2 0-2-4-1-3 10 7 4 4 1 5-2 1-3 1 0-2 0 3-1 1 0 4 1 0-3 0-1-3-2 2 0 2-3 0-1-1 0-3 1-1 0-2 1 0-3-1-2 4-1 2-2 2 1 2 2-1 0 2-1 2 1 3 2-1 0 0 3-2 1-1-1-1 5 1 2 0 2 2 1 0 0-1-1 2 0 2 3 0 0 2 3 0 3 1 2-1 1 0 1 2-5 2 1 4 1 1-2 3-3 1-1 1 0 0 0 1-1 2 0 0-1 0-1 0 0-5 1-1-3 0-1 2-3 0-1 2 0 1 2 0 0-1-1 3-3 0 0 0 0-1 0 3 1 0 1 1 1 2 1 0 0 1 0 1-2 1 0 2-1-1-1 1 1 3-4 3-3 0 0-1 0-1-2 0 0-2-3 0 0 0 0 2-4 1 1 3-1 1 1 2-1 0-2 0 0-2 0-1-1-1-2 1 0 1 1 0-5 0 0-1 0 0-1-1-2 1-2 0 0-1 3-1 0 0 1-1 1-1-1 0 0-1-1-1-1 0 0 1 0-1-3 1-1-5 5 0 1 1 0 1 1 0 0 0 2 1 1-3 0 0-2-2 0-1 3-1-1-1 3 1 1-2-1-1 2 0 2-2 2 1 2-2 0 4-2 1 2 4 1 2 2-4 1 0 1-1 2 2 2-2 8 0 0 1-10 5-3-10-1-1-1 1 3-2 0 0-1-2-2-1-6 0-1 2-1-3 0-2 0 1-1-1 1 0 3 0 0-1 0-2 1 0 1-1-2-1-2 1-3-1-2 1-1-2-1-1-1 1-1 0 0-2 0 0 1 0 2-2 1 1-1-1-2-1 0 0 1-1 2 0 2-2 2 0-1 0 0-5 6-1 0-3-2 1-1-3-6-1-4-1 0-4 0-9-5 15 0 5 5 2-10 2-4 0-5-3-6 4-2 1-4-1 2-3-1-1-5-7 1-1-3-22 10-4 2-6 3 2 2 7 4 2 1-7-13-8 1-5-4-20-23 4 0 2 1 0-29-17 4-7-4-16 5-8 0-7 4-2-3-5-3 0 1-6 10 1 0-3-4-1 2 6 3-10 10-4 1-5 4-2 4-8 0-5 2-4 3-4 6 5 3 0 5 1 2-2 2 1 0-3-6 0 2-5-7-2 1-13-1-1 3-10 1-2 1-7-5 0 0-1 0-3 2-2 0-2 4 3 5 2-1 1-3 4-11 3-1 1-13 0 0 8 3 3 3 0-1 1-5 8-9-1 0 0 1 3-4 3-2-7-1-1 2-3-1-7 3 0 1-3 5 2-1 4 0 1 3 18 3 3-9 6-4-4-2 12 10-3 21 5 2 3 3-2 3-3 4-2 1 3 4-1-2-6 0-2 11-2 2-1 1-1-2-2 2 5 5 1 0 9-2 0 3 2 6 1 0-2-3-4 5-5 3 1-2-10 0-3 6 1 2-1 0-2 0-4-1-13-1 0-9 1 2 3-4 3-2 1-3-4-2-4-2 1 5-4 5-1-2-4-1 0-2-9 3-1 3 0-1 3 3 1 5-3 0-2 2-2 3 7 0 7 10 3 8 0-4-8-1 0 11-6 0-3 10 0 5-1 4-3 6 5 12-4 12-9-25-4-10 1-18 2-9 2 0 0 0-9 1-1-7 5-3 3-7-1-2-3-3-3-4 1-2 1 0 4 0 3 1 0 1-1 5 0 0 6-1 1-5 3-6-4 0-1-6 0-7 0-5-1 0 4-1 0-1-1-1-1-3-2-4-1 1-8 0-6-6-1 1-2 0-1-4-5-3 0 1 2-3-3-5-1-3 2-5 2 0 4-3 2-3 0-1 0 1 2-2 1-1-1-1 1-1 0 1-1 1-2 0-1 0 0 1-2-2 0-1 0-3 1 1 1-1 1-1-1-3 0-1-1-2-1 0-5-3-1 0-3 0 0-3 0 0 2-1-1 0-3 2 0 1-2-2 0-1-2-1 0 0-2-1 0-2 1 0 0-1 4-2 0 0 2 3 0 0 2 1-3-9 0 1-2 0-5-3-3 0-1-3-3-1-3-6 2 1 3-3 0-1 5-5 1-1 3 4 0 0 7-2 1-3-1-3 4 0-8-6 5 1 7 3 3-1 7 3 2 2-3 7 0 5 1 4 2 2 1-2 3 0 3 0 3-2 2-1-1 0-1 0-1-5 0 0-1-3-5-3 1-5 3-2-1 2 4 1-1-6 9 2 7 3-1 3 5 2 1 1 3 5-2 2-1 1-2 2-2 0-5-1-1 5-2 3 1-1-7 7 0 2-7 5-1 4 0 2 2 2-2 3-3 0-4 5 1 0 0 1 1 0-3-1 0 2-2-6-4 4-4 2-1 0-3-2 0 1-1 1-2-7-3-3-2-1-3-2 0-2-1 2-3-4-3 5-4 2-2 2 2 2-3 1 7 3-1 3 5 1 1-1 1-8-2 19-2 1-1 2-4 2-1 1-3 0 0 1-2-8-1 2-4 9-3 1-4 2 1 0-5 3 1-6 0 2-3-6 2 16-1 0 2-1 0 0 4-2 0 3 3-1 5 0 3-4 3-3-5 16 0-1-1 9-1 3 2-4 7 8 0 4 3 1 5 0 2-2 6-2 4 1 1-5-1-1 5-3 0-2 9 7 0 5 2 1 1 0-1 5-5 0-10 3-3 3-4 2 2 2-2 4-1 0 2 0 9-8 0 3 6 13-10 14-3 5 8 3 5 4-3 6-4-5-8 2-4 2-4-7-5-4 3 1-6-11-2-4-1-1-6-2-3-4-2 3-3-7 0-3 4-10 2 1-5-1-1-4 0-4 2-1 1-10-3-1 0-3-4-1 1 1-5 6 1 3-4-1-3 8-1-1 4 1 2 9-3 1-7-2-10-7-2-3-5 1-2 6 0-13 0 1 1-3-3-2-2-4-2-6 7 0 1-3-2-1 3-1 6 0 2-3 2-3 3 4 1-2 6-3 1 0 2 3 3 6 1-1 4 5-8-2-5 7-2 2-8-5 0 12-1 1 4 5 0 16 14-5 9 14-3-9 22 1 2-1 6-5 0-1-9-35 3 1 4 1 4 0 2-2 1-4 3-6-5-6-3-6 5-5-11-4-5-19-6-8-1-1 0-6 2 2 6-11-5 1-3-1-3 0-1 1 0-1-2 0 0-3-1 0-3 0 0 2 0 0-2-1-2-2 1 0 3-2 3-1-1 0 0 1 3 3 1 6-2 0 0 0-4 1 0-2 1-2-6 6-2 4 0 0 2-2 3 7-3 0 6 6 0 1-6-4-6 0-4 6-1 1-1 1-4 3 1-8 0-4-1-7 0-6 0 0 3 0 2 0-1-2 2 4 3-1 1 5-1-12 1-2-3-1-8-6 3 0 8 0 5-1 4-3 0 2 8-3 1-1 1 0-3 2 10 1 1-2 3-1 4 5-1 2-1 2-2 2-1 0 0 0-4 9 16 2 9 1 3-1 4 7 0 1 2 1 1-1 2-1 4-3-1-1-2-4 0-4 1-6-3 1-4-1-4 18-3-6 26 12 11-1 2 3 6-2 3-6-2-4 2-3 0-12 0 2-2-2-2-3 0 1-2-4 18-4-2-2 4-2-8 0-1 20 4 7 3 0 2 1-1 3 1 0 4-1 0-1 2-3 3-3-4-5-1-1 1 1 2-1 3-1 7 0 4-2-2-10 0-3 3-1 3 4 0 3 3 11 0 7 0 10 1-1-3-1-4-1 1 8 0 1 2-4 9 2 5-5 5-3-1-7 2 1 2-7 2-4 0-1 1 3 3 1 0 1 1 1 11-13 3-3-12-5-2 9-6 1 1 5-15 10 5 8-6-7-15 21-8-4-5-3-4-2-1-1-2 15-25 5-6 5 3 3 3 3-5-4-4 12-2-2-2 4-3 8 0 1-1 5 3-8 2-2 5 1 9 3-1 4-1 2-3-8-20-5-1-6 4-4 2-2-8-1-3-17 13 5-59 2-14-6 2 55 45 2 0-6 10 20 34 1-1 2 0 1 7-4 7-4 8 2 3-6 6-6 2 21 4 0 4 5 3 0-10 20-9 19-1-6 14-9 8-3 3-2 2 2 3 2 7 1 1-5 4-2-1-4-6 0 20-4-2-2 1-4 5 0 4-2 7-1 0 0 1 0 2 1 3 4 3 3 0 1 0-2 3 2 6-6 0-2-2 0 0 0-2 2 7 1 1 1 5 1 1 5-5 3 6 5-3 3 6-1 1 4-11 3 1 0-7-6 0-1 1 0-2-1-8-3 2-2-12-3 0-3 2 11-2 1-4 5 0-4-17 6-3 8 3 10 4 4-5 11 2 9-6-3-29-13-1-2 8 8-1-1-1-3-22 18-1-17-54-4-24-16 113 4 8 3 23 2 4 13 4 6 10 1 8 0 0-1 4-4 7-1 1-2-3-2 2-1 0-1 1-2 3-1-21-11 8 0 1-5 4-3 32 4 11 4 7 5-1 1 10 1 0 3 1 7 2 1 4-2 2-1 0-1-1-1 0 5 3 0 1 1 0 0 0-1 0 4-1 5-2-1-2 1 6 1 1 1 0 2-1 2 0 3 1 0 0 1 0 1-1 3 2 2 0-1-1 3 2 0 2 4-2 5 4 1 3 4 2-1 1 0 3 3-2 0 1 3-5-14 4-3 2-3 4 0 1-2-6-3 3-2 0-1-2-2 1-3 1-2 0 0-3 1 0 1-1-3 0-1-1 0 4-1 1-2-2-4 1 0-2-2 0-1-3 0-2-4 2 4 7 1 2 5-1 7 0 2 1-3-11-4-1-4-3 9-4 1-5 3-1-3-10 10-15 15-5-36 1-4-3 8-10 15-11 1 1 36-6 10 0-22-25-107-4-1-3-2 5-7-3-5 0-1 2 0 4 0 0-4-2-3-2-5-1 0 1 1 1-2 3 4 0-2-9 4-1 3 0 3 1 5-1-3-4 2-5 4-6 8 1 4-5-7-3-5-2-3-5-2 10-4 1-6 0-4-3 1-2-3 0-1-3-1 5-1 3-4 1-5 1-2 2-5 0-4 1 1 3 9 1-1 2 5-4 0-2 3 4 5-2-3 7-3 7-1 1-4 0-7-1-1-3-10 8-2 5 16 1 4-37 18-5 19 22 6 33 0 9 1 3-2 0-1-2 0-3 5 3-8 3-4 75 6 25 0 2 1 0 2 0 0 2 2 1 2-1-1 2-3 0 0 4 0 1 1-1-3 4-4-10 5-5 0-1 2-1 3 3 1 1-2 1 4 2 0 0-1-5 0-8 3-1 3 1-1-3 2-3 1 0 0 0 0 2 2-4 4 10 3-3 4 0 1 1 3 1 1 1 1-1 1 0 0 1 1-1 1 1 1 4 2-1-9-2-2 3-1 0 0 3-6-1 5-11 2-3 5-5 4-4 2-1 1-1 0-1 1-1-1-1-2 2 0 0 4 4 2 0 0 0-1 2 0 0 3 0 0 0 1 1-3 2-7 4-11-12 16-20-5-7 1-4 11 60-40 17-2 2-2 0 0-1-1 2 4 10 3 0 1-3 2 0 0-2 1-1 0 0-20 4 1 2 0 5 2-1 2 0 0 1 0-2-10 0 0 1-3 1-2 0 0-3 0-1 1 1 2-1-5-4 3-4-1-2 2-2 1-2-22 3-3 1-1 1-2 0 0-1-4 3 0 1-2-1-1 0-2-1-4 3-8 0-3 6-3 1 1 2-3-2-2-2 0-3 0-8-4 0 1 1-3 2-1-3 0-1 1 0-2 1-1 5-1 1 2 1-5 2-1-5-1 0-1-4-7 0 4 6-1 8 1 3 1 1 0 0 0 2-3-1 7-2 5-1 1 4 1 4-3-1 1 2 0 3 5-3 5 0 0-1 1 4 2-9 0-1-6-1-1-3 8-14 0-15-8-2-13 9-23 15-19-7 0-1 1-18 5-16-16-53 13-40 0-3-1-2 2-1 1-2 6 10 12-22 5 1-1-6 6-3 1-3 10-3 3-3-6-15-1 0-2 0-4 4-37-29 25 256 0 4 0 4 4 0-1-1-1-5 7 1 0-2 2-1 2 0 0 0 0 3 5 2-4 3-1 4 0 1 2 1 1 2 1 0-1 1 1 2 0 1-1 5-4 0-1-1-1-2 2 0-1-2-5 1-1 0 2 2-1 3 1 2-4-1 1-2-2 1 8 0 10-1 17 1-2 5 3 1 0-1 6-3 3-2 2 1 2-2 1 2-1 2 5 0-1 3-1 0-1 1 0 2 0 6 0 1-1 0-2 0-1 2-1-1-1 2 0 3 0 2 0-1-3 2-3 4-1 1 3 4 3-4 5 1 1-2-2 0 4 0 2 2 0 6 0 3-1-1-4 0-1 1-1 1-4 0 7 2 0-6 0-2 0-2-3 1 3-9 0-2 2-1 0 1-3-3-6-3-2 0-2 3 5-14 0-8 8 0-1-8 5-2 1-7 1-1-7-1-2 0-1-5-1-2 1-1-1-2 0-2-1-1-1-1 0-1-1 3-2 0-2 0 0-3-1 1-1 5 0 2-2-1-2 0-1 2-1 1 3 1 0 5 2 4-1 5 0 3-5 0 1-1 10-1 0-2 0-1 3-3 1 1 1 0-6-4-1-5 1-4 2 1 1 1-3-12-9 0-1-1-1 3 3 1 0 1 1 1 0 1-3 3-1 1-2-1-1 0-1 0-1 3-3 1 0-7 1 0 2-1 4 0 0 3 0 9-4 0 3 3-13 3-6 0-1 0-1 0-2 2-4-1-4 0 1 2 0 2 1 37 0 1-1 1 1 2-1 1 1 0 1 3 2 1 0 1 1-1-2 3 3 6 3 2-3 2 5-4 1-2 4 5-6-14-1-2-1 0 1-3 0-1 5 1-12 1 66-13 1 0 7-14 1-3 1-1-1-1-2 1-1 0-1-3 0 1-1-4 2 0-1-1 3 0 1 0 1 1 0 3 2-1 0 0 1 1 2 1 1-1-1-3-1 0 0-3-1 0 2-1-4-1-3 0 0 1 0 6 5 3-21 3 6-32 1-34 3 0 3 0-1-3 0-4-4 5-5-2 31 26 10-1 33 1 0 3-26 29-1-1-85-25-2 0 22 138 2-1 163-213 85-5-27-204" style="marker:url(#m6o)"/>
<path d="M683.3 964.9L683.7 969.6M683.7 969.6L684.2 974.2M684.2 974.2L684.6 978.9M684.6 978.9L685.1 983.6M685.1 983.6L685.6 988.2" stroke="#0000ff" stroke-width="7"/>
<path d="M684 968.2L684.2 972.5M684.2 972.5L684.4 976.7M684.4 976.7L684.6 981M684.6 981L684.8 985.3M684.8 985.3L685 989.6M685 989.6L685.3 993.9M685.3 993.9L685.6 998.1M685.6 998.1L685.8 1002.4M685.8 1002.4L686.1 1006.7M686.1 1006.7L686.4 1011M686.4 1011L686.7 1015.2M771.8 917.8L772.7 921.8M772.7 921.8L773.7 925.9M773.7 925.9L774.6 929.9M774.6 929.9L775.5 933.9M775.5 933.9L776.5 938M776.5 938L777.4 942M777.4 942L778.4 946.1M778.4 946.1L779.3 950.1M779.3 950.1L780.3 954.2M780.3 954.2L781.2 958.2M781.2 958.2L782.2 962.3M782.2 962.3L783.2 966.3M783.2 966.3L784.1 970.4M784.1 970.4L785.1 974.4" stroke="#0000ff" stroke-width="8"/>
<path d="M840 1101.5L843.1 1098.8M868.8 1078.1L872.1 1075.6" stroke="#0000ff" stroke-width="17"/>
<path d="M843.1 1098.8L846.2 1096.1M865.5 1080.6L868.8 1078.1" stroke="#0000ff" stroke-width="18"/>
<path d="M846.2 1096.1L849.4 1093.4M849.4 1093.4L852.5 1090.7M855.6 1088L858.9 1085.5M858.9 1085.5L862.2 1083M862.2 1083L865.5 1080.6" stroke="#0000ff" stroke-width="19"/>
<path d="M852.5 1090.7L855.6 1088" stroke="#0000ff" stroke-width="20"/>
<path d="M872.1 1075.6L875.7 1073.7" stroke="#0000ff" stroke-width="16"/>
<path d="M875.7 1073.7L879.4 1071.8" stroke="#0000ff" stroke-width="14"/>
<path d="M879.4 1071.8L883.1 1070" stroke="#0000ff" stroke-width="12"/>
<path d="M883.1 1070L886.7 1068.1M886.7 1068.1L890.8 1067.6M890.8 1067.6L894.9 1067.3M938 1088.9L941.4 1091M941.4 1091L944.9 1093.2M944.9 1093.2L948.3 1095.3M948.3 1095.3L951.7 1097.5M951.7 1097.5L955.2 1099.6M955.2 1099.6L958.4 1102.1M958.4 1102.1L961.7 1104.5" stroke="#0000ff" stroke-width="11"/>
<path d="M894.9 1067.3L899 1067.1M899 1067.1L903.1 1066.8M903.1 1066.8L907 1067.9M907 1067.9L910.8 1069.5M910.8 1069.5L914.6 1071.2M914.6 1071.2L918.4 1072.8M918.4 1072.8L921.7 1075.2M921.7 1075.2L925 1077.7M925 1077.7L928.2 1080.2M928.2 1080.2L931.5 1082.8M931.5 1082.8L934.7 1085.3M934.7 1085.3L938 1087.8M961.7 1104.5L964.9 1106.9M964.9 1106.9L968.1 1109.4M968.1 1109.4L971.4 1111.8M971.4 1111.8L973.9 1115M973.9 1115L976.3 1118.2M976.3 1118.2L978.8 1121.4M978.8 1121.4L981.2 1124.7M981.2 1124.7L983.6 1127.9M983.6 1127.9L985.7 1131.4M985.7 1131.4L987.7 1134.9M987.7 1134.9L989.7 1138.5" stroke="#0000ff" stroke-width="10"/>
<path d="M989.7 1138.5L991.6 1142M991.6 1142L993.6 1145.6M993.6 1145.6L995.6 1149.1M995.6 1149.1L997.5 1152.7M997.5 1152.7L999.5 1156.2M999.5 1156.2L1001.5 1159.7M1001.5 1159.7L1003.5 1163.3M1003.5 1163.3L1005.4 1166.8" stroke="#0000ff" stroke-width="9"/>
<path d="M637.5 1087.5h0m2 0h0m2 0h0m1-3h0m-1-3h0m0-4h0m0-1h0m6 9h0m-4 4h0m-4 1h0m70-29h0m2-1h0m3-4h0m-3-9h0m0-3h0m-4 0h0m-2-1h0m-1-3h0m4 0h0m-3-5h0m2-4h0m0-3h0m3-2h0m-1-3h0m3 9h0m2 11h0m-49-79h0m-1-1h0m-1 0h0m0 1h0m-2 1h0m-3 0h0m-2 1h0m-2-2h0m1-2h0m2-1h0m1-2h0m0 0h0m1 0h0m-1-1h0m1 0h0m2 0h0m0-1h0m2 1h0m-1 1h0m2 0h0m0 1h0m0 1h0m-2 1h0m-3-1h0m-2-3h0m-1 1h0m-3-1h0m3-4h0m3 1h0m3-1h0m-2-19h0m0-1h0m0-2h0m-1-2h0m2-1h0m-1-4h0m-4 1h0m0 1h0m-2-1h0m0 3h0m2 2h0m0 1h0m-1 1h0m-1 2h0m2 0h0m-1-11h0m34-103h0m0 0h0m0-1h0m0-4h0m-2 0h0m-1 0h0m-2-1h0m3-5h0m4 1h0m-1 2h0m1 4h0m1-1h0m1 0h0m2 2h0m-2 2h0m0-10h0m0-31h0m-2-1h0m0 0h0m4 1h0m2 0h0m-3-2h0m-1-1h0m0 0h0m0-1h0m3-1h0m1-1h0m4 1h0m1-2h0m1 3h0m-1 1h0m2 0h0m1-6h0m2-2h0m1-2h0m2-1h0m-1-2h0m-6 1h0m-3 0h0m-1 2h0m1 2h0m0 0h0m1 2h0m-7-3h0m-1-3h0m2-1h0m2-4h0m2 1h0m0 0h0m-10 6h0m0 1h0m-3 1h0m-3-1h0m0-2h0m-1-1h0m2 1h0m0 0h0m0 6h0m-2 0h0m-3 0h0m1-3h0m4 5h0m0 0h0m1 2h0m1 1h0m1 0h0m0 1h0m-1 0h0m1 1h0m2-2h0m1-4h0m0-1h0m0 0h0m-1 0h0m-1 0h0m21 3h0m-59 6h0m1 2h0m-4 0h0m-1-1h0m0-1h0m-1 2h0m-3-1h0m1-1h0m-3 0h0m-1-2h0m6-1h0m1 0h0m0 0h0m-3-3h0m2 11h0m1 2h0m-4 0h0m-1-1h0m-1 0h0m9-1h0m113 11h0m0 2h0m0 8h0m-5 0h0m4 4h0m4-1h0m3 1h0m1 2h0m0 4h0m2 0h0m-2 4h0m-6-1h0m13 0h0m3-1h0m0 2h0m1-2h0m5-4h0m1-5h0m3 0h0m1-4h0m-3 0h0m-1-2h0m-2 1h0m0 1h0m-3 0h0m-2 5h0m-2 1h0m-2 2h0m-2-5h0m-1-6h0m-1-1h0m1-4h0m2-2h0m3 1h0m0 5h0m7-3h0m2-1h0m1-1h0m-12-6h0m-8 2h0" stroke="#0000ff" stroke-width="7.0"/>
<path d="M677.5 926h0m0-1h0m1-2h0m2 4h0m2-1h0m2 0h0m0 0h0m0-1h0m1 0h0m-4 3h0" stroke="#0000ff" stroke-width="6"/>
<path d="M684.5 771h0m2 0h0m5-1h0m2 3h0m2 1h0m1-3h0m5-1h0m1-3h0m2-1h0m2-1h0m-2-2h0m0 0h0m-1-2h0m1-1h0m-4 0h0m0 3h0m-3-2h0m-2-3h0m-5 3h0m3 4h0m0 1h0m-4 1h0m-1 7h0m-2 2h0m0 0h0m1 2h0m2-1h0m2 1h0m7-1h0m4-3h0m1-2h0m1 1h0m1 1h0m2-1h0m-3 3h0m-1 5h0m-9 29h0m-1 1h0m-2 0h0m5 1h0m0 1h0m1 3h0m-1 2h0m-1 2h0m-1-5h0m-5 3h0m0 1h0m-2 1h0m-1 1h0m2 1h0m-3-3h0m1-3h0m-1-4h0m2-4h0m48-40h0m0-1h0m0-2h0m1-1h0m1 0h0m0 2h0m-3-1h0m-1-3h0m3 0h0m0-2h0m3 1h0m0-2h0m-1-4h0m2-3h0m2 0h0m-5 1h0m5 11h0m2 0h0m7 0h0m2 1h0m-1 2h0m0 1h0m-1 0h0m-1 1h0m5 0h0m1-5h0m1-1h0m0-2h0m9-2h0m1-3h0m1-2h0m1 0h0m0-2h0m4 4h0m2 1h0m2-1h0m2 3h0m-1 3h0m-1 2h0m-2-1h0m0-3h0m1 7h0m-2 2h0m-3 0h0m1-1h0m-4-3h0" stroke="#0000ff" stroke-width="7.2"/>
<path d="M778 1021.5h0m1 1h0m2-3h0m0-2h0m1 1h0m2 1h0m0 2h0m2 0h0m1 3h0m-2 0h0m-1 1h0m0 2h0m1 2h0m1 4h0m-2 0h0m2 2h0m0 2h0m1 3h0m-2-1h0m-3 0h0m1 3h0m1 2h0m-1 3h0m4 0h0m0 1h0m0 0h0m1 0h0m-1 1h0m2-3h0m3 1h0m1-3h0m3-1h0m1-1h0m-2 0h0m1-2h0m0-5h0m0 0h0m1-1h0m-2-3h0m0-1h0m0 0h0m0-2h0m-3 1h0m-2 1h0m-1 1h0m-1 4h0m1 1h0m3-1h0m-1 4h0m8-1h0m1 5h0m-3 3h0m-1 4h0m-1 0h0m0 2h0m-1 4h0m-3 0h0m-2-3h0m1-33h0m4 3h0m1-5h0m2 2h0m1 0h0m0 5h0m-17-1h0m-3 2h0m4-12h0m1-1h0m0 0h0m3 0h0m43 6h0m3 2h0m1 0h0m-2 2h0m-2 4h0m-2 2h0m0 2h0m2 2h0m1 2h0m0 0h0m1 0h0m0 1h0m-4 2h0m1 1h0m-1 4h0m-3 0h0m2 6h0m2 0h0m2 1h0m2-1h0m0-1h0m2-1h0m1 5h0m-3 4h0m-1-2h0m-5-3h0m0-16h0m8-1h0m0-1h0m1 0h0m1 0h0m-1-2h0m1-1h0m0-2h0m-3 0h0m-2 1h0m-4-3h0m0-1h0m8 15h0m0 1h0" stroke="#0000ff" stroke-width="8"/>
<path d="M583.5 800l26-10 6 0 3 3 2 8-1 6 4 3 0 2 5 0 2 10 16 1 1 3 1 0 2 0 2-2 2-4 3-1 0-3 5 2 0 0-10-5-1 0-1 0 0-1-1-2-3 1 0 1 0 1-12-9-1-4-3-5 11-5-1-2 0-1-1-1 3 0 2 2 1-1 1 1-1 2 1-6 1-1 0-1-1 0 1-1-1 0 2-2 0-1 2 0 0-2 1 1-7-2-1 1-3 0 0-1 0-1-2 2-1 1 1 1 0 3 0 1-2-1 7 1 0 0 0-1 1 2 0-4 5 4 1 3 0 0 1 0 11 4 16 4 0 6 4 3 1 7 3 0 0 0 1 0 1 1 0 0 0-1 0-1-2 0 2-2 2 1 0 0 0 0 0 1-1 1 2 1 0 0-1 1 1 0 1 1 0 1 1 1 0 0-1 1-1 0 2 0 0 1 0 0 1 0 0 2-1 0 0 0 1 1 1-1 0-1 0-2 1 0 2-2-1-2-2-1-2 0-1 0 0 0 1 1-1-2 1-2-1-1 2-2 3 2 0-4 0-4 4 6 1 1 5 0 3 3-1 8-4 1-3 1-1 1-3 1-5 1 0 1 0 0-1 1-2-1 0-1 1-1-1-1-1 0-1 1 0-2-2-2 0 0-1 1 1-3 0-1 0-1-1 1 2 0 1 1 1-1 0 3-6 2-1 0 0 1 1 0 1 1 1 4 4-1 5-10-10-2-3 1 0-2 6-15 1-7 1 2 1-3-3-1 3-3 1-2 0-1-1 0-1 0 2-1-1-1 0-2-2 0 0 3-1 0 0 0-1-1-1-1 0 4-3 4 0 1 1 4 8 1 3-4 0-1 1-1 3 0-1-2 2-1 2 0 3 0-1-1 0-1 2 0 0-3 2 2 2-5 2 0 1-1 0-1-1 0 4-1-1-1-1-2 2-1 0 0-1-3-2 0-2-2-2 2-4 0 0 3 0 2 0-1 2 0 0 1 0 0 2 0 1 0 1-2-3 5-3 1 1 1-1 0 0 0-1 1-3-1 0-1 0-1 1-1 0 0-1-1 0 0-1-1 1-1 0-1-2 0-2 1 0-1-1 3-1-1-1 2 2 0 1 1 3-2-1 4-1 2-3 0 0 0 1 5-2 2 8-3-1-3 3-6-1-3-2-3 0-1 0-1 1-2-1-2 0-1 2 0 1 0-1 2 1 1 3-1-5-3-4 1-2 0 0 2 0 2 0 0 1 0 0 1 1-3-5 1-1 1 0 1-3 1 0 1-1 0 0 1 0 1-1 1-2 0 0-2-2 0 1 0-1 1 0 3 0 1-1 1 0-1-1 1 0-3-1 0 1-4 3-5 1-1 2 2 1-1 0 0 1 0 0-2 0 0 1 2-1 1 1 8 0 0 0 1 2 1 0-2 0-1-1 0-5 3-1 2 3 0-5 2 10-19 0-3 29 10 5 5-3 6-9 0 7 13 3 0 3 3 0 5-9 2 1-6-15 1-1-3-1 0 0-2 4 12 14 9 1 11-6-1-2 4 3 2-4 3-2 3-3 0-2 1 1 1 2 4 5-2 0 9-1 8-2 4-2 3-2 7-1-1-3 2-6 1 0 5 8 4 1 3-1 3 1 1-3 2-2-4-12 0 2 11 0 8 8-3 3-1 1-1 2 3 1 3-2 3 5 6 4 4 1 5 1 5 3 6-5 6-8 6-2-1-3-3-10 0 1-3-2 0-1 1-1-1-3 1-1-4 0 0-1-4 0-1 1-1-1-1 3 0-1 2 2 0 0-1 1 1-3 1 0-5 0-2 1 0-4 0 0 1-2 1-1 0-1-1 1 1-1 2-1 0 1 2-1 4-5 0-2 7 7 2 1 2-4 1-1 1 0 1-6 0 0 4-4-2 1-5-5-1-1-6 0 0 0-1 1 0 1 0 0-1 1 0 0-1 2-1 0-1 0 0 0 0 0 0 0-4 1 0 1 0 0 2 1 0-5 0-2 0-1-1-1 2-2 1-2 0 0 0 1 1-2 1 1 1 2 0 0 2 3-3 0-9 2-1 2 2 0 0 0 2-8-1 0-1-2 2-1 3-12-2-1 3 3-7-9 1-6 1-1 0-2 8-3 1-1 0 0-4-1 0-9 2-5-3-4-3 1 7 0 3 10 5 9 1 10-3 2-1 2-21-6-6-11 1-4 6-5-7-1 13-11 26-1 1-6 43 38 10 3-26 1 1 27-12-1 0 0-1 0-1 1 0 1 1 1-1 1-1 1-2 0 1 0-2 0 0 1 0 0-1 1 2 0 1 1 1 0 2-1-1 3 0 1-1 1-1-1-5 0-2-1-1-2 0 0 1-2-1 1-1-1-1-1 0-1 0 0 0-1 1-3 0 0 0 1-1 1-2 0-1-1 8 0 1 0 1 0 1-1 0 1 0 1 1 1-2 0-1 0-1 1 0-5 2 1 0-1 0 0 1 0 0 0 1-1 1-1-1 0 1 0-3 0-2 0 0 1-1 0 0 1 0-1-1-1-1-1 2 2 7 11-4 16-1 1 2-2 2 0 1 0 1 0 2 1-1 2-1 0 0 0 1 2 0 2 1 0 1 0 1-1 0 0 2-1 1 0 1-2 0-1 0 2 1 1 0 1 0 1 0 1-1 0 3 1 1 1 0-1 1-2 0 0 0-1 1 0 2-2 0-1 0-1-1 2 0-2-2-1 1-1-3 1-1 3 1 1 0 1 0 0 0 0 0 4 0 2-3-1-2 1-1-1-3-2-1-6 2 0 1 0 0-1 1 1 0 0 1 0 0-2-1-1-2 2-1 2-7 2 1-2-4 4 1 1 1-3-4 1-1-2 0 0-4-1-2 3 0 1 1 1 0 0 2 2 0 1 2-2 0 0-5 1-1 1-2 2 0-1 1-4 0-1 1 1-4-2-2-3-1 1 0-1 3-3-1 0 1-2-3-1 8 2 7-1 1-2 25 3 2 1 0 2 1 0 0 1 0 1-1 0 2 1 2 1-1 0 0 1 0 0 0-1 1 0 1 1 2 0 1 2 1-2 1-2 0 0 0-1-1-2 0-1 1 1 1-3 1 1-5 0 0 1 0 0-4-1 0 1-1 1 1 5-3 1-1 0-2 4 0 9 3 1 5 5-2 2 3 2 1-1 2-1 2 0 2 1 1 2 1 1 2 0 2-6 0-1 3 3 1-2 1 2 4 2-1 1 0 1 0 1 4 3 2 3 3-4 8 0 3 2 1 2 2-5 3-1 2 0 2 0 2 3-1 1 0-1 5 4 3 4-1 7-3 0-4 7 2 6-6 3-2-5-2 3-7 2-6-5-1-3-1 15-4 2-5 1 12-2 2-3 8 1 0 1 6 7 6 6 2 2-2 1-1 0-2 0-3 1-5 3 0 2 1 3 1 1 1 2 4 2-1-1 4-2 1-2-1-2 1 1 2-1-7 0-11 3 2 3 1 1 2 2-2 0-2 0-3 0-4 1-4 1 1 1 0 4 0 2 0 1 2 0 2 0 0 1-1 0 1 1-3-1 6-1-1-2 2-2-1-1-1-1-2 1 7 1-1 2 4 2 2-2 2 0 0-1 0-2-1 0 0-1-1-1 7 0 1 0 1 1 1-1 1 2 0 2 1 0 1 0 3 0 1-3 0 0 3 0 3 1 2 2-1 2-3 2 0 1-1-1-2 0-1-1-3 1-1 0 0 1-3 0 0 1-1 0-3 0-1 1 0-2 0 0 1 4-2-1 8-5-2-3-2 2 10-7 3-2 1 0 0-2-1 2-2-2-5-2 2-12 0 1-1-3 1-6 4 1 9 7-1-1 9-5 6-6-1-10-4-7-1 0 6-2 3 6 4 5 4-1 8-6-2 13 1-23 9-2 3-1 5 5-2 2 3-6 11-4-20-4-8-9 4 0-8 0-2 5-6 4-7 1-8 5 1 4-3 5-6 7 2 0-6 4-2 2-2 1-1 35 6 16 9 24 2 3-11 3-1-2-3 0-1-2 0-1-1 0 0 1-1 3 0 1-2 0-4-1-1-1 1-2-1-3-1-2 1-2-1 0-1-1 2 1-5 0 0 1 0 1-1 0-1 0-7 1 0 1 1 2 0 1 0 1 0 0 0 0-1 0-2 1 1 1-3 0-2 3 0-1 4-5-2 0-4 0 1-4 1 0 1 0 3-2 1-1 0 0 3 0-6 1-4 2-1 0-1-1-2 6-2-2-2 6 4 1 2-1 17 1 3 0 2 0 1 0 2-2-3 4-3-7-6-2 1-3 15-1 1 1 4 2 1 8-2 6 20-1 2 2 0 1 0 0 3 1 0-3 1-3-1 0 3-2 1 2 5-1 2-2 2-1-2 11 4 1 1 3-4 1-1 3-2-5-1-1-1 0-4 2-2 2 1 0 0 0 1 2 0 0 0 0 0 3 0 2 2 4-2-1-3-4-1-2-1-2-2 1-2 0-3 2-1 1-5 0 1-3 0-2 2-2 2-5 5 15 1 1-2 2-2 1 4-2-8 1-49-13-34 0-1-10 8-5 0 1 7-6-3-4-1 0-4 0-2 1 3-5 0 0-2-5 0 1-3 1 0 0-3 3 0-1-2 0 0-3-2 2-4 1-10 5 4-1 16-1-1-11 0 0 1-2 0-2 0-1-1-1-1 1 6 2 0 0 2-1 0-1 0-2 1 1 2 2 0 0-1 1 5 0 3 1 0 0 2-1 2-3-2-3-2 2-5-4-1-3-1 2-3-3-1 0-3-5 4-5 14 0 0-1 1-2 0 1 3 0 1-2 2-1-4-4 5 0 4-1 0 0 1 2 0 2 1 1 0-3 2 0 4-5-3 0-3 0 0 1-3-5-9 0-11 8-20-2-3-1-4 0-2 1-1 1-5 0-1-3 1 0-2 1-5 1 1 3-1 1 1 4 1 0 1 0 3 1 1-3-1 0-1-1-8 1-2-4-1-1 0 0-1 1 0 0 0 2-2-4 0-1-2-1-3 1-5 0 0-2 1-1-2 1-2-1-1-1 0-1-2 0-2-2 1-1 5 1 2 0 2 1 0-1-1 2 2 1 6-1 2 0 2 2 5 0 0 3-3 1 0 2-8 0 0-1-8-1-1 0-2 2-2-2-2-2 3 1 2-1-11-4 1 0 2-2-3-2-1-1-2 3-2 1-9-5 0 0 1-1 2-6-8-4-2 0 0-1 4-2-9 6 0-2-8 1-7 0-2 8-3-3-6-1 1-11 1-2-1-5-4-6-3-8 2-2-2 3 8-15 0 1 5-4 0-2-1-1-1 17 11 0 4 3 0-4 3-2 10 5 1 5 1 6-2 1 10 0 4-9 1-2-3-3 7-1 1-2-1 2 5 2 9-2 2 6 2 3-4 3 1 2-5-1 10-7 7 0 0-6 9-11-2-1 24-4 1 1 2-6-3 14 0 0 5 2 5 3 1 1 0-9-1-8 8-1 1-12-2-2 1-2 2 0 3 1 2-2 3-3-1 0-1 0 4 3 2-1 1-3 1 0 2-1 0 1 2 4-1 1 0 1 1 0 3 0 7-5-1-6-1-1 0-2 0-1-3 0-4 0-2 2 1 0-3-3 0 7-3 2-9 0-1 0-1-1 0-1 0-1 1 6-3 2-2 13 13 0 3 1 2-1 5 2 2-3 2-1 3-1 0 5 1 0-2 3 1 0 0 3 2 0 5-6-1-3 1-1 1 1 3 0 0 0 2 5 2 2-1 0-1 3 3-5 2-1 6-1 2 0 7 1 4 2 2-1 5 0 2-1 0 3 2 2 0 1 1 0-6 1 0 0 0 0-2 1-1 2 4-13 0 0 1-2 2 1 1-4 0 0 0-1-2 1-2-1-1 2 1-1-3-4 6 2 8 0 1-5 7 5 6-11 0 1 2 3 9 15 6-1 1-2 1 0 3 3-1 0 0 1-1 0-1 0 0 0-1 1 2 1 0 1-36 2-22 0-7-1-33-14 8-5 10-2 0-3 1-2-5 1-1-4-3-3 1-3 2-7-2 3-6 12-2-27-19-8 56-3 0-2-3-3 1 0 1-5 1 0 2-1 2 0 4 1 1 1 0 0-1 2-3 3-1 3 2 0 1 2 3 1 1 1 4 2 0-1 5 4 0 1 0 0-3 0 0 4 0 0 5-5 3-5 5 1 5-2-1-6-1-2-1-2-1-3 0-2 0 0-7-1 0-2-1 0-1 1-3 0-2-3 0 7 0-1-2 7-1 0-4 3 1 3 6-1 3-1 2-2 3-6-1-1 0 0 2-7-15 22-3 2-2-2-4 5 8 28 6 2-1 0 6-39 28 149-3 6-72 1-4-3-13-2 0 0 1 0-3-3 0-1-1 25-7 6-2 1-1 3 1 1-1-1 3 1-6 0-1-1 0-3-1-6-4-1-5 0 0-6-13-5 0-1-7 8 0 2-4 3-3 2-6 5-2 1-11 1-2 1 4-6-15-7-7 4-9 0-5 5 0-18-3-6 0-4 0 0-1-5 4-2 5-5 5-5-11 9-6 3-12 4 4 2 0 6-5-5-6-3 1-6-7 0-8-12 5-4 10 6 4 5 0-19-1-19 2-3-3-5 1 2 3-23 17 3 13-19-6-12 21-17-32-2 0-4 0-5-1-7 0 0-1-2 1 1-4 2 0 1 0 0-3 6-1-7-7-4-2-1 1-1 6-1 4-1-1 4 3 1-17 4-2 2-3 12 2-1 2 2 1 1 0-1 2-1 2 5 0-1 3 6 5-15 14-32-22-2-12 11-8-7-15-6-5 19-1 5-9 0 0 3-5 6 5 24 19-5 7 23-13-1-18 3-2 0-1 22 5 0 1 4-9 6-1 0 4 9-2-1 6-3 2 7 2 5-7 9-1 1 2 3 1 2 1 0-2 0-7 1-1-2-1-2-1 1-1-2-3 0-1-5-1-3 0 1 0-2 0-1-1-2 1 1-2 0 0 3 0-1-4 2 0 1 1 0 0 2-2 3 0 1-1 0-1 0-2 0-3 0 0 2-2 0-1 1 0 2-1 1 1 2 0 1 0-2 2 4 1 0 4-1 0 0 2 0 1 2-1 3-1-1-2 2 1 1-3 4-2 3-1 0 2 0 1 0 2-1 0 1 2 6 0 1-1 0-1 1 3-1 0 3-1 0 7-4 0-6 0-3 0-2 0 0-1-1 1-2 0 0 2 1 0 0 0 1 1 0 1 0 0 3 0 1 3-3 0 1 5-1 3 0 1 0 0-2 2-3-1-2 3 0 1 1-7 1-1-1-2-2-1-2-2 2-2 1 0 0-1-1 0 1-5-3 0-1-1-3-1-1-2-1-3 5-3 3-7 2 1 3-2 0-4 6 1 2 3 2 1 3 3-1 2 0 2-1 6-7 0-5 0-10 5-8-2-2 8 1 3-3 0-4-3-1-11 1-3 3-1-1-1 0 0 1-2 2 0 1 1-2 2 0-6 3 0 0-1 6-5 0-2 2-1 2 0 1 1 0-16 0-1-1 2 2-7-1-3 0-1 3 0 2-2-2-2-2 1-3-1-3-1-1 1-1 0 0 1 1 2-1 1 0 2 5-1-3-3 0 0-7 4-2 1 1 2-3 0-2 1-3-1-1-2 0-4 2-1 4 1 0 9 0 1 3 0 0 1 1 0-2 2-5 1-6 3-3 8-1 6 0 2-5 2-3-4 3-4-4-6 3-12 1 0-1-3-4-1-1 0 1-3 0-2 3-2 2 1 0 2-1 0 3-3 1 1 0-1 1-2-1-2 2-2-2-2 0 0-1 0 1-1 0-2-6 3-1 1 0 2-6 9 13 1 1 4 1 2-2 0 0 0 19-2 16 1 1-1 0 0 6 2 6-5 1 9-9-14-5-7-2-2 0-1-1-1-2 2-19 41-1 0 0 1-3 7 0 7-13 2-2 1-1 32-1 10-4-2 26 1 6 2 4-2 1-2-1-5-8 0 1-4-3 20 1 3 16 1 9-5-1-8 6 2 1-5-1-8 8 3 5-1 3-2 1 12-5-1 9 7 6 2 3 2 2 1-5 3-5 2 0 1-4 4-1 3 0-12 8 20 6 4 3-8 2 3 5-12-9-29-4-3-17-18 0 0-2 0 1-3-1-1 3 0-5-4 0 10-27-1 1-1 36-24 67 48 14 55-26 12-6-1 3 13-11 0-47 2-9 10 5 6-2 3 3 6 12 0-3 4-2 6 0 10-12 0 1 1-2 2 0 0-1 2 1 0 3 0 1-1-8-2 4-6 17-23 27 58-84-12-4 5-11 2 2-8-12 13 5 28 219-92-325-153 0-8-2 0 0 0-2-3 2-3-5 0 2-3-4 1-3 2-1 0 0 3 2-2 0 4-4 2 3 4 2 0 1 3 0 2 2-6 2 0" style="marker:url(#m6p)"/>
<path d="M657.9 860.4L662.3 863.2M662.3 863.2L666.7 866.1M666.7 866.1L671.1 868.9M687.1 1010L691.8 1011.4M691.8 1011.4L696.5 1012.7M686.8 1010.9L692.7 1011.6M692.7 1011.6L698.6 1012.2" stroke="#ffff00" stroke-width="5"/>
<path d="M748 925h0m0-3h0m4 4h0m0 3h0m2 0h0m1 2h0m2-3h0m3 4h0m-4 4h0m-1-15h0m1 80h0m1 1h0m1 2h0m-3-1h0m-4 0h0m0 2h0m0 3h0m1-7h0m16 97h0m-2 3h0m1 2h0m4-1h0m1-1h0m2-2h0m2 4h0m-3 2h0m4 5h0m-2 3h0m7 1h0m-2 7h0m1 3h0m5-2h0m0-4h0m2 0h0m2 3h0m2-2h0m-5 7h0m2-17h0m0-5h0m-3-5h0m-4 1h0m1 2h0m-1-7h0m0-2h0m-5 2h0m-4-1h0m-2 3h0m24 12h0m3 59h0m1-1h0m3 0h0m-1-1h0m2 6h0m-34 30h0m0 2h0m-2 1h0m1 1h0m-3-1h0m0 0h0m-2 1h0m1 3h0m5 0h0m-2 2h0" stroke="#ffff00" stroke-width="6"/>
<path d="M709.5 998.5h0m2-6h0m3 2h0m1-1h0m1-2h0m2-1h0m-3-1h0m7 2h0m3-1h0m0-1h0m1 0h0m0 0h0m2 0h0m-6-2h0m10-2h0m5 0h0m1-4h0m-2-2h0m2-3h0m3 2h0m0 10h0m7-2h0m1-4h0m0 11h0m-2 0h0m0-2h0m8 5h0m3-2h0m5 0h0m4-1h0m0-7h0m-5-1h0m0 3h0m-1 1h0m1 10h0m3 1h0m2 5h0m-6-2h0m-5 2h0m-4 0h0m-1 0h0m3 6h0m-11-3h0m-3 1h0m-4 1h0m0-4h0m-3 1h0m-4 5h0m-6-4h0m0-8h0m7 0h0m6 2h0m2-1h0m0 3h0m5 11h0m-29-8h0m1-3h0m11-30h0m21-1h0m1-7h0m5 1h0m4-3h0m6 0h0m8 2h0m4 7h0m2 1h0m4 6h0m-8 1h0m0 0h0m0 5h0m0 2h0m0 1h0m3 6h0m-24-36h0" stroke="#ffff00" stroke-width="5.2"/>
<path d="M366 1044l5 0 1 7 1 0 2 0 0 0 3 0-5 2-4 0-3-4 19 3 2-2 3 0 5 0-2-3 4-2 2 3 2 0 2 0 0 0 1 1 0 2 2-1 2-3 2 0 7 0 7-2-1-10 0-3 2 1 0 0 2 3 8 0 5-1 0 1 1 1 2 0-3 2-1-6 2 0 3-3 0-1 0-1 4 3-11-1-11-4-5 5-2 2-3 0-1-3 1-1-6 2 1 3 1-1 0 2 3 1 0 2-7-2 0-8-7 2-13 1 2 1-3 1 0 0 0 2-1 0-1 0 0-1-1 2 4 1 3-2-9-4 0-3-3 5 55 15 3-1 1 0 0-3 4 0-2 5-1 1-2 3 11-6 18 1 2-9 0-1-1-5 0-1 1 0-2 0-2 1-1 3-4 1-1 1 3 2 11 0 4-2 0-5 4 3 3-3 1-1 0 0 1 0-2-1 3-1 0 5-1 2 1 3 1 0 1-3 2 0-1-2 2-3 1 0 1-2 3 2 0 3 1 0-1 1 1 1 0 1 2-1 2-2 0 3 2 0 4 2 0 1 0 1-5 2 1 1 2 1-6-6 0-7-2 1-4 3 0 2 11-7 18 8 1 0 2 1-4 0 8-1 2-1 6 0 1 2-1 1-1 0 1 2 6 0 1-1 0 0 1 1 3 0 1 0 0 3 2 1 3 0-1 2 5 0 0-2-1 0 3 1 0 3-1 1 4 2 3 0 1 0 3-1 2-1-1 4 2 1 0 2-1 0 1 3 3 1 1-2 1-4-1-1-8 5-7-5 0-10-2-2 5 4-11-7-3 0-5-1 1-3-7 1 8 11-20 5-8 7 1 8-12-6 2-8-1 22 18 6 2 0-2 1 1 4-1 2 6 0-1-2 6 0 1 0 1 3-4 2-1-9-2-2 1-1 2 0 0-2 3 1 1 2 2 0 1 1 1 1-9-9 5-4-17 16 39 5 11-20-96-25-17-180 0-1 0 0-2 0-3 2-4-2-1 0-1 1-1-1 0 0-2 0 0 0-4 2-3 0 0-1-3 0-2 0-1 0 1-1-6 1-3-1-2-1-2 1 0 0-1 0-1 0-8 0-1 1-1 0 0-2-1 1-3 0 111-43 0-1-1-1 5 0 0 2-1 1 3-1 5 3 0 0 2-1-1 3 17 4 3 0 2-1 3 0 1-2 1-1 2 2 1 0 0-1 2 2 1 0 0 0 0-1 0 2-2 1 2 2 2 1 1 0 0-2 1 0-1-2 0 0-1 2-1 0 7 2 0 0 1 0-1 2 0 1 1 1 0 1 1 0 3 0 0-2 2-1 0 4 1 0 0-1 0 1 2-1 3 1 2 4 2 0 1 0 2 4-1 2 0 3 1-1 2 1 1-2 4 0-1 4 0 0 0 2 2 0 0-1 1 0 1 0 0 1 2 0 0 1 0 1 2 2 1-1 1-1 1 0-1-1 0 5 2-1 2-2 2 2 8-2 2 0 0 0 0 1 3 0 1 1 5 5-1 2 5 0 0 0 0-4 1-2 1-2 1 5 3 1 3 0 0 3 2 0 2-2 3 3 0 1-1 2-7-2 18 2 0 1 2 0 0 1 0 2 4-1 0 3 2-1 0-1 0 0 0 3 3 0 0-2 1-1 1 3 0 1-1 2 5-2 1-2 2 0 0 3-5-4-3-13 0-2 0 0-3 0-1 0 0 1-1 0 3 0 0 1 0 1-1 0-2 2 1-8-1-2-3 3-1 1 0 1 1 0-2 0-1-2 0 0-2-1-1 0 1-2-1 0-1 1 0-2-1-1 1-1 1 0 0 1 0 1 2 1 1 0-2-4-2 0 0 0-1-1 0 0-1 1-35 2-19-2-9 0 4 6-15-12 0-4-2-1-6-3-5-1 0-2-2-1-3 39-1 2-2 1-1 0-1 0-2 1 0-3 4-2 1 8 3-1 3 1 0 0 2-1 1-2 1 1 0 4-1 0 2-1 1 0 1 0 1 1 0 1-1 0-1 1 0 0 0 1 4 0 1 1 1 1 0 1-2 0 3 2 1 0 0-1 0 0 0 1 3-1 1 1 1 0 0 1 2 1 0 1 1 0 0-1 0 2 1 0 1 0 1 0-1-1 1 3 1 1 0 1 1-1 1 0 1 1 1 0 0 1 1 0 0-2 1-2 0-1 3 3 1 1 0 2 0 2-1-1-1 0 5-3 3 11 1 0 0 2 2-1 4 3 1 2 4 0 0 1 1-2 15-4 15 1-1 2 5 0 0 1 2 0 1-1 2 1 0 0 0-2-4 0-4-2 1-5-3 1 10 11 1 0 1 1 1 0 0 0 1 0 1 1 0 0 0-1 1 1 0 1 0 0 0 1 0 0-1 0-3 1-1 1 2 1 3 0 2-5 0-1 1 1 3 2-9-5-3 2-1 23-12-5 62-20 0-7 0-6-9 2 20 2-1 1 0 3 7 3 6-3 2-3 10 4 1 2-1 0 0 1 1 0 0 1-1 2-1 1 0-1 1 3 3 0-1 3-1 2 4 4-1 2 1 1 4 1 0-2 2 1 1 0-1 1-2-4-2-2 3-5 1-1-1-1-1-3-1 0-3-1 0-2 0-5 0-1 1-3 3 1 1 2 4 0 0 1-1 1-1 1-3 1 6 1 2-2-3 6-1 8 3 2-1 27 4 0 2-2 2-1 2-1 5-1 1 3-3 4 0 0 0 1-2 1-3 1 0-1 1-2 2 7 0 1-1 3-1 1 0 3-1 2 1 2 3-1 2 1 0 0 1 0 0-2 2-1 2 0 1-1 1-1 0-2 0 0-2 0 3-1 1 3 1-1 0 2 2-1 0 3-1 0-3 1 0-1-1 0-1 1 0 0-3 0-1 3-1 1-1 0-2 0 0 0-1-1-4 3 0 0 0 4-1 1-1-1 1-1-1 0 1 4 3 0-1 3 2 0 2 1 0-1 1 3-2 0 0 6 2 1 2 1 0 0 3 1 4-1 0-2 2 0 4 0 0-2 0-3-2-1 1-1 0-7-1-2-3 0 0 3-2-1 0-4 2-2-1-2-3 0 0 1 0 0-2 0 0 1 0 0 2 0 8 1-2-4-1-10 0-3 1-4-1-1-1-4-3 7 0 1-1 1 0 0-2 0-1-1-1 0-1 1 1-2 2 0 0 0-5 1 1 6 1-1 2 0 0 0 0 0-1 1 0-2-11 0 1 4-1 2-4 0 0 5 2 0-2 2 1 3-1 1 0 1 1 0 0 1 0 3 1 0-2 1-1 2 2 1-1 2 0 0-1 1-1 1 0 0 0-2-2 1-1 1 0 0 1 0-1 0-1-1 1-2 1-1-2-1-1-2 1-1-1-2 0-1 0-2-5 0-1 4 2 0 1 0 0 3 0 2 2 1 0 2-1 0-1 0-2 1-1 0 0 0-1 0 1 1 0 1 0 0 0 1 1-2 0-1 3 2 0 1 1 1 0 2 2 0 1-1 0 2-1 4 3 3 1 2 3-3 1-11-3 0 0 0-3 1-1 0 2 1-7 3 1 1-2-2-6 7-1-1-1 0-5-5 1-4-3-1 0 2-2 1-1-3-2-1-3-2-5 0 0-2 0 0 1 4-4-1-1-5-1 1 0 9-3 0-3-1-3 3-2-2-7-1 0 5 0 2 0 2-1-1-2-2-1 0-2 0-1 0-3 0 0 0-1-2-1 0 2-1 1 0-1-1-1-2 0-1-2 1 5-1 1 2-2-4 1 11 1 0-5 0-1 0-2-2 12-2 8-10 5-4-2-3 1-6 2 1 5 1 3-5 4 2 2 0 6 0-1 3 2 1 1-1 3-2 0-2 2 0 1 1 6-1-2 5 0 1 1 2 2-1 0 9-5 1-3-1-3-1-6-5-2-1-1-1 0-13 2-1 2 4 4 1 1-5 4-1 0-1 9 6 3-2 0 5 5-2 3-2 1 4 1 0 0 2-8 6 12 4 0 3 11 2-3 7-2 10 5 1 5 4 4 1 2-10 1 1-5-5-4-17-5-5 1-1-14-16 1-4 1-1-7 0-3 0 0-1-5-1 1-3-4 3-14-4 0 0-4 3-5 1-3-4-3 6 0 3-6-1-1 4-2 5 8 1 7-4-2 36 6 2 2 1 3-6 5 9-2 4 7 4-7 7-5-2-4 0-2-1-5-8-9-5 10 25 11 0 1-3 9 1 2 1-1 3-4 1 10-8 7 3 7 4 2 1 0 3 0 2 3-2 0-7 2 1 3-1-4-4-2-1-3 0 1 1 1-4-3-4-9 0 17-3 4 1 0 21 0 1 2 2 1 1 1-3 1 0 1-1 1-1 0-5 8 1 0 4 4 7-2 4 2 4 1 0-1 2 0 0-1-1-1 2 2 3 0 3 0 1 1 0-2 4-7 0-1-1 2 0-10 1 0 4-2 0-3 0-1 1 1 2-3-1 1 3-3 1-1-2 0-2-3 4 1 2 0 2 0 1-2 0-2 0 0 1 2 2 2 1 0 1 0 0 2-1 1 1 0 0 0 1 1 0 0 2 3-2 2 1-1-3-1-1 2-3 1-2 3-2 0-4-1 1 6 3 1 0-1 1 1 4 1 0 2 3 1 0 2 3 0 1 2 1 1 0 1-1 2 1 0 1-3 3-1-1-2 1-1-1-3-3 1-2-1 0-4-2-2 2-1 0-2 1-1 0 1 2 3 1 0 1 3-2-1 8 2 2-3 2-2-4-1 0-3-2-1-2 17 3 2 1 6 0 1-2 3 2-3 3-1 4-3 0 1 2-2-1 0 2-2 1 0 2 2 0 3-1 0 1-1 3 0 1 0 0-1 2 1 1 0 1-5 0 0-4-5-2 1-8-1-2-1 1 18 0 2-2-1 5 2 1 0 0 2-1 0 0 1 5-6 1 0-3-2-3 0 0 2 10 1 0 2 0-2 2-2-1 1 3 2 1 2 2 0 1 2-1 1 0 0-2 3-3-1-1 4 0-1-2-1 5 4 1 0 1-1 2-1 1-3-1 0 3-2 1-3 1-2-3-1 0 0 1-4 2 1 1 1 2 0 2 2 2 0 0 5-3 8 5-18-8-1-7 1 32 2 1 2 1 0 2 3-1-1-1-2-2 2-2-1-2 0 11-54-2-6-2 2-7 12 0 2-24-23 17-6-1 3 6-17 6-1 0-3-38 42-55 1 0 8 0 0-4 0-2-2-3 0-10-1 0-1 0-3-2-1-2 2-3 11 5 13 4 2-2 1 0 0 7-2-1-2 4 0 2 0 2-1 1-7 1 0 1-4 2 0 2-16-17 50-8-1-21 8-11-7-17-12-35-9-13-56-49 2-2 2-3-1-7-6-3-7 0-7 3 1 2-22 94 1 2-101-91 1-7-6-1 0-4 1-1-17 1 0 6-1 2 0 0 0 1 1 0-3 0-1 1-1-3-1 0 0 1-1 0-1 0-1-1-1 0 2-1 6 0 6 4 1-1 3 0-5-16-17 14 0 1-2 0 0-1-1 0-1 0 1-1 0 3-3-1-1-2 8 4-38-80 309 239 10 12 19-9-17 35-9 1-56 103-3 0 1 1 3 1-1 2 1 3 1 1 0 0 1-1-3 4-3 2-1-1-1-2-1-4-2 0 0-1 0 2-3 0 0-3 2-2 0-2 4 3-3 20-6 0-1 3-1 1-1 0-1 2-1-1-2 1-1-2-1-4 1-3 3 5 6 4-2 3-8 1 17-4" style="marker:url(#m6q)"/>
<path d="M538.5 946l14 33 25-52 15-6 6-3-9-6-6-32 38 10-1 5 12-5 3-18 0-4 3 3 3-3 6-1-1 6 0-12 6 0 0-11-1-2 0 0 1-3 3 0 0 1 0 1 3 0 1 1 0 2-1 0 0 1-3 0 0 1 1 1 2 3 7-5 2-3 3-3 0 5 3-8-4-2-6 0-2 3-1 1-4 0 0 0-2 0 0 0 1-2 4-3-2-5 0-7-8-1-9 4 0 4 1 2-6 1-1 1 1-4-5 1-2 0 0-3 2 0 1 0 2-2-2-4-4 0-3 0-2-1 0-1 0 0 1-1 1-1 6-2-8 8 0 5-1 2 5-2-1-1-4 12 3 9 4-1 0-1 1 3 3 2 0 3 2-1 7 0 1 2-6 3-9 1 0 3 2 0-9-10-2 0 1-1 13-6 7 2 5 0 2-3 15-3 7-13-1 30 4 0 1 0 0-1 1 4 1 0 0 0 1 0 0-2 1 0-1 0 1 11 12 0 4 0 18 3 2 1 2-3 2-3-3 0 7 1-2 3 1 2 1 2 1 0 3-4-1-11-2 0-2 0-2-1 4-2 1 0 1 25-4-1-5 1 1 1-3-3-6-2 12 14 8-1 4 14 4 3 4 11 3 6 3-3 0 15-4 7-3 7-6 3-2 5 9 1-1 5-3-1 1 3 3 4 1 1 2-1-1-1 0 0 2-2 2 5 2 0 1-3 0 1 0-2 4 10 5-3 5-7 1 15 3 6-4 3-13-8-1 0-15 2 4-9-5-6-11-1-4 5-2-13-10-10 0-14 5-12 0-13-15 11-24 6-10 5-45 3-13 4 28-27 11-10-3-5 26-39 40-27 2 0 1 0 0-3-2 1 0-3-3 0 0-3 0-2-1-3 3-1 1 2 1 0 1 3-1 2 3 1 1 0-1 1 9 104 6 2 7-3 0-7 2 0-7 18 20 10-12 45-2 5-6 48 21 0 39 7-5 9 35 33-1 3 0 3 0 0 4-1 3 1 1 0 0-2-1-2-1 0-1-2 0 0 0-2 4 1 0 2 2 1 1 0 1 0 2 3-3 0-1 4-3 2-2-1 6-12-28 32-2-1 1 3-1 1 1 3 2-4 0 8-1 1 5 0 1-2-1 7-1-1-2 2 7-1-6 10-10-26-3 2-76-15-1-1 0 0-1-1-1-1 2-1 0-2 0-3 2-4-8 0-2-2-1-1 0-4-4-1-1 2 2 1-3 2 1 2 1 6-1 1 1-18 1-6-2 0-3 2-1 0 0 0-4 3-2-8-1-4-1 0 5-1-8 6 0 1 19 3-28-63-5-1-16 0-10 0 3-18 16-3 1-11-11 1 1-9-8-15 0-1-21 40 35 10 153-17-207-210 0 0-1 0 0-2-1-1 0-1 0 1-3 0 1 1-2-3 1-1-4-1-1 0-1 0-26-15-1 0-1-1-1 1-1 0-1 0-1 0-1-1 0 0-1 0-1 0-1 0-5-1 0 0-1 0-1 0-1 0-1 0-1 0-1 0 0 0-1 0" style="marker:url(#m6r)"/>
<path d="M700 1324.3L704 1324.2M704 1324.2L708 1324M708 1324L712 1323.9M712 1323.9L716 1323.8M716 1323.8L720 1323.6M720 1323.6L724 1323.5M724 1323.5L728 1323.4M728 1323.4L732 1323.2M732 1323.2L736.1 1323.1M736.1 1323.1L740.1 1323M740.1 1323L744.1 1322.8M744.1 1322.8L748.1 1322.7M748.1 1322.7L752.1 1322.6M752.1 1322.6L756.1 1322.4M756.1 1322.4L760.1 1322.3M760.1 1322.3L764.1 1322M764.1 1322L768.1 1321.7M768.1 1321.7L772.1 1321.5M772.1 1321.5L776.1 1321.2M776.1 1321.2L780.1 1320.9M780.1 1320.9L784.1 1320.6M784.1 1320.6L788.1 1320.4M788.1 1320.4L792.1 1320.1M792.1 1320.1L796.1 1319.8M796.1 1319.8L800.1 1319.5M800.1 1319.5L804.1 1319.3M936.4 1288.8L940.2 1287.3M940.2 1287.3L943.9 1285.8M943.9 1285.8L947.6 1284.3M947.6 1284.3L951.3 1282.8M951.3 1282.8L955 1281.3" stroke="#ff00ff" stroke-width="18"/>
<path d="M804.1 1319.3L808.1 1319M808.1 1319L812.1 1318.7M812.1 1318.7L816.1 1318.4M816.1 1318.4L820 1317.9M820 1317.9L824 1317.2M824 1317.2L827.9 1316.5M827.9 1316.5L831.9 1315.8M831.9 1315.8L835.8 1315M835.8 1315L839.8 1314.3M839.8 1314.3L843.7 1313.6M917.6 1295.5L921.4 1294.4M921.4 1294.4L925.3 1293.3M925.3 1293.3L929 1291.8M929 1291.8L932.7 1290.3M932.7 1290.3L936.4 1288.8M955 1281.3L958.7 1279.8M958.7 1279.8L962.5 1278.3M962.5 1278.3L966.2 1276.8M966.2 1276.8L969.8 1275.1M969.8 1275.1L973.4 1273.3M973.4 1273.3L977 1271.5" stroke="#ff00ff" stroke-width="17"/>
<path d="M843.7 1313.6L847.6 1312.9M847.6 1312.9L851.6 1312.2M851.6 1312.2L855.5 1311.4M855.5 1311.4L859.5 1310.7M859.5 1310.7L863.4 1310M863.4 1310L867.3 1309.3M867.3 1309.3L871.3 1308.6M871.3 1308.6L875.2 1307.6M875.2 1307.6L879 1306.5M879 1306.5L882.9 1305.4M882.9 1305.4L886.7 1304.3M886.7 1304.3L890.6 1303.2M890.6 1303.2L894.5 1302.1M894.5 1302.1L898.3 1301M898.3 1301L902.2 1299.9M902.2 1299.9L906 1298.8M906 1298.8L909.9 1297.7M909.9 1297.7L913.7 1296.6M913.7 1296.6L917.6 1295.5M977 1271.5L980.5 1269.7M980.5 1269.7L984.1 1267.9M984.1 1267.9L987.7 1266.1" stroke="#ff00ff" stroke-width="16"/>
<path d="M987.7 1266.1L991.3 1264.3M991.3 1264.3L994.9 1262.5M994.9 1262.5L998.4 1260.7" stroke="#ff00ff" stroke-width="15"/>
<path d="M998.4 1260.7L1001.9 1258.8M1001.9 1258.8L1005.1 1256.3" stroke="#ff00ff" stroke-width="14"/>
<path d="M1005.1 1256.3L1008.3 1253.9M1008.3 1253.9L1011.5 1251.5" stroke="#ff00ff" stroke-width="13"/>
<path d="M1011.5 1251.5L1014.7 1249.1M1014.7 1249.1L1017.9 1246.6" stroke="#ff00ff" stroke-width="12"/>
<path d="M1017.9 1246.6L1021.1 1244.2M1021.1 1244.2L1023.6 1241.2" stroke="#ff00ff" stroke-width="11"/>
<path d="M1023.6 1241.2L1025.7 1237.8M1025.7 1237.8L1027.8 1234.3M1027.8 1234.3L1029.9 1230.9" stroke="#ff00ff" stroke-width="10"/>
<path d="M1029.9 1230.9L1032 1227.5M1032 1227.5L1034.1 1224.1M1034.1 1224.1L1036.2 1220.7" stroke="#ff00ff" stroke-width="9"/>
<path d="M1036.2 1220.7L1038.3 1217.3M1038.3 1217.3L1040.6 1214M565 1172.4L568.8 1173.8M568.8 1173.8L572.6 1175.1M572.6 1175.1L576.3 1176.5M576.3 1176.5L580.2 1177.4M580.2 1177.4L584.2 1177.5M584.2 1177.5L588.2 1177.7M588.2 1177.7L592.2 1177.9M592.2 1177.9L596.2 1178.1M596.2 1178.1L600.2 1178.3M559.1 1191L563.1 1192.3M563.1 1192.3L567.1 1193.6M567.1 1193.6L571.1 1194.9M571.1 1194.9L575.1 1196.2M575.1 1196.2L579 1197.5M579 1197.5L583.2 1197.7M583.2 1197.7L587.4 1197.9M587.4 1197.9L591.6 1198.2M591.6 1198.2L595.8 1198.4M595.8 1198.4L600 1198.6M600 1198.6L604.1 1198.8" stroke="#ff00ff" stroke-width="8"/>
<path d="M1040.6 1214L1042.8 1210.6M1042.8 1210.6L1045 1207.3M393.2 1057.3L397.1 1058.5M397.1 1058.5L401 1059.6M401 1059.6L404.9 1060.7M404.9 1060.7L408.9 1061.8M408.9 1061.8L412.8 1063M412.8 1063L416.7 1064.1M416.7 1064.1L420.6 1065.4M420.6 1065.4L424.5 1066.7M424.5 1066.7L428.3 1068M428.3 1068L432.2 1069.3M383.4 1071.3L387.4 1073.7M387.4 1073.7L391.4 1076.1M391.4 1076.1L395.3 1078.4M395.3 1078.4L399.7 1080M399.7 1080L404.1 1081.5M404.1 1081.5L408.5 1083M326.2 1153.6L329.8 1155.5M329.8 1155.5L333.4 1157.5M333.4 1157.5L337.1 1159.4M337.1 1159.4L340.7 1161.4M340.7 1161.4L344.3 1163.4M344.3 1163.4L347.8 1165.5M347.8 1165.5L351.3 1167.7M351.3 1167.7L354.8 1169.9M354.8 1169.9L358.3 1172M358.3 1172L361.8 1174.2M361.8 1174.2L365.3 1176.4" stroke="#ff00ff" stroke-width="7"/>
<path d="M303.9 1055.9L307.9 1055.6M307.9 1055.6L312 1055.2M312 1055.2L316.1 1054.9M316.1 1054.9L320.1 1054.5M320.1 1054.5L324.2 1054.2M324.2 1054.2L328.2 1053.8M328.2 1053.8L332.3 1053.5M332.3 1053.5L336.3 1053.2M336.3 1053.2L340.4 1052.9M340.4 1052.9L344.5 1052.6M344.5 1052.6L348.5 1052.3M518.7 1148.7L523.1 1148.8M523.1 1148.8L527.5 1148.9M527.5 1148.9L531.9 1149M531.9 1149L536.3 1149.1M536.3 1149.1L540.7 1149.1" stroke="#ff00ff" stroke-width="5"/>
<path d="M377.8 1114.5L382 1114.2M382 1114.2L386.2 1113.8M386.2 1113.8L390.4 1113.5M390.4 1113.5L394.5 1113.1" stroke="#ff00ff" stroke-width="3"/>
<path d="M605 1214h0m5-1h0m1 0h0m0-1h0m0 0h0m1-1h0m-1-1h0m4 0h0m1 0h0m0 0h0m1-2h0m0 0h0m1 0h0m2 1h0m-1-2h0m5 0h0m0-1h0m-1-1h0m0-3h0m2 1h0m1 2h0m2 3h0m0-7h0m3-1h0m0-1h0m-1-3h0m-1-2h0m1-1h0m-3 2h0m-1 1h0m-6 2h0m-6 8h0m0 9h0m-1 2h0m-3 2h0m-1 2h0m-2 1h0m-1 0h0m5 0h0m-1 2h0m-1 2h0m2 1h0m0 5h0m-3 0h0m-1-2h0m3 4h0m4-1h0m1 0h0m5 0h0m1-2h0m-1-1h0m-1 0h0m1-3h0m-4-2h0m1-4h0m2 1h0m3 1h0m0 0h0m1 2h0m3 0h0m1 0h0m0-5h0m-2 0h0m0-3h0m-2-1h0m-1-4h0m-2 1h0m-3 3h0m11 1h0m5 0h0m0 2h0m2-1h0m0-2h0m0-4h0m7-1h0m4 2h0m0 1h0m1-1h0m1 1h0m2 1h0m2 1h0m2-1h0m0 3h0m-1 0h0m0 1h0m1 1h0m-2 0h0m-4-1h0m-1 2h0m2 1h0m-3 1h0m-3 3h0m1 2h0m2 1h0m1 1h0m0 1h0m-1 1h0m1 2h0m-1 1h0m1 3h0m2 0h0m-1 3h0m-4 1h0m-1 1h0m-5 0h0m0 3h0m0 5h0m2 1h0m1-1h0m-7-2h0m-4 1h0m-2 1h0m1-4h0m2-2h0m-6 1h0m-1 1h0m0 1h0m-3-2h0m0-3h0m-1-1h0m0-2h0m-4-1h0m-1 0h0m1 7h0m5 7h0m0 4h0m3 0h0m1 1h0m0 3h0m2 1h0m3 0h0m1 3h0m3 0h0m1 2h0m-1 1h0m6-1h0m-1 4h0m-4 3h0m-2 2h0m1 1h0m-1 2h0m-2 1h0m6-1h0m-8-7h0m-1 0h0m0-4h0m-3 0h0m0-2h0m-2-7h0m10 0h0m0-2h0m3 0h0m3 4h0m-5 1h0m8 2h0m2 0h0m5 0h0m-1 2h0m-2 2h0m-1-13h0m3 0h0m2-6h0m-1-3h0m1-13h0m2-3h0m-4-1h0m2-4h0m4-2h0m-10-6h0m-1 0h0m-7 3h0m1 5h0m2 0h0m0 4h0m-5 0h0m-1-2h0m-1-4h0m-1 10h0m3-1h0m-5-1h0m-2-1h0m1 4h0m-5 1h0m0 1h0m1 1h0m8 1h0m2 1h0m3 0h0m3 1h0m-5 3h0m-2-38h0m7-3h0m2-2h0m3 2h0m0 2h0m2 1h0m0 2h0m-1 1h0m2 1h0m-8-2h0m44 47h0m0 1h0m1 1h0m-2 2h0m0 0h0m2 3h0m0 3h0m4 0h0m0-1h0m-1 3h0m2 2h0m-1 3h0m2-1h0m2 2h0m3 2h0m0 3h0m1 0h0m0 0h0m1-1h0m1 2h0m1 3h0m-4 0h0m0 3h0m1 1h0m3 1h0m2 0h0m1 1h0m1 1h0m-1 1h0m-1 4h0m1 1h0m2 0h0m2-1h0m1-1h0m-1-2h0m2 1h0m2-1h0m-1-1h0m3 2h0m0 0h0m-2 1h0m-1 3h0m1 2h0m-4 1h0m0 2h0m-1 3h0m-2 0h0m1 0h0m-4 1h0m0 4h0m3-1h0m5 0h0m2 3h0m2 3h0m0 2h0m2 1h0m1-1h0m0 3h0m1 1h0m4 0h0m3 1h0m2 2h0m1 0h0m1-1h0m0-4h0m-2 0h0m3-1h0m-2-4h0m4-1h0m1 1h0m0 1h0m0-3h0m5-1h0m0 2h0m3 0h0m-1 8h0m2 1h0m2 0h0m1 3h0m3-1h0m3 0h0m4 2h0m1 0h0m-2-7h0m-4 0h0m-4-1h0m0 2h0m-8 3h0m-3-2h0m-2 1h0m3-3h0m-13-2h0m0-7h0m0-3h0m3 1h0m2 1h0m4-2h0m-4-5h0m-4-2h0m-1 0h0m-5-2h0m1-1h0m-2-3h0m-1-5h0m1-1h0m2 0h0m-6-4h0m0-2h0m-3-2h0m-6 1h0m-1 4h0m1 0h0m4 2h0m-7 7h0m0-1h0m0 2h0m-2 2h0m3 2h0m-1 2h0m-6 0h0m-2 0h0m-1 3h0m3 0h0m1 1h0m0-1h0m-1 2h0m0 4h0m-1 2h0m0 3h0m1 2h0m1-3h0m3 1h0m0 3h0m1 3h0m-3 0h0m0-2h0m4 1h0m1-1h0m1-2h0m3-2h0m4 3h0m-3 5h0m-14-2h0m-1-1h0m0 1h0m-1 0h0m-1-1h0m2 0h0m-3-1h0m0 1h0m-2 1h0m1-6h0m-3-1h0m-2 0h0m0 0h0m0-2h0m1-4h0m-4 0h0m1-3h0m2-1h0m4 0h0m1 0h0m1 4h0m3 0h0m0 1h0m-3 3h0m10-1h0m19 1h0m-1-5h0m1-1h0m-4-1h0m0-1h0m7 0h0m-23-12h0m-3 3h0m-1 0h0m-2-6h0m-1-4h0m0-4h0m2 0h0m-3-2h0m-1-2h0m-1-1h0m-2-4h0m-2-2h0m0 0h0m0-1h0m-2-2h0m0-2h0m0-1h0m-3-2h0m0 0h0m1 7h0m1 3h0m-5-2h0m1 5h0m1 0h0m-3 2h0m-3 0h0m-2 0h0m-1-1h0m2 5h0m1 3h0m-1 0h0m-3-1h0m0-1h0m-5 0h0m0 3h0m2 7h0m-1 3h0m1 2h0m1-1h0m4-1h0m1 3h0m2 2h0m3 0h0m1-1h0m0-2h0m-1-1h0m2 0h0m3 1h0m0 3h0m-1 0h0m6 1h0m0-5h0m-3-1h0m2-3h0m0-1h0m0-1h0m-3-2h0m0 0h0m-3-1h0m1-1h0m2-3h0m0-1h0m-1-3h0m1-2h0m4 4h0m-12 2h0m-2 4h0m0 1h0m5 2h0m2 2h0m1 1h0m1 0h0m-6 12h0m0 2h0m1 0h0m-2-2h0m-3-1h0m0 2h0m-1 1h0m0 2h0m0 2h0m0 1h0m0 0h0m0 0h0m0 1h0m-1 0h0m-1 0h0m-2-2h0m-3 2h0m0 1h0m1 2h0m-5 0h0m-4-6h0m-1-2h0m3-1h0m2-1h0m1-2h0m3 1h0m0 1h0m-1 3h0m-1-9h0m-1 0h0m-3 0h0m-2-2h0m-3 1h0m0 2h0m3 3h0m-3-8h0m-4 1h0m1-2h0m0-2h0m11 2h0m6 7h0m6 10h0m1 5h0m3-2h0m3 0h0m-2-4h0m0 7h0m0 1h0m3 2h0m-8-50h0m-1-1h0m2-2h0m21 0h0m1-1h0m5 1h0m1-2h0m0-1h0m-1-4h0m-5-3h0m-2-1h0m-1 1h0m-1-2h0m-1-1h0m-1 4h0m3 3h0m1-9h0m2 0h0m2 1h0m1 16h0m3 1h0m0 3h0m-1 0h0m4 0h0m0-5h0m4 5h0m-6 4h0m64 46h0m3 0h0m0-1h0m-1 3h0m4 0h0m2 0h0m3-2h0m3 2h0m-1 1h0" stroke="#ff00ff" stroke-width="7.6"/>
<path d="M552.5 1290h0m3-1h0m1-2h0m0-1h0m-2 0h0m10 3h0m96-58h0m1-1h0m0 1h0m2 0h0m1 0h0m2-2h0m3 1h0m1 1h0" stroke="#ff00ff" stroke-width="7.0"/>
<path d="M249.5 1068.5l1 2 1 1 4 0-2 3 1 2 5-1 1 1-1-3 4 0 0-3 1-3-1 0 1-3-5-1 0 1-4 0 1 2 2 1 0 1 2 1 8-4 1-3-1-1 1-1 1-2 1 1-1-3 1-3 1 8 1 1 0 2 1 1 3-3 2 0 3 0 0-3-1-3 2 0 1 0 0-1-2-1-1-3-2 4-1 0-2 3 9-1 0-1 5 2 1-1 2-1-1-1 3 0 1 0 3 0 1-1 0 2 2-1-1-2 0-1-1 0-2 1-3-3-1 7 2 2 1 0 9 0 0-1 1-1 0 3 4-1-3-3-1-1 0-2 0 0 2 0 1 1 0-2-1-1-4 0 0 2-1 0 0 0 0 0 9 2 3 0 1-3-2 0-1-1 4 2 0 1 2 2 3-3 0-1-4-1 0-1 2-3-1-2-6 1 1 11 1 2 2-1 2 4 8-10 1 1 1 0 0-1 1 1 1-1 1 0 1 1-1 1 1 1-1 1-1 0 4 0 0 0 0 1-1-5-1-1 0-2 1 0 1 0-3-1-1-1-6 1 0 0 1 2 14 0-1-2 1 6 3-1 1-1 0 0 1-1 2 3 3-1 1-1 0 0 0-1 1 1 0 1 1-1 0-2 3 0 1 1 1-2-1-3 0-2 4 1 2 6-4 2 0 1-4 2 10 0 8-2 2-3-1-3-1-1-1-1-2-1-1 3 10-1 1-1 0-1-3 8 13 0-1 0 0 2 1 0 1 0 0 1 1-1 2 0 1 0 1-2 1-1 0 0 0-3 4 3 2 2-3 0-1 1 2 1 1 2 2 0 0-1 1-1-1 4 1 1-2-1-3 1 0-1-1-1 0 1-2-3-4 1 3 3 11 2 1-1 2 1 1-1-1-1-1-1 0 0 7 0 0 4 0 1 0 0-2 0 0-1 5 2 1-4 5 1 2 2-1 3 2 0 1-2 0-3-2-3-2 11-4-2 0 0-2 6-8 2 0 4-2-1-2 0 0 1-1 1-1 0 0-1-1-1-2 0-2-1-1-1-2 0-1 2 0 0 0 2 1-1 1 0 0 0 0 1 4 1 2 0 3 0 0 0 1 0-2 1 2 4-7-2 1-10 0 0-9-1 0 3 0 1 1 1-1 1-2-4-1-4-2 1-1 0 0-1 0 2 1 0-1 2-1 0 0 2-1-6-2-2 0-1-1-2 2-2 1 0 5 4 2 0-11 2-1 0 4 25 0 4-1 2 2 1 1 1 0-1 1-1 0 0 0 0 1-1-1-2-1 0 3 1 0 3 1 0 1-1 0 3 1 1-3 0-3 0-1-1-1 1 0 2 2 2 4 2-11 0 1-6 2-1-3-2 2-2 9-51 25 5 18 10 0 3-2 1 3 0-1 2 0 2 0 1 1 1 2-3 0-6 6-47 3-1 2 0 1 2-3 1-1-6-4-1 9-2 2 0 0 1 3 3 6 1-2 3 1-17 7 1 2 0 0-1-2-4-3 0 2 10 3 1 4 2 4-9-1-1 1-3 3-1 0 0 0-2 2 1 1-1 1-1 2-1 1 1 0 0 0-2 0 4-3 1-1 2-1 0-2 1 2 2-2-11 0-1 2-4 4 4 5-1-1 3 2 1 2 1-1 1 2-1 2-4 3 2 0 1 3-1 0 2 1 1 3-1 0-1 1 0 1-3-1 0 2 0 0 1 2-1 0-1 1-2-2-2 4 4 5 1 2 0 0 2 1-3 1 0 1 1 2 1 1 1 0 2-3 0 1 0-7 0-10 2-7 2-1-9-1-1-2-2-1-7 3-1-5 3 31-4 6 3-2 4 0 1-1 3 0 1 5 1 1 2-2 2 1 4 0 0-7 2 15 15 4-2 11-7 7-7 9-3 9-1 0 23-10 3-2 17 6 1 4-2 4 4 2 2 11-3 6-4-2-6 5-1 1 11 1 1 6-2-1-2 10 0-7 16-6 2-3-2-7 2-5 0-2 3 6 3 1 8-4 1 1 2 5 1 2 2 2 3 3 1 1 5 2 0 2-1-1-1-5 3-2-1 0 3 1 1 1 2 2-1 1 0-2 4-1 2 0 3-3 0-2 2-4 3 0 0-6-1 0 2-4-1-1-1 0 3 0-6 2-1 1 2 0-5 2-4 1-2 1-2 2 3-7 1-1-2-3-1-2-2 3-1-3-3 0-4 1 0 2 0 2-3-1-3 5-5 2 14 2 1-5 0 7-4 5 7 2 5 0 1 6 5 4-3 4-1-2-5 2 12-2 9-6-3-5 4 1 5 2 5 8 2 1 0 2-2 4 2 1-1-1 5-2 4-1 3-5 2 2 4-4 11-2-1-2-1 2 5 1 7 0 3-4-1-5 2-1 2 1 2 0 8-3 1 0 1 0 2-3-1-2 0-1 1 1 0-1 3 1 1 3 0-1 3 1 4 2 0 1 1 2 2 0 0 2 0 2 3-2 6 1 1 0 0-3 1-5 0-2 1-3 1 4 1 0-7 0 0 0-2 1 0 1-1 0-3-1 0-2 0-1-1-1-2-1-4-2 1 0 0-2-2-1-2 2-2 0-2 1 1 1-1-4 0 1-2 1-1-2-2 0-1-1 0 0-2-3 0 0-1-3 1 1 2-1 4-1 0 0 3-3 3-1 4-3 2 1 1 1 2 1 0 2 3 0 4-2-1-2-3-3 1-3-4 1-3 1 1 0-3-4-1-2-1 0-1-1-1-3 0-5 1 0 2 0 2-1-1-5 1 0 6 0-12-4-6-5 1-8-5 3-9 4-7 5-1-3-4-2-3-5 0 1 3-2-6 3-1 1-4-3-2-2 0-2-1 1-2 0-1 7-1 1 4 5 1 2-3 6-3-10-5 7-7 1-9-2-9-9 0 0-16-5 3-7 1-5 1-5-3-4-10-12 14-3 11-4 1-5-3-4 5-2 8-6-2-9-2 2-8 14-7 9 22 3 1 3 8 6 0 1 3-2 1 3-14 9-2 1-5 3 2 7 3 1 10-8 5 0 2 1 8-1 1 3 0 0 1 0 3 2 0 1-1 1 0 1-3 0 0 2 2-3 6-1 1-4-2-3 1-1-1-1-3-4 1-1-1-1 8-2 2-5 0-5 0-4 1 2 4-3 8 8 2-4 5 5 5 2 12-1 9 11 2 0 6-13 8-6-2 1-1 2 14 33 2 0 1 1 1-1 9-1 0 0 1-12 2 0 1 2 3 1 2 15 5-1 4 1 2 0 2 5 1 0-5 2-2 0-5 2 1-4-5 10 1 1-3 7 4 2-1 7 2 1-1-1 9-2 2 1 2 0 4-2 1-4-2-2-1-3 6-2 6 0 2-2-2-3-1 0 5 0 3-2 1 0 0-1-1-2 0-1 2 3 2 3-1 4-2 2-3 2 2 2-1-2 6 1 0 0 2-2 1-1-1-1-1 1-1-4 3 11-3 11 5 2 2 5-1 3 4 0 2 1 3 2-8 0 0-2-22-19-17-11-1-3 3-4 1-3 6-2 7-4-3-5 4-4 4-5 0-1-3-1 0 0 0-1 1-1 2-1-1-1-3 0-1-1-1-1 0-1 1-1-4-3 1 1 0-3 2-1-3-1-2-2 1-5-1-3 2 0-4-1 0-4 1 1-5 0 0-4-1 0 0-1-1-2 1 0-2-1-2 1-1-1-1-2 0 0 0-1 0-1-4 0 0 1 0-4 0-1 1 0 0-3-1 0 1 0 0 0-2 0-1 0-2 1-4-5 2 0 0-1 2 1 1 0 1 0 0 1 1 0 2-6-3 1-1-2-1-2-1 0-1 2-1 0-1-1 0 0-4-4 2-3 2-2-2-2 0 1 2 1-3 0-4-3 2-1 0 0 0-3-2-1 1-1 1-1-2-2-2-1-1-1 0 0-3-2-1-2 1 0 0 0 2 1 0-1 3 2 0 3 2 1 2-9-6-2-3-3-1-1 0 2-1-5-1 0-3 2-4-8 1-1 3-7-6-4 0-3-2-1 0 0 0 2-2 0-3 1-9-17-3-8-8 1-4-8-1-11 1-1-11 0 0-3-1-4-2 0-2-2-2-2 1-1-3-2-4-1-1-1 1 0-1-2 0 0-1-1 2-2-2 0-3-1 0-1-2 3 1 1 2 3-1 0 0 0 2 4 1 4 1 1 4 0 2 1 0 2 0 4-1 0 4 4 2 0-4-14 6-6-3-3-3-1 0-2 1 1-5-1-1 0 1-2-1 1-1-3 3-4 1-1-9 1-1-3 0-2 1 3-4-2-3-2 0-1 1 0 1-1 1 7-3 3 3 1 6 8-6 0 39-11-10-6-4-4 1-4-2-5 1-7-3 0-2 0-1-3 2 0 1-1 2-2 0 0-3-4 0-2-1-3-1-2 0-3 0 1 3 0 1 0 0-1-1-2 0 0-1-2-1-2-2 0-1-1 1-5 1-1 2-2 1-1 0-1 0-1-2 0 0-2 0-1-1 1-1 1 0 1-1-5 1-3-2-2 0 1 3-2 2-5 0-1 0 1-4-1-1 13 5 15 2 1 1 3-8 10 1-1 7-9-117-29-2 91-13 3-5 139 14 2-35 42-56 12 4 4 4 4 4 3 8 11 62 6 1 0 5 4 0-2 10-11 2 1 8 4 1 0-3 4 11 2 6 1 4-2 1 0 2 1 3-7-1-2 0-2-1 0 0-2 5-3 2 2 2 0 3 2 1 6-1 2-2 0-1-5-3 2-2 12 0 0-1 5 1-2-4-1-3-3-1 0-1 1-6 1-8 5 17 1 2-6 9-1 3 5 8 7 1-1-6 11 4-3 4-23-1 2 7-3 12-9 6-1 12 2 5 2 1 1 6-2 0 0-1-1 0-1 0-1-1-3 0 0 1-2 1-2 2-1 1 3 3 2 1 3-4 2 1 4 0 4 2 0 0 0 1-1 1-1 3-2 1-3-2-1 6 2 1 1 1-6 5-2 3-2 0 6 3 2 1 3 11 0 4 1 0 1 0-1 4 0 0-1 0 0 4 7-2 1 0 0-3-3 1 6 3 1 4 4-2 2-6-5 0 3-4-1-8-3 2-2 2 2-8 2-6 2 0 1 2 4 0 0 2 1 1 1 0 0 1 2 0 0 1 2-1 1-1 2 4-9 0 1 14 4 0-1-2 2 4 1 2 3-2 2-1 1 0 0 0 1-1 3-4 0-2 2 3 4-1 2 1-2 2-1-5 5-4 2 0-3-4 3-4 5 1 1 0 0 1-1 1 6 1 7 0 1-1 1-1-2 0 1-3 0-1-1-1 0-4-2-1 3-2-2-2-2 0 0-3-3-1-1 2-1 4-2-1 0-1-4 4 0 0-3 3-3 1-6-1-4-4-4 2 7-7 3 0 0 1-2-8-4-1 0 4 11-3 2 1-1-3-1-3-2-1 0-1 0 5 11-2 0-2-2-1 3-1-1-1 2 6-7 8 0 1-1-17-2 0 0-2-1-6-1 1-1-1 5-1 0-1 4 4-20-1-1 0 0-2-4 1-1 0 0-1-1 3 1 1-1 1-1 0 0 4-2 1-4-2-3-1-1 2-3 1-1 0-2 1-2 1-1 2-2 0-2-2-1-4 1-5 10 1 2-2 3 0 2-2-1-3-1-3 3 0 2 0 0-1 2 1 1 2 1 1-1 1 3-3 2-2-2-1 0 11-2 12-2 1-5-1-1 0 0-2 0 3 1 2 2 3 1-1-17 0 7 14-26-8 1-2-9-8 8-11 3-1-7-6 0-6-10 0-2-2 4 6-17 3-3 4-1 0-8-18-1 0-1-2-14 8-4 3 0-6-7-1-3-2-1-7-6-7-8 13 4 15-2 10-1 10 20 16 1 2 32 2-13-19 22 45 1 1-1 1 15 2 0 3-1 2 3 4 1 1 0-1 38-10 12 2 2-3 1 1 2-2 4 2 3-1-1-2 3-2 0-1 8 2 2 2-1 2 0 5-3 1-3-2-4 1-2-1-1 2 0 4-5 3 1 2 0 1 1 3 0 1 1 2 5-1-2-2 1 6-2 1 0 1 3 1 2 1-4 2 8 7 1 4-1 2 0 1-1 0-2-3 0 0-2 4 9 1 1-4-2-3 4-3 2 1 1 3-2 3 1 2 4 1 3 1 3 0 0 2 3-1-1-3 0-2 0-5-1 0-4 0 0 0 0 4 0 1-1 8 3 2 3 0-7 3-2 0 2 3 3 0-2 3 6 4 1 0 2 2 4 0-1-2 0 5 2 2 3 1 4 0 0-5-2 0-2 1 6-1-1-2 3 0-1-6-2 2-1-12 1 0 3 0 0-4 4-2-1-4 3-4 4-2 1 6 1 0 4-1 1 0 0 1 2-1-1 2 0 1-1 0 1 2 1 0 3-2 1-1 6 0 3 2-1 1 0 3-1 0 2 2 1 4 0 1-2 0-4 0-1-2 0 0-2 1-6 1-1-2 0-1-1 2-6 0-1-1-2-2-1-1 1-1 1 0 1 1 1-4 4-1 6 6 5-3 12 0 1-3-3-2-1-6-3-1 0-1-1 2 0 1 4-6 0 0-3-4-2 1 1-3-2-2 0-1-3 0-3 0-1-1 0 1 2 2 1-6 7 2-12 6-3 2-1 1 3 2 3 2 19 1 1 3 3 3 4 6-1 5-1 3 3 2 2 1-1 2-1 0-2-1-2 0 1 2-1 2-1 0-2-2 1-4-4-2 1-2 0-3 0 0-3 12 0 3-2 0-2-1 0-3 0-2-5 0-5 2 0 2 2 0 0 3 1 0 0 5 1 2 4-1 0-1 1 0 0-3 4 2 0 4 1 1 4 1 1-2 1 0 0-1-4-2-1-3 3 0 7-1 1 2-2 1 0 5 3 0 1 1 0 0-1 2-1 0-1 1 3 0 3 0 3 0 1-4-1 0 0 0 2-1-1-2-4 1 0 0 0 1 2 2 1 6-3 2-1 3 2 1-2 2-1 0-5 1-2 1-1-4-2 1-1 1-1 0-2 0 0 0 0-6 3-1 0-1 0 0-7-2-2 1-2 0 0 3 2-1-6 0 1-2-4 0-1 1 1 1 1 3-3 0-2 0 0 1-1-3-5 0 0 1 0 1 1 5 1 2 6-1 1-3 3 2 2-1 2 1 0-1 1 0 1 0 0 4-3 0 1 0 7 5 2 4 5 1-1-4 4 1 0-4 8 2 2 1 0 0 1 1 0-5-1 0-1-1 1-1 2 2 2 1 2 0-1-2 2-2 2-2 3 1 0-3 1 0 1-2 5 0 0 2 1 3 2 1 2 0 1-1-2-1 2 6 5 3 2 1 5-3 0 0 0-2 1 0 3 0 1 1 0 2 3-1 0 0 1 1 0 0 1-3 2 1 1-1 0-1 1-3-4 0 0-2-6 1 0 0-1 2-1 0 0-5-3 2-1-1-1 0-1 5 2 2 9-2 2 9-5 0 12-5 1-3 2-1 0-1 0-3-4-3 8-1 6 1 5 0 1 2 0 9 5-2 5 1 2-1 1 0 3 2-6 3 2-8-3 1 8-4 0-3 3-1-1-1 4-1 0 2 0 0 1 0 3-1 4 3 3 1-1 7 10-2-1-8 4 1 3-3 3-2 4-2 7 3 2 2 0 0 2 1-1 3 1 2-4 1 9-1 3-2 4-5 2-3 1-1 1 2 4 2 0 1-1 2 2 1 2-7-2-5-2-1 0-1-4 2-2 0-4 3-10 3-14 6-28 2-3-2-30 4 3 9-47 2 0 1-1 0-1-9-2 0 0 0-4-1-2 7 0 1-4 1-2-12 1-3 2 0 2 0-1-1-1-2-1 0 5-1 2 0 1-4-2 0 0-2 1-3-5 0 1 6-1-12 0-2-3 1-1-3-2 0-1 0 0-2 1-1 0-1-3 1-1 2-1 7-1 1 0-16-30 4-2-2-4 2 0 10 1 1-7-1 1-2-2-3-4-7 0-9 2 26-1 7-1-1-2 1 0 2 2 1 0 2 1 1-2 1-2 2-3 1-1 0-1-1-1 0-2-2 0-3 0-3 0-4 2 1 1 0 2-2 2 2 11 0 0 2-1 8-3 0-2 2-16-7 0 0-1-2-1-2 4-3-7-1-1-2-4-5-4 14-14 0 4-5-12 2-6-4 15-24 5-3 1 0 5-15 0-1 10 0 3 1 1-3-3-1-3-3-1-8 2-1 1-1 2 2 2-2 1 1 3-5 2-7 4 1 3 0 0-1 0 3 0-7 0 0 0-2-2 0 0 3-1 0 6-1-1-1 0 0 1-3 3 1 2 1-1 1 0 0 2 0-3 3-1 2 2 1-3-5-1-16 0 0-12 4-1 1-1 3-3 0-1-1-2 2 3 6 3-1-1 5-10 1 2-3-1-3-6-4-2-3 0-4-3-3 0-2-4 3 0 4 3 1 1 9 1 4 1 0 2 2 0 1 1-3-1-1 4 6 3 1-17 0 0 2 1 0-3 3-1 2 1 3 4-1 3-4-10-4 0-6-9-5-4 1-2 8-1 0 0-1-2 2 3 2 1-1 1 2-3-19 36-5 0-1 2-4 2 0 0-4-3 0-4-4 0 1 4-8 4-1 2 5 0 2 2 4 3-2-2 9-8-22-9 2-4 1 16-38 1 0 8-13 1 1 7-1 0 1-7-31-1 0-24 12 0 4-4 2-9-5-2-1 0 2 1-53 2-5-6 2-4-4-3-3 8-2 24-9-50-26-16 63-3-3-17 4 34 64 130 23 0 1 1 0-16 44 0 0 0 1 0 0-47 35 27 43 0 1 2 1 2-2 8 0 54 10 142-2 1-3 2-8-1-5 4-2 0 0 1 0 2 3 6 1 4 0 2 1-1 4 8 0 0-7-1 1-3-1-1-6-3 2-2 1-3 0 0 0-8 11 23-6 6 2 1 0-1 1 2-6 2 2 4 1 0-2-1 0-1-2-5-4 0 0-1-2-3 3 18-1 3 0-2 2-1 2 0 0 1-7-3-5-1 1 11-3 3-2 3-1 5 0-1 2-2 6-1 5-6-2 11-1 5-5 0-1 8-1-1-2-2-6-5 0 14-1-1-4 0-1 3-1 4-3 3-3 6 1 0 0 0-4 6-1-1-2 0 0 3 1-1-4 7 2 8 1 1-2 0-1 1 0 3 0 4-2 5-3 2-7 2-2-2-3-3 2-2-6 6 0 3 3 0-6 1-3-1 0-4-1-3 0 8-6 4 0 1-2 0-4-5-1 1-3 8 9 2-2-3 6-2 3-23 11 0 7 0 3-4-5-4 5-2 0 1 16-5 1 0 3 1 1-4 3-7-3 23-9-484 9-11 11-4 9 18 2 3 0 2 1 1-2-39-20-12-6-3-2-12 3-7-16-8 5-62-31" style="marker:url(#m6s)"/>
<path d="M536 1305.8L539.9 1306.8M1042 1215L1043.3 1211.2M1043.3 1211.2L1044.5 1207.3M1045 1207.3L1045.5 1211.3M1045.5 1211.3L1046 1215.3M1046 1215.3L1046.5 1219.3M1046.5 1219.3L1047 1223.3M1047 1223.3L1047.6 1227.4M1047.6 1227.4L1048.1 1231.4M1048.1 1231.4L1048.7 1235.4M1048.7 1235.4L1049.2 1239.4M1049.2 1239.4L1049.8 1243.4M1049.8 1243.4L1050.4 1247.4M1050.4 1247.4L1050.9 1251.4M1050.9 1251.4L1051.5 1255.4M1051.5 1255.4L1052.1 1259.4M1052.1 1259.4L1052.6 1263.4M1052.6 1263.4L1053.2 1267.4M1053.2 1267.4L1053.7 1271.4M1053.7 1271.4L1054.5 1275.4M1054.5 1275.4L1055.3 1279.3M1055.3 1279.3L1057 1282.4M1057 1282.4L1061 1282.8" stroke="#ff0000" stroke-width="6"/>
<path d="M539.9 1306.8L543.7 1307.9M543.7 1307.9L547.6 1308.9M1039.3 1222.6L1040.8 1218.8M1040.8 1218.8L1042 1215" stroke="#ff0000" stroke-width="7"/>
<path d="M547.6 1308.9L551.5 1309.9M551.5 1309.9L555.4 1311M1034.9 1233.9L1036.4 1230.1M1036.4 1230.1L1037.9 1226.4M1037.9 1226.4L1039.3 1222.6" stroke="#ff0000" stroke-width="8"/>
<path d="M555.4 1311L559.2 1312M559.2 1312L563.1 1313M563.1 1313L567 1314.1M951.7 1290.3L955.8 1289.8M955.8 1289.8L959.9 1289.2M959.9 1289.2L964 1288.7M964 1288.7L968.1 1288.2M968.1 1288.2L972.2 1287.7M972.2 1287.7L976.3 1287.5M976.3 1287.5L980.4 1288M980.4 1288L984.5 1288.5M984.5 1288.5L988.6 1289M988.6 1289L992.7 1289.5M992.7 1289.5L995.2 1291.5M995.2 1291.5L995.8 1295.6M995.8 1295.6L994 1298.7M994 1298.7L990.6 1301M990.6 1301L987.2 1303.3M987.2 1303.3L983.5 1304.9M983.5 1304.9L979.4 1305.2M979.4 1305.2L975.3 1305.5M975.3 1305.5L971.1 1305.8M971.1 1305.8L967 1306.2M967 1306.2L962.9 1306.5M962.9 1306.5L958.8 1306.8M958.8 1306.8L954.7 1307.1M954.7 1307.1L950.6 1307.2M950.6 1307.2L946.4 1306.8M946.4 1306.8L942.3 1306.4M942.3 1306.4L938.2 1306.1M938.2 1306.1L934.1 1305.7M934.1 1305.7L930 1305.3M1031.6 1241.3L1033.4 1237.6M1033.4 1237.6L1034.9 1233.9" stroke="#ff0000" stroke-width="9"/>
<path d="M567 1314.1L570.9 1315.1M570.9 1315.1L574.7 1316.1M943.9 1295.3L947.8 1294.3M947.8 1294.3L951.7 1293.3M1028.1 1248.5L1029.8 1244.9M1029.8 1244.9L1031.6 1241.3" stroke="#ff0000" stroke-width="10"/>
<path d="M574.7 1316.1L578.6 1317.2M578.6 1317.2L582.6 1318M582.6 1318L586.5 1318.8M936.2 1297.4L940.1 1296.4M940.1 1296.4L943.9 1295.3M1022.5 1259.2L1024.5 1255.8M1024.5 1255.8L1026.3 1252.2M1026.3 1252.2L1028.1 1248.5" stroke="#ff0000" stroke-width="11"/>
<path d="M586.5 1318.8L590.4 1319.5M590.4 1319.5L594.3 1320.3M594.3 1320.3L598.3 1321.1M928.4 1299.4L932.3 1298.4M932.3 1298.4L936.2 1297.4M995 1288.8L997.9 1286M997.9 1286L1000.8 1283.2M1014.7 1268.6L1017.3 1265.5M1017.3 1265.5L1019.9 1262.4M1019.9 1262.4L1022.5 1259.2" stroke="#ff0000" stroke-width="12"/>
<path d="M598.3 1321.1L602.2 1321.9M602.2 1321.9L606.1 1322.7M916.7 1302.2L920.6 1301.3M920.6 1301.3L924.5 1300.4M924.5 1300.4L928.4 1299.4M1000.8 1283.2L1003.7 1280.4M1003.7 1280.4L1006.6 1277.6M1006.6 1277.6L1009.5 1274.8M1009.5 1274.8L1012.2 1271.7M1012.2 1271.7L1014.7 1268.6" stroke="#ff0000" stroke-width="13"/>
<path d="M606.1 1322.7L610.1 1323.5M610.1 1323.5L614 1324.2M614 1324.2L617.9 1325M908.9 1304L912.8 1303.1M912.8 1303.1L916.7 1302.2" stroke="#ff0000" stroke-width="14"/>
<path d="M617.9 1325L622 1325.2M622 1325.2L626 1325.4M626 1325.4L630 1325.6M630 1325.6L634 1325.8M634 1325.8L638 1326M893.3 1307.5L897.2 1306.6M897.2 1306.6L901.1 1305.7M901.1 1305.7L905 1304.8M905 1304.8L908.9 1304" stroke="#ff0000" stroke-width="15"/>
<path d="M638 1326L642 1326.2M642 1326.2L646 1326.4M646 1326.4L650 1326.6M650 1326.6L654 1326.8M654 1326.8L658 1327M658 1327L662 1326.9M869.8 1312.8L873.7 1312M873.7 1312L877.6 1311.1M877.6 1311.1L881.5 1310.2M881.5 1310.2L885.4 1309.3M885.4 1309.3L889.3 1308.4M889.3 1308.4L893.3 1307.5" stroke="#ff0000" stroke-width="16"/>
<path d="M662 1326.9L666 1326.7M666 1326.7L670 1326.6M670 1326.6L674 1326.5M674 1326.5L678 1326.4M678 1326.4L682.1 1326.3M682.1 1326.3L686.1 1326.2M686.1 1326.2L690.1 1326M690.1 1326L694.1 1325.9M694.1 1325.9L698.1 1325.8M698.1 1325.8L702.1 1325.7M702.1 1325.7L706.1 1325.6M706.1 1325.6L710.1 1325.5M710.1 1325.5L714.1 1325.3M714.1 1325.3L718.1 1325.2M718.1 1325.2L722.1 1325.1M722.1 1325.1L726.1 1325M726.1 1325L730.2 1324.9M730.2 1324.9L734.2 1324.8M734.2 1324.8L738.2 1324.6M738.2 1324.6L742.2 1324.5M834.1 1318.4L838.1 1317.8M838.1 1317.8L842.1 1317.1M842.1 1317.1L846 1316.5M846 1316.5L850 1315.9M850 1315.9L853.9 1315.3M853.9 1315.3L857.9 1314.7M857.9 1314.7L861.9 1314.1M861.9 1314.1L865.8 1313.4M865.8 1313.4L869.8 1312.8" stroke="#ff0000" stroke-width="17"/>
<path d="M742.2 1324.5L746.2 1324.4M746.2 1324.4L750.2 1324.3M750.2 1324.3L754.2 1324.2M754.2 1324.2L758.2 1324.1M758.2 1324.1L762.2 1323.9M762.2 1323.9L766.2 1323.8M766.2 1323.8L770.2 1323.6M770.2 1323.6L774.2 1323.4M774.2 1323.4L778.2 1323.1M778.2 1323.1L782.2 1322.9M782.2 1322.9L786.2 1322.7M786.2 1322.7L790.3 1322.4M790.3 1322.4L794.3 1322.2M794.3 1322.2L798.3 1322M798.3 1322L802.3 1321.7M802.3 1321.7L806.3 1321.5M806.3 1321.5L810.3 1321.3M810.3 1321.3L814.3 1321.1M814.3 1321.1L818.3 1320.8M818.3 1320.8L822.2 1320.2M822.2 1320.2L826.2 1319.6M826.2 1319.6L830.2 1319M830.2 1319L834.1 1318.4" stroke="#ff0000" stroke-width="18"/>
<path d="M183.5 1217.5l3 1 1 2 3-3 3 2 4-1 2 2 1 0 3 1 2-3 2 3 5-2 5 0 2 0-1 3 3 0 0-1 3-1 2 2 0 5 1 2 0 5 4 0 1-3 0-3 0-2 1-1 2 0 1 0-1 5 0 0 4 1 0 1-1 1-2 2-2 1 7-1 2 1 0 0 1 0 1 0 1 0-1-1 7 0 0 0 1 0 3 2-2 3-3 2-1-4 15 0 4 3 0 2 0 4-8 0 0-3-4 5-2 10 4-1 0 2 3-1 0-2-1 0-16 2-3 0 1-2-4 1-3-1 1 3-5-2-2-33 0-2-8 2-13 1-17-5 63 3 3 2 2 2 5-1 1 2 3-2 4 12 3 0 0 0 0-2 2 2 1 0-1-3 7 6 8-1 2-1 0 4 6-2 5 0-1-3 4 0 1 1 5 1 3 3 0 2 3 0 2 0 1-1 2-3 2 0 3-7 1 1 1 1 2-1 0 0 1 2-1 1 5 0 1 1 3 0 2-2 1 0-1 4-7-7-1 1-5-2 0-1-9 1-1-1 0-1 2 0-1-1-4 0 0 1 1 2-6-2 1-2-1-2-1 0 0 1-1-1 0 2 6-2-1-2-10-1-2 0-3 1 1 2-5-2 0-1-2-3-1 1 0 0-4-1 0-1 0-3-1 2-4 0-1-1-2-1 1 36-3 9 19-5 12 1 2 0 7 8 9 0 2 1 4-5 9 6-1 1 9-3 14 2 1 5 7-1 18 5 1-1 6-8 6-4 2 9 12 6 11 1 5 3 4 2-1 2 2 1 6-2 3 0 1 2 3-1 4 0-1 3 8 0 2 0 0-1 2 2 2-1 0-1 0 0 3 1 1 2 2-1 2 1 0-2 2-2 0-2 1-3 0-1-2-1 1-1-5-1-1 0-2 4-4-5 0-1-1 0-1 0 0 0 0-2 4 0-8 0-1 0 2-1-5-1 0 0-4 1 0-1-4-1-2 0-2-1 0 0-2-1-2 2 13-4-3 14 20 11 9-1-1 3 6 0 2-3 3 0 2-5-1-2-1 0-1-2 1 0 0-1-3 0-2 0 0 4 2 0-5-2 0 3 12 2 0-5-1-1 5 5 1 0 1 0 2 0 1 0 1 2 1 0 2 0 0 0 1 0 1 1 0 0 1 0 0-1 1-2-1-1-2 0-6 0 0 3-1 10-1-1-2 0-3 0 0 1-1 1 0-3 0-2 0-1-2 2-2 1 14 2 0 4 4 1 1-1 0-1 1 2 5-1 3-4 3 3 1 1 0 0 1 0-1 1 3 0 5 0 2-2-1 4 4 2 0-4 4 0 1 2 0 1 3-3 0-1-1-2-1-3 0 0 3-1-6 2 0-4-2 1-1-2 0 4-3-3 0-3-1 0-2 2-6 0-2-2-2-1-2-1-2-1 4 5 6-4 1 1-1-3 24 13 5-1 1 0 0 5 1 2 0 1 3 1 4 0 1 3 1 5-5 0-3 0 0-1-2-4-4-7-6 4-3 1-2 3 19-11 5 0 0 0 1-3-3 6 0 0 5 2 0 1 5 2-1 1 3 0-1 1 5 0 4 0-1 1 1 2 2-1-1 6-4 3-5-1 0 0-2-3 19 1 3 0 2-3-1-2-2-2 7 1 0 6 5 1 2 0 1 1 0-3 1 0-1-4-1 0 0-2 7 4 2 1 1 1 1 2 0 6-6-2-3 1-4 0-3-2-5 1-2 1-2 0 0 0-4-21-2 0-4 0-4-1 0-1-1 0 1-1 0-2 49 15-1 3 1 2 3 3-2 2-2 0-2 1 1 1 1 3 4 0 4-3 4 0-2-2 0-1-2-2-1 0 1-3 1-1 4 0 1 4 3 0-1 5 5-2 4 1 2 3 3-1 1-1-1-1-2-3-5-2 8-4 6 1 4-1 0 4 2-1 2 2 3-3 0 0 1-1 1 1-1-3 3 0 3 4 1 3 2 0 0 3 4 0 0 0 4 1 1 2-2 1 5-1 2-3 3 0 0 5 6-2 0-3 1-2 0 0 1 0 0-2-5 2 1 1 0-6-4 0-1-2-1-1-4 0-1 0-9 2-4 7-4-1 2 4 1 2-1 2 4-1-8-1 0 0-8-3 1-2-3 0 0 3-3-2 52 1 6 0 1-2 0-3 1-1-2-1 0-2-2-3 6 1 1 0 1 1 1 3 1-3 4 2 0 1 0 0 4-2 2 0 0 0 1 4-4 2 0 1 8 2 1-4-2-4 5 0 0 1 3-2 3-1-1 5 2 1 3-2 2 4-1 1-2 1-5 2-5 1 0-16 15 1 0 3 6 1 2 2 0 4 1 4 4-2 0-3 2-3-3-4-5-2 0 0-2 0-2 8 16 4 0 0 4 1 5-1 0 0-2-1 7-1 1-5-2 1-1-1-2 1 2-5 6 1 1-5 1 0 1 0 4 2 0 4-1 4-2 0-1 4-1 1 12-4 3 2 4-4 1-1 2 1 1-3-4 0 0-2-1-1 2-3-6 0-4 1 1 4 14 7 6-5 2-1 3-2 3-3 2-3 0-1 9 0 7 0-2-3 5 2 3-1 2-3 2-2 5-1 4 1 3 2 3 1 3 2 4 1 1 0 1-3 2-1 3-1 2-3 0 0 6-5 2-1 6-2 6 0 0 4 3 0 2-1 1-6 1 1 2-2 1 0-1 5 1 1 3-1 4 0 3 6 0 0 4 0 0-1 3-3 2 0-2-5-2 2-1-1-1 0 1-1 0 0-2-5 5-1 4 1 1 0 8 3 3 0 3-1 1-2 7 2 1-4 3 5 4-2 4-1 0-2 0 5 0 1 4 0 3 1 2 2-1 0-1 3 0 1-2 1 0 2-3 2-1-4 0-2 4-2 1-6 3-1-1-3-1 1 0 0-2-3 7 3 1 0 2-3 1-1 0-1 1-1 0 2 0-2 1-3 1-1-1-2-1-1-3-1-1 3 2 3-6-1 14 3 1-5 4-2 2 0-1-3 1-4-3-1-1-2 1-4 0-1-4 3 0 5-3 3 15-5 0-1-1-1 0-2-1 0-1 0 5-3 1 0 0-6-2 1-4-1-1 0 12-4-1-1 0-3-2 0-2-1 0-1 1-3 2-3 5 1 4-2 1 1 1 0 0 3 9-2 0-2 1 10-1 7 2 0 1 4 0 1 0 2 0 7 1 2 1 3 0 1-19-25 1-1 0-17-2 0-3-1-1 1-1 1 4-5 2-1 1 1 5-2 1-1 4-1-4-4-1-3-3-1 1-3 1-2 1 1 4 2-8 6-3 1 4 1-33 70-4 3-17 10-8 0-1 5 1 1 3 0 0-1-8 1 0 1-2-1-1 1-2 1-1-4 2-3 1 1 2 0-12 1-4 0-4 1-1 2-3 1-6 1-2-2-2-1 0-3-2 1-2-1-1 0 0 2-2 1 0-5 2 0 1-2-12 2-1 4 3 1 1 1-17 3-3 2-5 0-3 2-8-13-8 7-1 1-9 7-3-1-2-2-5 2 0 1-3 3-1 3-1 0-1-2 5 2 13-2-30 4-10-10 0-2 2 0-45 3 1 5-63 10-4 3-6-14-2-2 245-8 4-26-534-13-1-7-34-5-8-7-9 0-7 1-2-1-6-6" style="marker:url(#m6t)"/>
</g>
<path d="M-6.4 1348.7L-6.5 1326.3L-6.0 1303.9L-4.9 1281.4L-3.3 1259.0L-1.1 1236.6L1.6 1214.2L4.9 1191.7L8.8 1169.3L13.1 1146.9L18.0 1124.4L23.4 1102.0L29.4 1079.6L35.8 1057.1L42.8 1034.7L50.2 1012.3L58.2 989.9L66.7 967.4L75.6 945.0L85.0 922.6L94.9 900.1L105.3 877.7L116.2 855.3L127.5 832.8L139.3 810.4L151.5 788.0L164.2 765.6L177.3 743.1L190.9 720.7M142.5 1348.7L142.8 1326.3L143.6 1303.9L145.0 1281.4L146.9 1259.0L149.4 1236.6L152.5 1214.2L156.0 1191.7L160.2 1169.3L164.8 1146.9L170.0 1124.4L175.7 1102.0L181.9 1079.6L188.6 1057.1L195.8 1034.7L203.6 1012.3L211.8 989.9L220.5 967.4L229.7 945.0L239.3 922.6L249.5 900.1L260.1 877.7L271.2 855.3L282.7 832.8L294.7 810.4L307.2 788.0L320.0 765.6L333.4 743.1L347.2 720.7M291.5 1348.7L292.0 1326.3L293.2 1303.9L294.9 1281.4L297.1 1259.0L299.9 1236.6L303.3 1214.2L307.1 1191.7L311.5 1169.3L316.5 1146.9L321.9 1124.4L327.9 1102.0L334.4 1079.6L341.4 1057.1L348.8 1034.7L356.8 1012.3L365.3 989.9L374.2 967.4L383.7 945.0L393.6 922.6L403.9 900.1L414.8 877.7L426.1 855.3L437.9 832.8L450.1 810.4L462.7 788.0L475.8 765.6L489.4 743.1L503.4 720.7M440.4 1348.7L441.3 1326.3L442.7 1303.9L444.7 1281.4L447.3 1259.0L450.4 1236.6L452.0 1226.3M466.8 1152.3L468.1 1146.9L473.8 1124.4L480.0 1102.0L486.8 1079.6L494.0 1057.1L501.8 1034.7L510.0 1012.3L518.7 989.9L527.9 967.4L537.6 945.0L547.7 922.6L558.3 900.1L569.4 877.7L580.9 855.3L592.9 832.8L605.4 810.4L618.2 788.0L631.5 765.6L645.3 743.1L659.5 720.7M589.2 1348.7L590.4 1326.3L592.2 1303.9L594.5 1281.4L597.4 1259.0L600.8 1236.6L602.5 1226.3M618.3 1152.3L619.6 1146.9L625.6 1124.4L632.1 1102.0L639.2 1079.6L646.7 1057.1L654.7 1034.7L663.1 1012.3L672.1 989.9L681.5 967.4L691.5 945.0L701.8 922.6L712.7 900.1L724.0 877.7L735.7 855.3L747.9 832.8L760.6 810.4L773.7 788.0L787.2 765.6L801.1 743.1L815.5 720.7M738.1 1348.7L739.6 1326.3L741.7 1303.9L744.3 1281.4L747.4 1259.0L751.1 1236.6L755.4 1214.2L760.1 1191.7L765.4 1169.3L771.1 1146.9L777.4 1124.4L784.2 1102.0L791.5 1079.6L799.2 1057.1L807.5 1034.7L816.2 1012.3L825.4 989.9L835.1 967.4L845.2 945.0L855.9 922.6L866.9 900.1L878.5 877.7L890.4 855.3L902.8 832.8L915.7 810.4L929.0 788.0L942.7 765.6L956.9 743.1L971.4 720.7M886.8 1348.7L888.7 1326.3L891.1 1303.9L894.0 1281.4L897.5 1259.0L901.4 1236.6L906.0 1214.2L911.0 1191.7L916.5 1169.3L922.6 1146.9L929.1 1124.4L936.2 1102.0L943.7 1079.6L951.7 1057.1L960.2 1034.7L969.2 1012.3L978.7 989.9L988.6 967.4L999.0 945.0L1009.8 922.6L1021.1 900.1L1032.8 877.7L1045.0 855.3L1057.7 832.8L1070.7 810.4L1084.2 788.0L1098.2 765.6L1112.5 743.1L1127.3 720.7M1035.6 1348.7L1037.7 1326.3L1040.4 1303.9L1043.7 1281.4L1047.4 1259.0L1051.7 1236.6L1056.5 1214.2L1061.8 1191.7L1067.6 1169.3L1073.9 1146.9L1080.8 1124.4L1088.1 1102.0L1095.9 1079.6L1104.1 1057.1L1112.9 1034.7L1122.1 1012.3L1131.8 989.9L1142.0 967.4L1152.6 945.0L1163.7 922.6L1175.2 900.1L1187.2 877.7L1199.6 855.3L1212.4 832.8L1225.7 810.4L1239.4 788.0L1253.5 765.6L1268.1 743.1L1283.0 720.7" stroke="#4a4a4a" stroke-width="1" fill="none" clip-path="url(#cb)"/>
<text transform="translate(131.3 780.8) rotate(-62.0)" y="8.3" font-size="23.3" fill="#5a5a5a" text-anchor="middle">1021</text>
<text transform="translate(290.2 780.1) rotate(-62.0)" y="8.3" font-size="23.3" fill="#5a5a5a" text-anchor="middle">1022</text>
<text transform="translate(436.8 781.0) rotate(-62.0)" y="8.3" font-size="23.3" fill="#5a5a5a" text-anchor="middle">1023</text>
<text transform="translate(908.2 781.5) rotate(-60.5)" y="8.3" font-size="23.3" fill="#5a5a5a" text-anchor="middle">1026</text>
<text transform="translate(1054.4 780.9) rotate(-60.5)" y="8.3" font-size="23.3" fill="#5a5a5a" text-anchor="middle">1027</text>
<text transform="translate(1115.3 962.7) rotate(-59.5)" y="8.3" font-size="23.3" fill="#5a5a5a" text-anchor="middle">1028</text>
<text transform="translate(461.0 1191.0) rotate(-80.0)" y="8.8" font-size="24.6" fill="#111" text-anchor="middle">1024</text>
<text transform="translate(611.8 1188.8) rotate(-80.0)" y="8.8" font-size="24.6" fill="#111" text-anchor="middle">1025</text>
<g><ellipse cx="0" cy="0" rx="242.1" ry="179.4" transform="translate(458.0 1160.3) rotate(0.0)" fill="none" stroke="#0a0aff" stroke-width="1.4"/></g>
<g><ellipse cx="0" cy="0" rx="130.0" ry="72.0" transform="translate(604.0 855.8) rotate(52.0)" fill="none" stroke="#111" stroke-width="1.4"/></g>
<rect x="699.5" y="747.0" width="146.0" height="331.6" fill="none" stroke="#111" stroke-width="1.45"/>
<g><ellipse cx="0" cy="0" rx="54.0" ry="90.0" transform="translate(773.0 1169.3) rotate(3.0)" fill="none" stroke="#111" stroke-width="1.4"/></g>
<g><ellipse cx="0" cy="0" rx="45.0" ry="19.7" transform="translate(857.6 1102.8) rotate(-54.0)" fill="none" stroke="#111" stroke-width="1.4"/></g>
<g><ellipse cx="0" cy="0" rx="75.8" ry="17.0" transform="translate(984.9 1147.9) rotate(52.0)" fill="none" stroke="#111" stroke-width="1.4"/></g>
<g><ellipse cx="0" cy="0" rx="24.4" ry="44.6" transform="translate(1063.6 1250.8) rotate(0.0)" fill="none" stroke="#111" stroke-width="1.4"/></g>
<g clip-path="url(#cb)"><ellipse cx="0" cy="0" rx="153.0" ry="45.0" transform="translate(845.0 1303.3) rotate(0.0)" fill="none" stroke="#111" stroke-width="1.4"/></g>
<text x="507.0" y="744.3" font-size="26.7" font-weight="bold" fill="#000">ACW</text>
<text x="724.0" y="744.3" font-size="26.7" font-weight="bold" fill="#000">BSW</text>
<text x="851.0" y="1158.3" font-size="26.7" font-weight="bold" fill="#000">CIL</text>
<text x="820.0" y="1225.3" font-size="26.7" font-weight="bold" fill="#000">AW</text>
<text x="1003.0" y="1135.3" font-size="26.7" font-weight="bold" fill="#000">BDW</text>
<text x="1099.0" y="1271.3" font-size="26.7" font-weight="bold" fill="#000">ATW</text>
<text x="967.0" y="1337.3" font-size="26.7" font-weight="bold" fill="#000">WW</text>
<path d="M94.8 719.9V1348.7H1185.0" stroke="#4d4d4d" stroke-width="1.9" fill="none"/>
<path d="M215.9 1348.7v-11.8M336.9 1348.7v-11.8M458.0 1348.7v-11.8M579.1 1348.7v-11.8M700.1 1348.7v-11.8M821.2 1348.7v-11.8M942.3 1348.7v-11.8M1063.4 1348.7v-11.8M1184.4 1348.7v-11.8M94.8 1259.0h11.8M94.8 1168.5h11.8M94.8 1079.3h11.8M94.8 989.2h11.8M94.8 898.8h11.8M94.8 810.0h11.8M94.8 720.5h11.8" stroke="#4d4d4d" stroke-width="1.3" fill="none"/>
<text x="94.8" y="1389.0" font-size="27.2" fill="#262626" text-anchor="middle">27</text>
<text x="215.9" y="1389.0" font-size="27.2" fill="#262626" text-anchor="middle">28</text>
<text x="336.9" y="1389.0" font-size="27.2" fill="#262626" text-anchor="middle">29</text>
<text x="458.0" y="1389.0" font-size="27.2" fill="#262626" text-anchor="middle">30</text>
<text x="579.1" y="1389.0" font-size="27.2" fill="#262626" text-anchor="middle">31</text>
<text x="700.1" y="1389.0" font-size="27.2" fill="#262626" text-anchor="middle">32</text>
<text x="821.2" y="1389.0" font-size="27.2" fill="#262626" text-anchor="middle">33</text>
<text x="942.3" y="1389.0" font-size="27.2" fill="#262626" text-anchor="middle">34</text>
<text x="1063.4" y="1389.0" font-size="27.2" fill="#262626" text-anchor="middle">35</text>
<text x="1184.4" y="1389.0" font-size="27.2" fill="#262626" text-anchor="middle">36</text>
<text x="82.8" y="1358.7" font-size="27.2" fill="#262626" text-anchor="end">-2</text>
<text x="82.8" y="1269.0" font-size="27.2" fill="#262626" text-anchor="end">0</text>
<text x="82.8" y="1178.5" font-size="27.2" fill="#262626" text-anchor="end">2</text>
<text x="82.8" y="1089.3" font-size="27.2" fill="#262626" text-anchor="end">4</text>
<text x="82.8" y="999.2" font-size="27.2" fill="#262626" text-anchor="end">6</text>
<text x="82.8" y="908.8" font-size="27.2" fill="#262626" text-anchor="end">8</text>
<text x="82.8" y="820.0" font-size="27.2" fill="#262626" text-anchor="end">10</text>
<text x="82.8" y="730.5" font-size="27.2" fill="#262626" text-anchor="end">12</text>
<g transform="translate(38 1204.2) rotate(-90)" fill="#262626"><text x="-2" y="0" font-size="29.6">Potential temperature (</text><circle cx="308.5" cy="-19.3" r="1.7" fill="none" stroke="#262626" stroke-width="0.9"/><path d="M327.5 -16.5a8.3 10.4 0 1 0 0 12" fill="none" stroke="#262626" stroke-width="1.7"/><text x="332" y="0" font-size="29.6">)</text></g>
<text x="0.5" y="40.6" font-size="27.5" font-weight="bold" fill="#000">A</text>
<text x="1.5" y="741.3" font-size="27.5" font-weight="bold" fill="#000">B</text>
<text x="640.1" y="1427.5" font-size="29.8" fill="#262626" text-anchor="middle">Salinity(PSU)</text>
<rect x="1220.6" y="32.60" width="44.2" height="10.11" fill="#870000"/>
<rect x="1220.6" y="42.41" width="44.2" height="10.11" fill="#970000"/>
<rect x="1220.6" y="52.22" width="44.2" height="10.11" fill="#a70000"/>
<rect x="1220.6" y="62.03" width="44.2" height="10.11" fill="#b70000"/>
<rect x="1220.6" y="71.84" width="44.2" height="10.11" fill="#c70000"/>
<rect x="1220.6" y="81.65" width="44.2" height="10.11" fill="#d70000"/>
<rect x="1220.6" y="91.47" width="44.2" height="10.11" fill="#e70000"/>
<rect x="1220.6" y="101.28" width="44.2" height="10.11" fill="#f70000"/>
<rect x="1220.6" y="111.09" width="44.2" height="10.11" fill="#ff0800"/>
<rect x="1220.6" y="120.90" width="44.2" height="10.11" fill="#ff1800"/>
<rect x="1220.6" y="130.71" width="44.2" height="10.11" fill="#ff2800"/>
<rect x="1220.6" y="140.52" width="44.2" height="10.11" fill="#ff3800"/>
<rect x="1220.6" y="150.33" width="44.2" height="10.11" fill="#ff4800"/>
<rect x="1220.6" y="160.14" width="44.2" height="10.11" fill="#ff5800"/>
<rect x="1220.6" y="169.95" width="44.2" height="10.11" fill="#ff6800"/>
<rect x="1220.6" y="179.76" width="44.2" height="10.11" fill="#ff7800"/>
<rect x="1220.6" y="189.57" width="44.2" height="10.11" fill="#ff8700"/>
<rect x="1220.6" y="199.39" width="44.2" height="10.11" fill="#ff9700"/>
<rect x="1220.6" y="209.20" width="44.2" height="10.11" fill="#ffa700"/>
<rect x="1220.6" y="219.01" width="44.2" height="10.11" fill="#ffb700"/>
<rect x="1220.6" y="228.82" width="44.2" height="10.11" fill="#ffc700"/>
<rect x="1220.6" y="238.63" width="44.2" height="10.11" fill="#ffd700"/>
<rect x="1220.6" y="248.44" width="44.2" height="10.11" fill="#ffe700"/>
<rect x="1220.6" y="258.25" width="44.2" height="10.11" fill="#fff700"/>
<rect x="1220.6" y="268.06" width="44.2" height="10.11" fill="#f7ff08"/>
<rect x="1220.6" y="277.87" width="44.2" height="10.11" fill="#e7ff18"/>
<rect x="1220.6" y="287.68" width="44.2" height="10.11" fill="#d7ff28"/>
<rect x="1220.6" y="297.50" width="44.2" height="10.11" fill="#c7ff38"/>
<rect x="1220.6" y="307.31" width="44.2" height="10.11" fill="#b7ff48"/>
<rect x="1220.6" y="317.12" width="44.2" height="10.11" fill="#a7ff58"/>
<rect x="1220.6" y="326.93" width="44.2" height="10.11" fill="#97ff68"/>
<rect x="1220.6" y="336.74" width="44.2" height="10.11" fill="#87ff78"/>
<rect x="1220.6" y="346.55" width="44.2" height="10.11" fill="#78ff87"/>
<rect x="1220.6" y="356.36" width="44.2" height="10.11" fill="#68ff97"/>
<rect x="1220.6" y="366.17" width="44.2" height="10.11" fill="#58ffa7"/>
<rect x="1220.6" y="375.98" width="44.2" height="10.11" fill="#48ffb7"/>
<rect x="1220.6" y="385.79" width="44.2" height="10.11" fill="#38ffc7"/>
<rect x="1220.6" y="395.60" width="44.2" height="10.11" fill="#28ffd7"/>
<rect x="1220.6" y="405.42" width="44.2" height="10.11" fill="#18ffe7"/>
<rect x="1220.6" y="415.23" width="44.2" height="10.11" fill="#08fff7"/>
<rect x="1220.6" y="425.04" width="44.2" height="10.11" fill="#00f7ff"/>
<rect x="1220.6" y="434.85" width="44.2" height="10.11" fill="#00e7ff"/>
<rect x="1220.6" y="444.66" width="44.2" height="10.11" fill="#00d7ff"/>
<rect x="1220.6" y="454.47" width="44.2" height="10.11" fill="#00c7ff"/>
<rect x="1220.6" y="464.28" width="44.2" height="10.11" fill="#00b7ff"/>
<rect x="1220.6" y="474.09" width="44.2" height="10.11" fill="#00a7ff"/>
<rect x="1220.6" y="483.90" width="44.2" height="10.11" fill="#0097ff"/>
<rect x="1220.6" y="493.71" width="44.2" height="10.11" fill="#0087ff"/>
<rect x="1220.6" y="503.52" width="44.2" height="10.11" fill="#0078ff"/>
<rect x="1220.6" y="513.34" width="44.2" height="10.11" fill="#0068ff"/>
<rect x="1220.6" y="523.15" width="44.2" height="10.11" fill="#0058ff"/>
<rect x="1220.6" y="532.96" width="44.2" height="10.11" fill="#0048ff"/>
<rect x="1220.6" y="542.77" width="44.2" height="10.11" fill="#0038ff"/>
<rect x="1220.6" y="552.58" width="44.2" height="10.11" fill="#0028ff"/>
<rect x="1220.6" y="562.39" width="44.2" height="10.11" fill="#0018ff"/>
<rect x="1220.6" y="572.20" width="44.2" height="10.11" fill="#0008ff"/>
<rect x="1220.6" y="582.01" width="44.2" height="10.11" fill="#0000f7"/>
<rect x="1220.6" y="591.82" width="44.2" height="10.11" fill="#0000e7"/>
<rect x="1220.6" y="601.63" width="44.2" height="10.11" fill="#0000d7"/>
<rect x="1220.6" y="611.45" width="44.2" height="10.11" fill="#0000c7"/>
<rect x="1220.6" y="621.26" width="44.2" height="10.11" fill="#0000b7"/>
<rect x="1220.6" y="631.07" width="44.2" height="10.11" fill="#0000a7"/>
<rect x="1220.6" y="640.88" width="44.2" height="10.11" fill="#000097"/>
<rect x="1220.6" y="650.69" width="44.2" height="10.11" fill="#000087"/>
<rect x="1220.6" y="32.6" width="44.2" height="627.9" fill="none" stroke="#404040" stroke-width="1.1"/>
<text x="1275.3" y="125.1" font-size="25.4" fill="#262626">5</text>
<text x="1275.3" y="188.1" font-size="25.4" fill="#262626">10</text>
<text x="1275.3" y="251.1" font-size="25.4" fill="#262626">20</text>
<text x="1275.3" y="314.1" font-size="25.4" fill="#262626">40</text>
<text x="1275.3" y="351.0" font-size="25.4" fill="#262626">60</text>
<text x="1275.3" y="397.4" font-size="25.4" fill="#262626">100</text>
<text x="1275.3" y="460.4" font-size="25.4" fill="#262626">200</text>
<text x="1275.3" y="543.7" font-size="25.4" fill="#262626">500</text>
<text x="1275.3" y="606.7" font-size="25.4" fill="#262626">1000</text>
<text x="1275.3" y="669.7" font-size="25.4" fill="#262626">2000</text>
<path d="M1264.8 115.9h-6.5M1264.8 178.9h-6.5M1264.8 241.9h-6.5M1264.8 304.9h-6.5M1264.8 341.8h-6.5M1264.8 388.2h-6.5M1264.8 451.2h-6.5M1264.8 534.5h-6.5M1264.8 597.5h-6.5" stroke="#404040" stroke-width="1.2"/>
<text x="1192" y="17.8" font-size="24.8" fill="#262626">Depth(m)</text>
<rect x="1021.8" y="741.4" width="140" height="208.8" fill="#fff" stroke="#404040" stroke-width="1.3"/>
<g fill="none" stroke-width="1.25">
<path d="M1071 754.3v16.2m-8.1-8.1h16.2m-2.3-5.8l-11.6 11.6m0-11.6l11.6 11.6" stroke="#00ff00"/>
<circle cx="1071" cy="796.2" r="2.5" fill="#000"/>
<circle cx="1071" cy="829.9" r="8.4" stroke="#0000ff"/>
<path d="M1065 858.0l12 10.6m0-10.6l-12 10.6" stroke="#ffff00"/>
<path d="M1071 885.0l10.2 17.4h-20.4z" stroke="#ff00ff"/>
<path d="M1063.7 922.5h14.6v14.6h-14.6z" stroke="#ff0000"/>
</g>
<text x="1119" y="771.2" font-size="24" fill="#111">BL</text>
<text x="1119" y="805.0" font-size="24" fill="#111">BS</text>
<text x="1119" y="838.7" font-size="24" fill="#111">BR</text>
<text x="1119" y="872.1" font-size="24" fill="#111">R</text>
<text x="1119" y="905.6" font-size="24" fill="#111">BT</text>
<text x="1119" y="938.6" font-size="24" fill="#111">M</text>
</svg></body></html>
